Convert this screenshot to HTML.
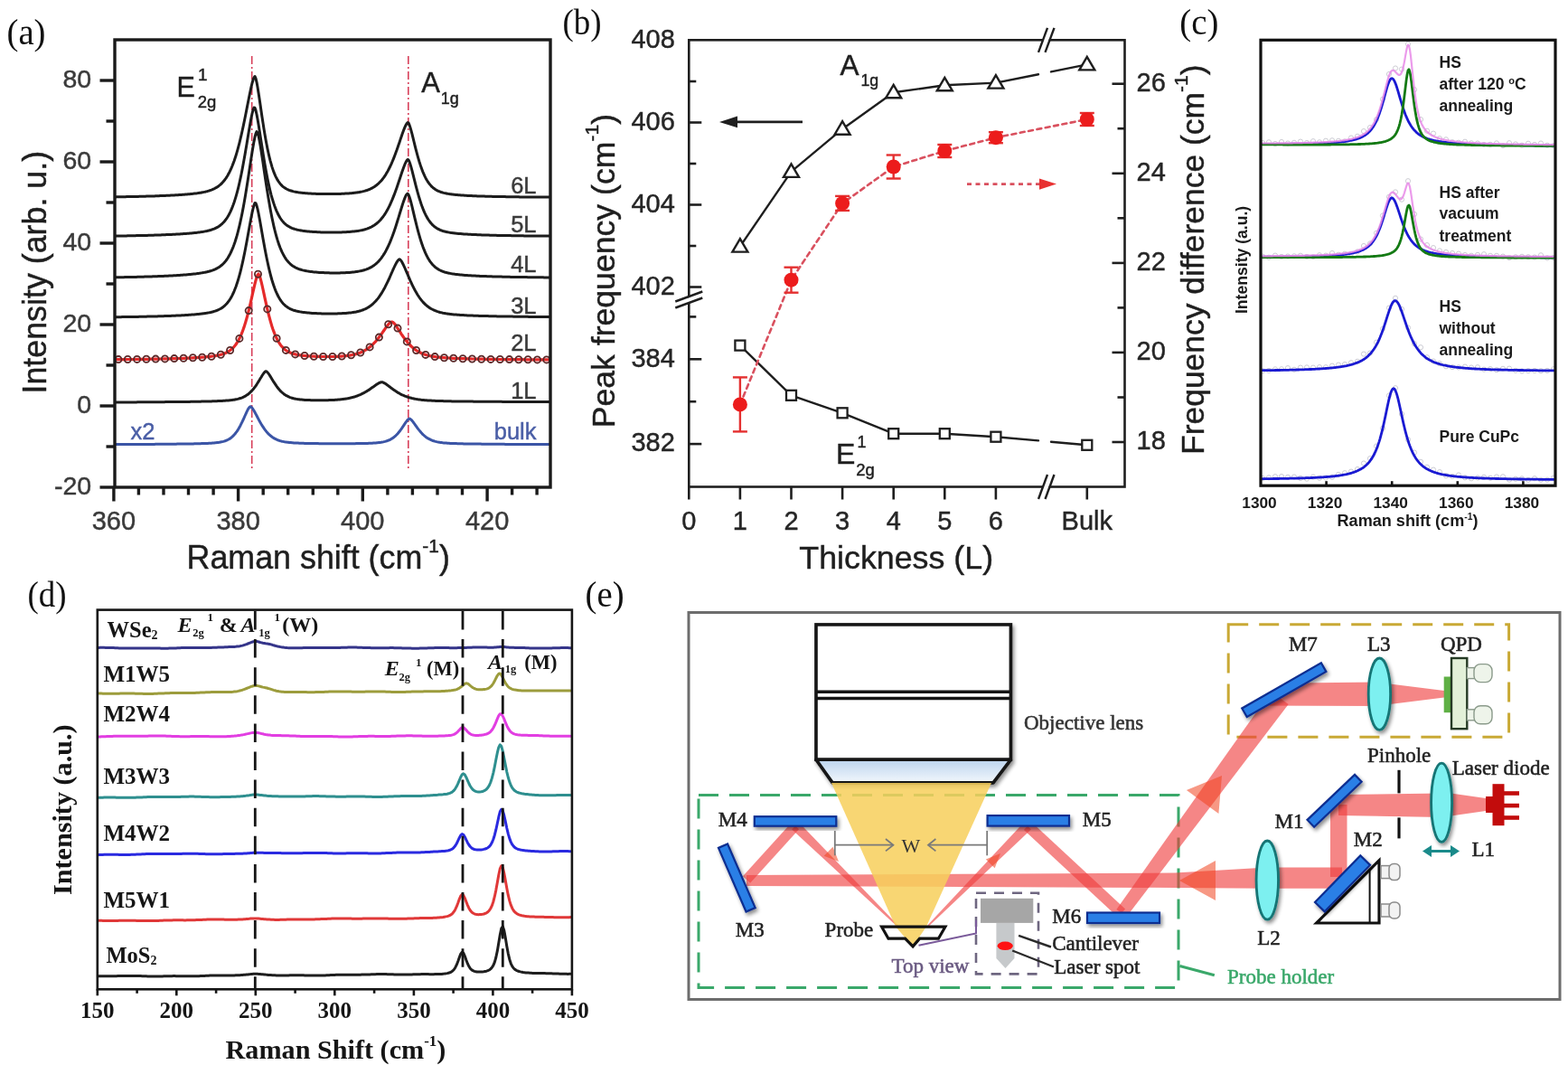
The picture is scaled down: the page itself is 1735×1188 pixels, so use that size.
<!DOCTYPE html>
<html><head><meta charset="utf-8"><title>Raman figure</title>
<style>html,body{margin:0;padding:0;background:#fff;width:1735px;height:1188px;overflow:hidden}svg{display:block}</style>
</head><body>
<svg width="1735" height="1188" viewBox="0 0 1735 1188">
<text x="7.5" y="49" font-family='"Liberation Serif", "Times New Roman", serif' font-size="40" fill="#111" text-anchor="start" font-weight="normal" font-style="normal" textLength="43" lengthAdjust="spacingAndGlyphs">(a)</text>
<text x="622.5" y="37.8" font-family='"Liberation Serif", "Times New Roman", serif' font-size="40" fill="#111" text-anchor="start" font-weight="normal" font-style="normal" textLength="43" lengthAdjust="spacingAndGlyphs">(b)</text>
<text x="1305.3" y="38.4" font-family='"Liberation Serif", "Times New Roman", serif' font-size="40" fill="#111" text-anchor="start" font-weight="normal" font-style="normal" textLength="43" lengthAdjust="spacingAndGlyphs">(c)</text>
<text x="30.5" y="671.4" font-family='"Liberation Serif", "Times New Roman", serif' font-size="40" fill="#111" text-anchor="start" font-weight="normal" font-style="normal" textLength="43" lengthAdjust="spacingAndGlyphs">(d)</text>
<text x="647.6" y="670.7" font-family='"Liberation Serif", "Times New Roman", serif' font-size="40" fill="#111" text-anchor="start" font-weight="normal" font-style="normal" textLength="43" lengthAdjust="spacingAndGlyphs">(e)</text>
<line x1="278.7" y1="62" x2="278.7" y2="521" stroke="#d8405a" stroke-width="1.6" stroke-dasharray="9 3 2 3"/>
<line x1="451.8" y1="62" x2="451.8" y2="521" stroke="#d8405a" stroke-width="1.6" stroke-dasharray="9 3 2 3"/>
<polyline points="128,217.9 129,217.8 130,217.8 131,217.8 132,217.8 133,217.8 134,217.8 135,217.7 136,217.7 137,217.7 138,217.7 139,217.7 140,217.6 141,217.6 142,217.6 143,217.6 144,217.6 145,217.5 146,217.5 147,217.5 148,217.5 149,217.5 150,217.4 151,217.4 152,217.4 153,217.4 154,217.3 155,217.3 156,217.3 157,217.3 158,217.2 159,217.2 160,217.2 161,217.2 162,217.1 163,217.1 164,217.1 165,217 166,217 167,217 168,217 169,216.9 170,216.9 171,216.9 172,216.8 173,216.8 174,216.8 175,216.7 176,216.7 177,216.6 178,216.6 179,216.6 180,216.5 181,216.5 182,216.4 183,216.4 184,216.3 185,216.3 186,216.3 187,216.2 188,216.2 189,216.1 190,216.1 191,216 192,216 193,215.9 194,215.8 195,215.8 196,215.7 197,215.7 198,215.6 199,215.5 200,215.5 201,215.4 202,215.3 203,215.2 204,215.2 205,215.1 206,215 207,214.9 208,214.8 209,214.8 210,214.7 211,214.6 212,214.5 213,214.4 214,214.2 215,214.1 216,214 217,213.9 218,213.8 219,213.6 220,213.5 221,213.3 222,213.2 223,213 224,212.8 225,212.6 226,212.4 227,212.2 228,211.9 229,211.7 230,211.4 231,211.1 232,210.8 233,210.4 234,210.1 235,209.7 236,209.2 237,208.8 238,208.2 239,207.7 240,207.1 241,206.4 242,205.7 243,204.9 244,204.1 245,203.1 246,202.1 247,201 248,199.8 249,198.5 250,197.1 251,195.6 252,193.9 253,192.1 254,190.2 255,188.1 256,185.9 257,183.5 258,180.9 259,178.2 260,175.3 261,172.2 262,168.9 263,165.4 264,161.7 265,157.8 266,153.7 267,149.4 268,145 269,140.4 270,135.6 271,130.7 272,125.7 273,120.6 274,115.5 275,110.5 276,105.5 277,100.7 278,96.1 279,92 280,88.5 281,85.8 282,84.5 283,86.6 284,90.8 285,96.3 286,102.4 287,109 288,115.8 289,122.7 290,129.5 291,136 292,142.4 293,148.4 294,154.2 295,159.6 296,164.6 297,169.3 298,173.6 299,177.6 300,181.2 301,184.6 302,187.6 303,190.4 304,192.8 305,195.1 306,197.1 307,198.9 308,200.5 309,201.9 310,203.2 311,204.4 312,205.4 313,206.3 314,207.1 315,207.8 316,208.4 317,209 318,209.5 319,210 320,210.4 321,210.7 322,211 323,211.3 324,211.6 325,211.9 326,212.1 327,212.3 328,212.5 329,212.6 330,212.8 331,212.9 332,213.1 333,213.2 334,213.3 335,213.4 336,213.5 337,213.6 338,213.7 339,213.8 340,213.8 341,213.9 342,214 343,214 344,214.1 345,214.2 346,214.2 347,214.3 348,214.3 349,214.3 350,214.4 351,214.4 352,214.4 353,214.5 354,214.5 355,214.5 356,214.5 357,214.6 358,214.6 359,214.6 360,214.6 361,214.6 362,214.6 363,214.6 364,214.6 365,214.6 366,214.6 367,214.6 368,214.6 369,214.6 370,214.6 371,214.5 372,214.5 373,214.5 374,214.5 375,214.4 376,214.4 377,214.4 378,214.3 379,214.3 380,214.2 381,214.2 382,214.1 383,214.1 384,214 385,214 386,213.9 387,213.8 388,213.7 389,213.7 390,213.6 391,213.5 392,213.3 393,213.2 394,213.1 395,213 396,212.8 397,212.7 398,212.5 399,212.3 400,212.1 401,211.9 402,211.6 403,211.4 404,211.1 405,210.8 406,210.5 407,210.1 408,209.8 409,209.3 410,208.9 411,208.4 412,207.9 413,207.3 414,206.7 415,206 416,205.3 417,204.5 418,203.7 419,202.8 420,201.8 421,200.8 422,199.7 423,198.5 424,197.2 425,195.8 426,194.3 427,192.8 428,191.1 429,189.4 430,187.5 431,185.5 432,183.5 433,181.3 434,179 435,176.6 436,174.1 437,171.5 438,168.8 439,166.1 440,163.2 441,160.3 442,157.4 443,154.4 444,151.5 445,148.6 446,145.8 447,143.1 448,140.6 449,138.5 450,136.8 451,135.6 452,136 453,138.1 454,141.1 455,144.6 456,148.4 457,152.4 458,156.5 459,160.6 460,164.6 461,168.4 462,172.1 463,175.6 464,179 465,182.1 466,185.1 467,187.8 468,190.4 469,192.7 470,194.9 471,196.9 472,198.7 473,200.3 474,201.8 475,203.2 476,204.4 477,205.6 478,206.6 479,207.5 480,208.3 481,209 482,209.7 483,210.3 484,210.8 485,211.3 486,211.7 487,212.1 488,212.5 489,212.8 490,213.1 491,213.4 492,213.6 493,213.8 494,214 495,214.2 496,214.4 497,214.6 498,214.7 499,214.8 500,215 501,215.1 502,215.2 503,215.3 504,215.4 505,215.5 506,215.6 507,215.7 508,215.8 509,215.8 510,215.9 511,216 512,216.1 513,216.1 514,216.2 515,216.2 516,216.3 517,216.4 518,216.4 519,216.5 520,216.5 521,216.6 522,216.6 523,216.7 524,216.7 525,216.7 526,216.8 527,216.8 528,216.9 529,216.9 530,216.9 531,217 532,217 533,217 534,217.1 535,217.1 536,217.1 537,217.2 538,217.2 539,217.2 540,217.2 541,217.3 542,217.3 543,217.3 544,217.3 545,217.4 546,217.4 547,217.4 548,217.4 549,217.5 550,217.5 551,217.5 552,217.5 553,217.5 554,217.6 555,217.6 556,217.6 557,217.6 558,217.6 559,217.6 560,217.7 561,217.7 562,217.7 563,217.7 564,217.7 565,217.7 566,217.7 567,217.8 568,217.8 569,217.8 570,217.8 571,217.8 572,217.8 573,217.8 574,217.8 575,217.9 576,217.9 577,217.9 578,217.9 579,217.9 580,217.9 581,217.9 582,217.9 583,217.9 584,218 585,218 586,218 587,218 588,218 589,218 590,218 591,218 592,218 593,218 594,218 595,218.1 596,218.1 597,218.1 598,218.1 599,218.1 600,218.1 601,218.1 602,218.1 603,218.1 604,218.1 605,218.1 606,218.1 607,218.1 608,218.1" fill="none" stroke="#1c1c1c" stroke-width="3.0" stroke-linejoin="round" stroke-linecap="round" />
<polyline points="128,261.1 129,261 130,261 131,261 132,261 133,261 134,261 135,261 136,260.9 137,260.9 138,260.9 139,260.9 140,260.9 141,260.8 142,260.8 143,260.8 144,260.8 145,260.8 146,260.8 147,260.7 148,260.7 149,260.7 150,260.7 151,260.6 152,260.6 153,260.6 154,260.6 155,260.6 156,260.5 157,260.5 158,260.5 159,260.5 160,260.4 161,260.4 162,260.4 163,260.4 164,260.3 165,260.3 166,260.3 167,260.2 168,260.2 169,260.2 170,260.2 171,260.1 172,260.1 173,260.1 174,260 175,260 176,260 177,259.9 178,259.9 179,259.8 180,259.8 181,259.8 182,259.7 183,259.7 184,259.6 185,259.6 186,259.6 187,259.5 188,259.5 189,259.4 190,259.4 191,259.3 192,259.3 193,259.2 194,259.2 195,259.1 196,259.1 197,259 198,258.9 199,258.9 200,258.8 201,258.8 202,258.7 203,258.6 204,258.5 205,258.5 206,258.4 207,258.3 208,258.2 209,258.2 210,258.1 211,258 212,257.9 213,257.8 214,257.7 215,257.6 216,257.5 217,257.4 218,257.3 219,257.1 220,257 221,256.9 222,256.7 223,256.6 224,256.4 225,256.3 226,256.1 227,255.9 228,255.7 229,255.5 230,255.2 231,255 232,254.7 233,254.5 234,254.1 235,253.8 236,253.4 237,253.1 238,252.6 239,252.1 240,251.6 241,251.1 242,250.5 243,249.8 244,249 245,248.2 246,247.3 247,246.3 248,245.2 249,244 250,242.7 251,241.3 252,239.7 253,238 254,236.1 255,234.1 256,231.8 257,229.4 258,226.8 259,224 260,220.9 261,217.6 262,214.1 263,210.3 264,206.3 265,202 266,197.4 267,192.7 268,187.6 269,182.3 270,176.8 271,171.2 272,165.3 273,159.4 274,153.3 275,147.3 276,141.4 277,135.7 278,130.4 279,125.7 280,121.8 281,119.1 282,119.2 283,122.1 284,126.5 285,131.7 286,137.6 287,143.8 288,150.2 289,156.7 290,163.1 291,169.4 292,175.6 293,181.5 294,187.2 295,192.6 296,197.7 297,202.5 298,207.1 299,211.3 300,215.3 301,218.9 302,222.3 303,225.4 304,228.3 305,230.9 306,233.3 307,235.5 308,237.5 309,239.4 310,241 311,242.5 312,243.9 313,245.1 314,246.2 315,247.2 316,248.1 317,248.9 318,249.6 319,250.2 320,250.8 321,251.4 322,251.8 323,252.3 324,252.7 325,253 326,253.4 327,253.6 328,253.9 329,254.2 330,254.4 331,254.6 332,254.8 333,255 334,255.1 335,255.3 336,255.4 337,255.5 338,255.7 339,255.8 340,255.9 341,256 342,256.1 343,256.2 344,256.2 345,256.3 346,256.4 347,256.5 348,256.5 349,256.6 350,256.6 351,256.7 352,256.7 353,256.8 354,256.8 355,256.9 356,256.9 357,256.9 358,256.9 359,257 360,257 361,257 362,257 363,257 364,257 365,257 366,257.1 367,257.1 368,257.1 369,257 370,257 371,257 372,257 373,257 374,257 375,257 376,256.9 377,256.9 378,256.9 379,256.8 380,256.8 381,256.8 382,256.7 383,256.7 384,256.6 385,256.5 386,256.5 387,256.4 388,256.3 389,256.2 390,256.1 391,256 392,255.9 393,255.8 394,255.7 395,255.6 396,255.4 397,255.3 398,255.1 399,254.9 400,254.7 401,254.5 402,254.2 403,254 404,253.7 405,253.4 406,253.1 407,252.7 408,252.3 409,251.9 410,251.5 411,251 412,250.4 413,249.8 414,249.2 415,248.5 416,247.8 417,247 418,246.2 419,245.2 420,244.2 421,243.2 422,242 423,240.8 424,239.5 425,238.1 426,236.6 427,235 428,233.3 429,231.5 430,229.6 431,227.6 432,225.5 433,223.2 434,220.9 435,218.4 436,215.9 437,213.2 438,210.5 439,207.7 440,204.8 441,201.8 442,198.8 443,195.8 444,192.8 445,189.8 446,186.9 447,184.2 448,181.7 449,179.5 450,177.7 451,176.5 452,176.9 453,178.9 454,181.8 455,185.2 456,188.9 457,192.8 458,196.8 459,200.8 460,204.8 461,208.6 462,212.3 463,215.9 464,219.3 465,222.4 466,225.5 467,228.3 468,230.9 469,233.3 470,235.6 471,237.7 472,239.6 473,241.4 474,243 475,244.4 476,245.8 477,247 478,248.1 479,249.1 480,250 481,250.8 482,251.6 483,252.3 484,252.9 485,253.4 486,253.9 487,254.4 488,254.8 489,255.1 490,255.5 491,255.8 492,256 493,256.3 494,256.5 495,256.7 496,256.9 497,257.1 498,257.3 499,257.4 500,257.6 501,257.7 502,257.8 503,258 504,258.1 505,258.2 506,258.3 507,258.4 508,258.5 509,258.6 510,258.6 511,258.7 512,258.8 513,258.9 514,258.9 515,259 516,259.1 517,259.1 518,259.2 519,259.2 520,259.3 521,259.3 522,259.4 523,259.5 524,259.5 525,259.5 526,259.6 527,259.6 528,259.7 529,259.7 530,259.8 531,259.8 532,259.8 533,259.9 534,259.9 535,259.9 536,260 537,260 538,260 539,260.1 540,260.1 541,260.1 542,260.2 543,260.2 544,260.2 545,260.2 546,260.3 547,260.3 548,260.3 549,260.3 550,260.4 551,260.4 552,260.4 553,260.4 554,260.4 555,260.5 556,260.5 557,260.5 558,260.5 559,260.5 560,260.6 561,260.6 562,260.6 563,260.6 564,260.6 565,260.6 566,260.7 567,260.7 568,260.7 569,260.7 570,260.7 571,260.7 572,260.8 573,260.8 574,260.8 575,260.8 576,260.8 577,260.8 578,260.8 579,260.8 580,260.9 581,260.9 582,260.9 583,260.9 584,260.9 585,260.9 586,260.9 587,260.9 588,260.9 589,261 590,261 591,261 592,261 593,261 594,261 595,261 596,261 597,261 598,261 599,261 600,261.1 601,261.1 602,261.1 603,261.1 604,261.1 605,261.1 606,261.1 607,261.1 608,261.1" fill="none" stroke="#1c1c1c" stroke-width="3.0" stroke-linejoin="round" stroke-linecap="round" />
<polyline points="128,306.8 129,306.8 130,306.8 131,306.8 132,306.8 133,306.7 134,306.7 135,306.7 136,306.7 137,306.7 138,306.6 139,306.6 140,306.6 141,306.6 142,306.6 143,306.5 144,306.5 145,306.5 146,306.5 147,306.5 148,306.4 149,306.4 150,306.4 151,306.4 152,306.3 153,306.3 154,306.3 155,306.3 156,306.2 157,306.2 158,306.2 159,306.2 160,306.1 161,306.1 162,306.1 163,306 164,306 165,306 166,305.9 167,305.9 168,305.9 169,305.8 170,305.8 171,305.8 172,305.7 173,305.7 174,305.7 175,305.6 176,305.6 177,305.6 178,305.5 179,305.5 180,305.4 181,305.4 182,305.3 183,305.3 184,305.2 185,305.2 186,305.2 187,305.1 188,305.1 189,305 190,304.9 191,304.9 192,304.8 193,304.8 194,304.7 195,304.7 196,304.6 197,304.5 198,304.5 199,304.4 200,304.3 201,304.3 202,304.2 203,304.1 204,304 205,304 206,303.9 207,303.8 208,303.7 209,303.6 210,303.5 211,303.4 212,303.3 213,303.2 214,303.1 215,303 216,302.9 217,302.8 218,302.6 219,302.5 220,302.4 221,302.2 222,302.1 223,301.9 224,301.7 225,301.6 226,301.4 227,301.2 228,301 229,300.8 230,300.5 231,300.3 232,300 233,299.7 234,299.4 235,299.1 236,298.7 237,298.3 238,297.9 239,297.4 240,296.9 241,296.3 242,295.7 243,295.1 244,294.3 245,293.6 246,292.7 247,291.7 248,290.7 249,289.6 250,288.3 251,287 252,285.5 253,283.8 254,282.1 255,280.1 256,278 257,275.7 258,273.3 259,270.6 260,267.7 261,264.5 262,261.2 263,257.6 264,253.7 265,249.6 266,245.2 267,240.5 268,235.6 269,230.4 270,224.9 271,219.2 272,213.2 273,207.1 274,200.7 275,194.3 276,187.7 277,181.1 278,174.6 279,168.2 280,162.2 281,156.6 282,151.7 283,147.9 284,145.6 285,146.8 286,150.3 287,155 288,160.6 289,166.7 290,173.2 291,179.9 292,186.7 293,193.5 294,200.2 295,206.8 296,213.1 297,219.2 298,225.1 299,230.7 300,236.1 301,241.1 302,245.8 303,250.3 304,254.5 305,258.4 306,262 307,265.4 308,268.5 309,271.4 310,274 311,276.4 312,278.7 313,280.7 314,282.6 315,284.3 316,285.9 317,287.3 318,288.6 319,289.7 320,290.8 321,291.8 322,292.7 323,293.5 324,294.2 325,294.8 326,295.4 327,296 328,296.5 329,296.9 330,297.3 331,297.7 332,298 333,298.3 334,298.6 335,298.9 336,299.1 337,299.3 338,299.6 339,299.7 340,299.9 341,300.1 342,300.2 343,300.4 344,300.5 345,300.6 346,300.7 347,300.9 348,301 349,301 350,301.1 351,301.2 352,301.3 353,301.4 354,301.4 355,301.5 356,301.5 357,301.6 358,301.6 359,301.7 360,301.7 361,301.8 362,301.8 363,301.8 364,301.8 365,301.9 366,301.9 367,301.9 368,301.9 369,301.9 370,301.9 371,301.9 372,301.9 373,301.9 374,301.9 375,301.9 376,301.9 377,301.8 378,301.8 379,301.8 380,301.7 381,301.7 382,301.7 383,301.6 384,301.6 385,301.5 386,301.4 387,301.4 388,301.3 389,301.2 390,301.1 391,301 392,300.9 393,300.7 394,300.6 395,300.5 396,300.3 397,300.1 398,299.9 399,299.7 400,299.5 401,299.3 402,299 403,298.7 404,298.4 405,298.1 406,297.7 407,297.3 408,296.9 409,296.4 410,295.9 411,295.4 412,294.8 413,294.1 414,293.4 415,292.6 416,291.8 417,290.9 418,290 419,288.9 420,287.8 421,286.6 422,285.3 423,283.9 424,282.5 425,280.9 426,279.2 427,277.4 428,275.5 429,273.5 430,271.4 431,269.2 432,266.8 433,264.3 434,261.7 435,259 436,256.2 437,253.2 438,250.2 439,247 440,243.8 441,240.6 442,237.3 443,234 444,230.7 445,227.5 446,224.4 447,221.5 448,218.9 449,216.6 450,214.9 451,214.1 452,215.3 453,217.8 454,221 455,224.7 456,228.7 457,232.8 458,237.1 459,241.3 460,245.4 461,249.5 462,253.4 463,257.1 464,260.7 465,264.1 466,267.3 467,270.3 468,273.1 469,275.7 470,278.1 471,280.4 472,282.5 473,284.4 474,286.2 475,287.8 476,289.3 477,290.6 478,291.9 479,293 480,294 481,295 482,295.8 483,296.6 484,297.3 485,297.9 486,298.5 487,299 488,299.5 489,299.9 490,300.3 491,300.6 492,301 493,301.3 494,301.5 495,301.8 496,302 497,302.2 498,302.4 499,302.6 500,302.8 501,302.9 502,303.1 503,303.2 504,303.4 505,303.5 506,303.6 507,303.7 508,303.8 509,303.9 510,304 511,304.1 512,304.2 513,304.3 514,304.4 515,304.4 516,304.5 517,304.6 518,304.7 519,304.7 520,304.8 521,304.8 522,304.9 523,305 524,305 525,305.1 526,305.1 527,305.2 528,305.2 529,305.3 530,305.3 531,305.4 532,305.4 533,305.4 534,305.5 535,305.5 536,305.6 537,305.6 538,305.6 539,305.7 540,305.7 541,305.7 542,305.8 543,305.8 544,305.8 545,305.9 546,305.9 547,305.9 548,306 549,306 550,306 551,306 552,306.1 553,306.1 554,306.1 555,306.1 556,306.2 557,306.2 558,306.2 559,306.2 560,306.3 561,306.3 562,306.3 563,306.3 564,306.3 565,306.4 566,306.4 567,306.4 568,306.4 569,306.4 570,306.4 571,306.5 572,306.5 573,306.5 574,306.5 575,306.5 576,306.5 577,306.6 578,306.6 579,306.6 580,306.6 581,306.6 582,306.6 583,306.6 584,306.7 585,306.7 586,306.7 587,306.7 588,306.7 589,306.7 590,306.7 591,306.7 592,306.8 593,306.8 594,306.8 595,306.8 596,306.8 597,306.8 598,306.8 599,306.8 600,306.8 601,306.8 602,306.9 603,306.9 604,306.9 605,306.9 606,306.9 607,306.9 608,306.9" fill="none" stroke="#1c1c1c" stroke-width="3.0" stroke-linejoin="round" stroke-linecap="round" />
<polyline points="128,350.7 129,350.7 130,350.7 131,350.7 132,350.7 133,350.7 134,350.7 135,350.6 136,350.6 137,350.6 138,350.6 139,350.6 140,350.6 141,350.6 142,350.5 143,350.5 144,350.5 145,350.5 146,350.5 147,350.5 148,350.4 149,350.4 150,350.4 151,350.4 152,350.4 153,350.4 154,350.3 155,350.3 156,350.3 157,350.3 158,350.3 159,350.2 160,350.2 161,350.2 162,350.2 163,350.1 164,350.1 165,350.1 166,350.1 167,350.1 168,350 169,350 170,350 171,350 172,349.9 173,349.9 174,349.9 175,349.8 176,349.8 177,349.8 178,349.8 179,349.7 180,349.7 181,349.7 182,349.6 183,349.6 184,349.6 185,349.5 186,349.5 187,349.5 188,349.4 189,349.4 190,349.3 191,349.3 192,349.3 193,349.2 194,349.2 195,349.1 196,349.1 197,349 198,349 199,348.9 200,348.9 201,348.8 202,348.8 203,348.7 204,348.7 205,348.6 206,348.5 207,348.5 208,348.4 209,348.3 210,348.3 211,348.2 212,348.1 213,348 214,348 215,347.9 216,347.8 217,347.7 218,347.6 219,347.5 220,347.4 221,347.3 222,347.2 223,347.1 224,347 225,346.8 226,346.7 227,346.5 228,346.4 229,346.2 230,346.1 231,345.9 232,345.7 233,345.5 234,345.2 235,345 236,344.7 237,344.4 238,344.1 239,343.8 240,343.4 241,343 242,342.5 243,342 244,341.5 245,340.9 246,340.2 247,339.5 248,338.7 249,337.8 250,336.8 251,335.7 252,334.5 253,333.2 254,331.8 255,330.2 256,328.5 257,326.6 258,324.5 259,322.3 260,319.8 261,317.2 262,314.3 263,311.2 264,307.9 265,304.4 266,300.6 267,296.5 268,292.2 269,287.7 270,282.9 271,278 272,272.8 273,267.5 274,262 275,256.5 276,250.9 277,245.5 278,240.2 279,235.2 280,230.8 281,227.1 282,224.6 283,224.7 284,227.3 285,231.1 286,235.8 287,241 288,246.5 289,252.2 290,258 291,263.7 292,269.3 293,274.7 294,280 295,285 296,289.8 297,294.4 298,298.7 299,302.7 300,306.5 301,310 302,313.2 303,316.2 304,319 305,321.6 306,323.9 307,326 308,328 309,329.8 310,331.4 311,332.9 312,334.2 313,335.4 314,336.5 315,337.4 316,338.3 317,339.1 318,339.8 319,340.5 320,341 321,341.6 322,342 323,342.5 324,342.9 325,343.2 326,343.5 327,343.8 328,344.1 329,344.3 330,344.5 331,344.7 332,344.9 333,345.1 334,345.2 335,345.4 336,345.5 337,345.6 338,345.7 339,345.8 340,345.9 341,346 342,346.1 343,346.2 344,346.3 345,346.4 346,346.4 347,346.5 348,346.5 349,346.6 350,346.6 351,346.7 352,346.7 353,346.8 354,346.8 355,346.8 356,346.9 357,346.9 358,346.9 359,346.9 360,346.9 361,347 362,347 363,347 364,347 365,347 366,347 367,347 368,347 369,347 370,346.9 371,346.9 372,346.9 373,346.9 374,346.8 375,346.8 376,346.8 377,346.7 378,346.7 379,346.6 380,346.6 381,346.5 382,346.5 383,346.4 384,346.3 385,346.2 386,346.1 387,346 388,345.9 389,345.8 390,345.6 391,345.5 392,345.3 393,345.2 394,345 395,344.7 396,344.5 397,344.3 398,344 399,343.7 400,343.4 401,343 402,342.7 403,342.2 404,341.8 405,341.3 406,340.8 407,340.2 408,339.6 409,339 410,338.2 411,337.5 412,336.7 413,335.8 414,334.8 415,333.8 416,332.7 417,331.6 418,330.4 419,329.1 420,327.7 421,326.2 422,324.7 423,323 424,321.3 425,319.5 426,317.7 427,315.7 428,313.7 429,311.6 430,309.5 431,307.3 432,305 433,302.7 434,300.5 435,298.2 436,296 437,293.9 438,291.9 439,290.1 440,288.5 441,287.4 442,286.8 443,287.4 444,288.6 445,290.3 446,292.2 447,294.3 448,296.5 449,298.8 450,301.2 451,303.5 452,305.9 453,308.2 454,310.5 455,312.7 456,314.8 457,316.9 458,318.9 459,320.8 460,322.6 461,324.3 462,326 463,327.5 464,329 465,330.4 466,331.7 467,332.9 468,334.1 469,335.1 470,336.1 471,337.1 472,337.9 473,338.8 474,339.5 475,340.2 476,340.9 477,341.5 478,342 479,342.5 480,343 481,343.4 482,343.8 483,344.2 484,344.6 485,344.9 486,345.2 487,345.5 488,345.7 489,345.9 490,346.2 491,346.4 492,346.5 493,346.7 494,346.9 495,347 496,347.2 497,347.3 498,347.4 499,347.5 500,347.7 501,347.8 502,347.9 503,347.9 504,348 505,348.1 506,348.2 507,348.3 508,348.3 509,348.4 510,348.5 511,348.5 512,348.6 513,348.6 514,348.7 515,348.8 516,348.8 517,348.9 518,348.9 519,348.9 520,349 521,349 522,349.1 523,349.1 524,349.2 525,349.2 526,349.2 527,349.3 528,349.3 529,349.3 530,349.4 531,349.4 532,349.4 533,349.5 534,349.5 535,349.5 536,349.5 537,349.6 538,349.6 539,349.6 540,349.6 541,349.7 542,349.7 543,349.7 544,349.7 545,349.8 546,349.8 547,349.8 548,349.8 549,349.8 550,349.9 551,349.9 552,349.9 553,349.9 554,349.9 555,350 556,350 557,350 558,350 559,350 560,350 561,350.1 562,350.1 563,350.1 564,350.1 565,350.1 566,350.1 567,350.1 568,350.2 569,350.2 570,350.2 571,350.2 572,350.2 573,350.2 574,350.2 575,350.2 576,350.3 577,350.3 578,350.3 579,350.3 580,350.3 581,350.3 582,350.3 583,350.3 584,350.3 585,350.4 586,350.4 587,350.4 588,350.4 589,350.4 590,350.4 591,350.4 592,350.4 593,350.4 594,350.4 595,350.4 596,350.5 597,350.5 598,350.5 599,350.5 600,350.5 601,350.5 602,350.5 603,350.5 604,350.5 605,350.5 606,350.5 607,350.5 608,350.5" fill="none" stroke="#1c1c1c" stroke-width="3.0" stroke-linejoin="round" stroke-linecap="round" />
<polyline points="128,445 129,444.9 130,444.9 131,444.9 132,444.9 133,444.9 134,444.9 135,444.9 136,444.9 137,444.9 138,444.9 139,444.9 140,444.9 141,444.9 142,444.9 143,444.9 144,444.9 145,444.9 146,444.9 147,444.9 148,444.9 149,444.9 150,444.9 151,444.9 152,444.8 153,444.8 154,444.8 155,444.8 156,444.8 157,444.8 158,444.8 159,444.8 160,444.8 161,444.8 162,444.8 163,444.8 164,444.8 165,444.8 166,444.8 167,444.8 168,444.8 169,444.7 170,444.7 171,444.7 172,444.7 173,444.7 174,444.7 175,444.7 176,444.7 177,444.7 178,444.7 179,444.7 180,444.7 181,444.7 182,444.7 183,444.6 184,444.6 185,444.6 186,444.6 187,444.6 188,444.6 189,444.6 190,444.6 191,444.6 192,444.6 193,444.6 194,444.6 195,444.5 196,444.5 197,444.5 198,444.5 199,444.5 200,444.5 201,444.5 202,444.5 203,444.5 204,444.4 205,444.4 206,444.4 207,444.4 208,444.4 209,444.4 210,444.4 211,444.3 212,444.3 213,444.3 214,444.3 215,444.3 216,444.3 217,444.2 218,444.2 219,444.2 220,444.2 221,444.2 222,444.2 223,444.1 224,444.1 225,444.1 226,444.1 227,444 228,444 229,444 230,444 231,443.9 232,443.9 233,443.9 234,443.9 235,443.8 236,443.8 237,443.8 238,443.7 239,443.7 240,443.7 241,443.6 242,443.6 243,443.5 244,443.5 245,443.4 246,443.4 247,443.3 248,443.3 249,443.2 250,443.1 251,443.1 252,443 253,442.9 254,442.8 255,442.7 256,442.6 257,442.4 258,442.3 259,442.2 260,442 261,441.8 262,441.6 263,441.4 264,441.1 265,440.8 266,440.5 267,440.2 268,439.8 269,439.3 270,438.9 271,438.3 272,437.8 273,437.1 274,436.4 275,435.7 276,434.8 277,433.9 278,432.9 279,431.9 280,430.7 281,429.5 282,428.2 283,426.8 284,425.3 285,423.7 286,422.1 287,420.5 288,418.8 289,417.2 290,415.5 291,414 292,412.6 293,411.5 294,410.7 295,411 296,411.9 297,413.1 298,414.5 299,416.1 300,417.7 301,419.4 302,421.1 303,422.7 304,424.2 305,425.7 306,427.2 307,428.5 308,429.8 309,431 310,432.1 311,433.1 312,434 313,434.9 314,435.7 315,436.4 316,437.1 317,437.7 318,438.2 319,438.7 320,439.2 321,439.6 322,439.9 323,440.2 324,440.5 325,440.8 326,441 327,441.2 328,441.4 329,441.6 330,441.7 331,441.8 332,442 333,442.1 334,442.1 335,442.2 336,442.3 337,442.4 338,442.4 339,442.5 340,442.5 341,442.6 342,442.6 343,442.6 344,442.7 345,442.7 346,442.7 347,442.7 348,442.7 349,442.8 350,442.8 351,442.8 352,442.8 353,442.8 354,442.8 355,442.8 356,442.8 357,442.8 358,442.7 359,442.7 360,442.7 361,442.7 362,442.7 363,442.7 364,442.6 365,442.6 366,442.6 367,442.5 368,442.5 369,442.4 370,442.4 371,442.3 372,442.2 373,442.2 374,442.1 375,442 376,441.9 377,441.8 378,441.7 379,441.6 380,441.5 381,441.3 382,441.2 383,441 384,440.9 385,440.7 386,440.5 387,440.3 388,440 389,439.8 390,439.5 391,439.3 392,439 393,438.7 394,438.3 395,438 396,437.6 397,437.2 398,436.8 399,436.4 400,435.9 401,435.4 402,434.9 403,434.4 404,433.8 405,433.2 406,432.6 407,432 408,431.4 409,430.7 410,430 411,429.3 412,428.6 413,427.9 414,427.2 415,426.5 416,425.8 417,425.1 418,424.5 419,423.9 420,423.4 421,423 422,422.7 423,422.7 424,423.1 425,423.6 426,424.1 427,424.8 428,425.5 429,426.2 430,427 431,427.7 432,428.5 433,429.3 434,430 435,430.7 436,431.4 437,432.1 438,432.8 439,433.4 440,434.1 441,434.7 442,435.2 443,435.8 444,436.3 445,436.8 446,437.2 447,437.6 448,438.1 449,438.4 450,438.8 451,439.1 452,439.5 453,439.8 454,440 455,440.3 456,440.6 457,440.8 458,441 459,441.2 460,441.4 461,441.6 462,441.7 463,441.9 464,442 465,442.1 466,442.3 467,442.4 468,442.5 469,442.6 470,442.7 471,442.7 472,442.8 473,442.9 474,443 475,443 476,443.1 477,443.1 478,443.2 479,443.2 480,443.3 481,443.3 482,443.4 483,443.4 484,443.5 485,443.5 486,443.5 487,443.6 488,443.6 489,443.6 490,443.6 491,443.7 492,443.7 493,443.7 494,443.7 495,443.8 496,443.8 497,443.8 498,443.8 499,443.8 500,443.9 501,443.9 502,443.9 503,443.9 504,443.9 505,443.9 506,444 507,444 508,444 509,444 510,444 511,444 512,444 513,444 514,444.1 515,444.1 516,444.1 517,444.1 518,444.1 519,444.1 520,444.1 521,444.1 522,444.1 523,444.1 524,444.2 525,444.2 526,444.2 527,444.2 528,444.2 529,444.2 530,444.2 531,444.2 532,444.2 533,444.2 534,444.2 535,444.2 536,444.2 537,444.3 538,444.3 539,444.3 540,444.3 541,444.3 542,444.3 543,444.3 544,444.3 545,444.3 546,444.3 547,444.3 548,444.3 549,444.3 550,444.3 551,444.3 552,444.3 553,444.3 554,444.3 555,444.3 556,444.4 557,444.4 558,444.4 559,444.4 560,444.4 561,444.4 562,444.4 563,444.4 564,444.4 565,444.4 566,444.4 567,444.4 568,444.4 569,444.4 570,444.4 571,444.4 572,444.4 573,444.4 574,444.4 575,444.4 576,444.4 577,444.4 578,444.4 579,444.4 580,444.4 581,444.4 582,444.4 583,444.4 584,444.4 585,444.4 586,444.4 587,444.4 588,444.4 589,444.5 590,444.5 591,444.5 592,444.5 593,444.5 594,444.5 595,444.5 596,444.5 597,444.5 598,444.5 599,444.5 600,444.5 601,444.5 602,444.5 603,444.5 604,444.5 605,444.5 606,444.5 607,444.5 608,444.5" fill="none" stroke="#1c1c1c" stroke-width="3.0" stroke-linejoin="round" stroke-linecap="round" />
<polyline points="128,397.7 129,397.7 130,397.7 131,397.6 132,397.6 133,397.6 134,397.6 135,397.6 136,397.6 137,397.6 138,397.6 139,397.6 140,397.6 141,397.5 142,397.5 143,397.5 144,397.5 145,397.5 146,397.5 147,397.5 148,397.5 149,397.5 150,397.5 151,397.4 152,397.4 153,397.4 154,397.4 155,397.4 156,397.4 157,397.4 158,397.3 159,397.3 160,397.3 161,397.3 162,397.3 163,397.3 164,397.3 165,397.2 166,397.2 167,397.2 168,397.2 169,397.2 170,397.2 171,397.1 172,397.1 173,397.1 174,397.1 175,397.1 176,397.1 177,397 178,397 179,397 180,397 181,396.9 182,396.9 183,396.9 184,396.9 185,396.9 186,396.8 187,396.8 188,396.8 189,396.8 190,396.7 191,396.7 192,396.7 193,396.6 194,396.6 195,396.6 196,396.6 197,396.5 198,396.5 199,396.5 200,396.4 201,396.4 202,396.3 203,396.3 204,396.3 205,396.2 206,396.2 207,396.1 208,396.1 209,396.1 210,396 211,396 212,395.9 213,395.9 214,395.8 215,395.7 216,395.7 217,395.6 218,395.6 219,395.5 220,395.4 221,395.4 222,395.3 223,395.2 224,395.2 225,395.1 226,395 227,394.9 228,394.8 229,394.7 230,394.6 231,394.5 232,394.4 233,394.3 234,394.2 235,394 236,393.9 237,393.7 238,393.6 239,393.4 240,393.2 241,393 242,392.8 243,392.6 244,392.3 245,392.1 246,391.8 247,391.4 248,391.1 249,390.7 250,390.2 251,389.8 252,389.2 253,388.6 254,388 255,387.3 256,386.4 257,385.6 258,384.6 259,383.5 260,382.3 261,381 262,379.5 263,377.9 264,376.2 265,374.2 266,372.1 267,369.9 268,367.4 269,364.7 270,361.9 271,358.8 272,355.5 273,352 274,348.3 275,344.4 276,340.3 277,336 278,331.7 279,327.2 280,322.7 281,318.3 282,314.1 283,310.1 284,306.7 285,304.1 286,303 287,304.7 288,307.6 289,311.3 290,315.5 291,320 292,324.7 293,329.3 294,333.9 295,338.4 296,342.7 297,346.8 298,350.7 299,354.4 300,357.9 301,361.2 302,364.2 303,366.9 304,369.5 305,371.9 306,374 307,376 308,377.8 309,379.4 310,380.9 311,382.2 312,383.4 313,384.5 314,385.5 315,386.4 316,387.2 317,387.9 318,388.5 319,389.1 320,389.6 321,390 322,390.4 323,390.8 324,391.1 325,391.4 326,391.7 327,391.9 328,392.2 329,392.4 330,392.6 331,392.7 332,392.9 333,393 334,393.2 335,393.3 336,393.4 337,393.5 338,393.6 339,393.7 340,393.8 341,393.8 342,393.9 343,394 344,394 345,394.1 346,394.2 347,394.2 348,394.2 349,394.3 350,394.3 351,394.4 352,394.4 353,394.4 354,394.5 355,394.5 356,394.5 357,394.5 358,394.5 359,394.5 360,394.5 361,394.5 362,394.5 363,394.5 364,394.5 365,394.5 366,394.5 367,394.5 368,394.5 369,394.5 370,394.4 371,394.4 372,394.4 373,394.3 374,394.3 375,394.2 376,394.2 377,394.1 378,394.1 379,394 380,393.9 381,393.8 382,393.7 383,393.6 384,393.5 385,393.4 386,393.2 387,393.1 388,392.9 389,392.7 390,392.5 391,392.3 392,392.1 393,391.9 394,391.6 395,391.3 396,391 397,390.6 398,390.3 399,389.9 400,389.5 401,389 402,388.5 403,388 404,387.4 405,386.8 406,386.2 407,385.5 408,384.8 409,384 410,383.2 411,382.3 412,381.4 413,380.5 414,379.4 415,378.4 416,377.3 417,376.1 418,374.9 419,373.6 420,372.3 421,371 422,369.6 423,368.2 424,366.7 425,365.3 426,363.8 427,362.4 428,361 429,359.7 430,358.5 431,357.4 432,356.6 433,356 434,356 435,356.6 436,357.6 437,358.8 438,360.1 439,361.6 440,363.1 441,364.6 442,366.2 443,367.7 444,369.3 445,370.8 446,372.2 447,373.6 448,375 449,376.3 450,377.6 451,378.8 452,379.9 453,381 454,382 455,383 456,383.9 457,384.8 458,385.6 459,386.4 460,387.1 461,387.8 462,388.4 463,389 464,389.5 465,390 466,390.5 467,390.9 468,391.3 469,391.7 470,392.1 471,392.4 472,392.7 473,393 474,393.2 475,393.5 476,393.7 477,393.9 478,394.1 479,394.3 480,394.4 481,394.6 482,394.7 483,394.9 484,395 485,395.1 486,395.2 487,395.3 488,395.4 489,395.5 490,395.6 491,395.6 492,395.7 493,395.8 494,395.9 495,395.9 496,396 497,396 498,396.1 499,396.2 500,396.2 501,396.3 502,396.3 503,396.3 504,396.4 505,396.4 506,396.5 507,396.5 508,396.5 509,396.6 510,396.6 511,396.6 512,396.7 513,396.7 514,396.7 515,396.8 516,396.8 517,396.8 518,396.9 519,396.9 520,396.9 521,396.9 522,397 523,397 524,397 525,397 526,397.1 527,397.1 528,397.1 529,397.1 530,397.1 531,397.2 532,397.2 533,397.2 534,397.2 535,397.2 536,397.2 537,397.3 538,397.3 539,397.3 540,397.3 541,397.3 542,397.3 543,397.4 544,397.4 545,397.4 546,397.4 547,397.4 548,397.4 549,397.4 550,397.5 551,397.5 552,397.5 553,397.5 554,397.5 555,397.5 556,397.5 557,397.5 558,397.6 559,397.6 560,397.6 561,397.6 562,397.6 563,397.6 564,397.6 565,397.6 566,397.6 567,397.6 568,397.7 569,397.7 570,397.7 571,397.7 572,397.7 573,397.7 574,397.7 575,397.7 576,397.7 577,397.7 578,397.7 579,397.7 580,397.8 581,397.8 582,397.8 583,397.8 584,397.8 585,397.8 586,397.8 587,397.8 588,397.8 589,397.8 590,397.8 591,397.8 592,397.8 593,397.8 594,397.9 595,397.9 596,397.9 597,397.9 598,397.9 599,397.9 600,397.9 601,397.9 602,397.9 603,397.9 604,397.9 605,397.9 606,397.9 607,397.9 608,397.9" fill="none" stroke="#e52a2a" stroke-width="3.2" stroke-linejoin="round" stroke-linecap="round" />
<g fill="none" stroke="#5a2a2a" stroke-width="1.8"><circle cx="131" cy="397.6" r="3.6"/><circle cx="141.3" cy="397.5" r="3.6"/><circle cx="151.6" cy="397.4" r="3.6"/><circle cx="161.9" cy="397.3" r="3.6"/><circle cx="172.2" cy="397.1" r="3.6"/><circle cx="182.5" cy="396.9" r="3.6"/><circle cx="192.8" cy="396.6" r="3.6"/><circle cx="203.1" cy="396.3" r="3.6"/><circle cx="213.4" cy="395.8" r="3.6"/><circle cx="223.7" cy="395.2" r="3.6"/><circle cx="234" cy="394.2" r="3.6"/><circle cx="244.3" cy="392.3" r="3.6"/><circle cx="254.6" cy="387.5" r="3.6"/><circle cx="264.9" cy="374.4" r="3.6"/><circle cx="275.2" cy="343.6" r="3.6"/><circle cx="285.5" cy="303.3" r="3.6"/><circle cx="295.8" cy="341.9" r="3.6"/><circle cx="306.1" cy="374.2" r="3.6"/><circle cx="316.4" cy="387.4" r="3.6"/><circle cx="326.7" cy="391.9" r="3.6"/><circle cx="337" cy="393.5" r="3.6"/><circle cx="347.3" cy="394.2" r="3.6"/><circle cx="357.6" cy="394.5" r="3.6"/><circle cx="367.9" cy="394.5" r="3.6"/><circle cx="378.2" cy="394" r="3.6"/><circle cx="388.5" cy="392.8" r="3.6"/><circle cx="398.8" cy="390" r="3.6"/><circle cx="409.1" cy="383.9" r="3.6"/><circle cx="419.4" cy="373.1" r="3.6"/><circle cx="429.7" cy="358.8" r="3.6"/><circle cx="440" cy="363.1" r="3.6"/><circle cx="450.3" cy="377.9" r="3.6"/><circle cx="460.6" cy="387.5" r="3.6"/><circle cx="470.9" cy="392.4" r="3.6"/><circle cx="481.2" cy="394.6" r="3.6"/><circle cx="491.5" cy="395.7" r="3.6"/><circle cx="501.8" cy="396.3" r="3.6"/><circle cx="512.1" cy="396.7" r="3.6"/><circle cx="522.4" cy="397" r="3.6"/><circle cx="532.7" cy="397.2" r="3.6"/><circle cx="543" cy="397.4" r="3.6"/><circle cx="553.3" cy="397.5" r="3.6"/><circle cx="563.6" cy="397.6" r="3.6"/><circle cx="573.9" cy="397.7" r="3.6"/><circle cx="584.2" cy="397.8" r="3.6"/><circle cx="594.5" cy="397.9" r="3.6"/><circle cx="604.8" cy="397.9" r="3.6"/></g>
<polyline points="128,491.5 129,491.5 130,491.5 131,491.5 132,491.5 133,491.5 134,491.5 135,491.5 136,491.5 137,491.5 138,491.5 139,491.5 140,491.5 141,491.5 142,491.5 143,491.5 144,491.5 145,491.5 146,491.5 147,491.5 148,491.5 149,491.5 150,491.5 151,491.5 152,491.4 153,491.4 154,491.4 155,491.4 156,491.4 157,491.4 158,491.4 159,491.4 160,491.4 161,491.4 162,491.4 163,491.4 164,491.4 165,491.4 166,491.4 167,491.4 168,491.4 169,491.4 170,491.4 171,491.4 172,491.3 173,491.3 174,491.3 175,491.3 176,491.3 177,491.3 178,491.3 179,491.3 180,491.3 181,491.3 182,491.3 183,491.3 184,491.3 185,491.3 186,491.2 187,491.2 188,491.2 189,491.2 190,491.2 191,491.2 192,491.2 193,491.2 194,491.2 195,491.2 196,491.1 197,491.1 198,491.1 199,491.1 200,491.1 201,491.1 202,491.1 203,491.1 204,491 205,491 206,491 207,491 208,491 209,491 210,490.9 211,490.9 212,490.9 213,490.9 214,490.9 215,490.8 216,490.8 217,490.8 218,490.8 219,490.8 220,490.7 221,490.7 222,490.7 223,490.6 224,490.6 225,490.6 226,490.5 227,490.5 228,490.5 229,490.4 230,490.4 231,490.3 232,490.3 233,490.2 234,490.2 235,490.1 236,490 237,489.9 238,489.8 239,489.7 240,489.6 241,489.5 242,489.4 243,489.2 244,489 245,488.8 246,488.6 247,488.4 248,488.1 249,487.8 250,487.4 251,487 252,486.5 253,486 254,485.4 255,484.7 256,484 257,483.1 258,482.2 259,481.1 260,480 261,478.7 262,477.4 263,475.9 264,474.3 265,472.5 266,470.7 267,468.7 268,466.6 269,464.5 270,462.3 271,460 272,457.8 273,455.6 274,453.6 275,451.8 276,450.4 277,449.7 278,450.2 279,451.3 280,452.7 281,454.3 282,456.1 283,457.9 284,459.8 285,461.7 286,463.6 287,465.5 288,467.3 289,469 290,470.6 291,472.2 292,473.7 293,475.1 294,476.4 295,477.7 296,478.8 297,479.9 298,480.8 299,481.7 300,482.6 301,483.3 302,484 303,484.6 304,485.2 305,485.7 306,486.2 307,486.6 308,487 309,487.3 310,487.7 311,487.9 312,488.2 313,488.4 314,488.6 315,488.8 316,488.9 317,489.1 318,489.2 319,489.3 320,489.5 321,489.6 322,489.6 323,489.7 324,489.8 325,489.9 326,489.9 327,490 328,490 329,490.1 330,490.1 331,490.2 332,490.2 333,490.2 334,490.3 335,490.3 336,490.3 337,490.4 338,490.4 339,490.4 340,490.4 341,490.5 342,490.5 343,490.5 344,490.5 345,490.5 346,490.6 347,490.6 348,490.6 349,490.6 350,490.6 351,490.6 352,490.6 353,490.7 354,490.7 355,490.7 356,490.7 357,490.7 358,490.7 359,490.7 360,490.7 361,490.7 362,490.7 363,490.7 364,490.7 365,490.7 366,490.8 367,490.8 368,490.8 369,490.8 370,490.8 371,490.8 372,490.8 373,490.8 374,490.8 375,490.8 376,490.8 377,490.8 378,490.8 379,490.8 380,490.8 381,490.8 382,490.7 383,490.7 384,490.7 385,490.7 386,490.7 387,490.7 388,490.7 389,490.7 390,490.7 391,490.7 392,490.7 393,490.7 394,490.6 395,490.6 396,490.6 397,490.6 398,490.6 399,490.6 400,490.6 401,490.5 402,490.5 403,490.5 404,490.5 405,490.4 406,490.4 407,490.4 408,490.3 409,490.3 410,490.3 411,490.2 412,490.2 413,490.1 414,490 415,490 416,489.9 417,489.8 418,489.7 419,489.6 420,489.5 421,489.4 422,489.2 423,489.1 424,488.9 425,488.6 426,488.4 427,488.1 428,487.8 429,487.4 430,487 431,486.6 432,486.1 433,485.5 434,484.9 435,484.2 436,483.5 437,482.7 438,481.8 439,480.8 440,479.7 441,478.5 442,477.3 443,476 444,474.6 445,473.2 446,471.7 447,470.1 448,468.6 449,467.1 450,465.8 451,464.5 452,463.6 453,463.1 454,463.5 455,464.4 456,465.4 457,466.7 458,468 459,469.4 460,470.8 461,472.2 462,473.6 463,474.9 464,476.1 465,477.3 466,478.5 467,479.6 468,480.6 469,481.5 470,482.4 471,483.2 472,483.9 473,484.6 474,485.2 475,485.7 476,486.2 477,486.7 478,487.1 479,487.5 480,487.8 481,488.1 482,488.4 483,488.6 484,488.9 485,489.1 486,489.2 487,489.4 488,489.5 489,489.6 490,489.8 491,489.9 492,490 493,490 494,490.1 495,490.2 496,490.3 497,490.3 498,490.4 499,490.4 500,490.5 501,490.5 502,490.5 503,490.6 504,490.6 505,490.6 506,490.7 507,490.7 508,490.7 509,490.8 510,490.8 511,490.8 512,490.8 513,490.9 514,490.9 515,490.9 516,490.9 517,490.9 518,490.9 519,491 520,491 521,491 522,491 523,491 524,491 525,491.1 526,491.1 527,491.1 528,491.1 529,491.1 530,491.1 531,491.1 532,491.1 533,491.2 534,491.2 535,491.2 536,491.2 537,491.2 538,491.2 539,491.2 540,491.2 541,491.2 542,491.2 543,491.2 544,491.3 545,491.3 546,491.3 547,491.3 548,491.3 549,491.3 550,491.3 551,491.3 552,491.3 553,491.3 554,491.3 555,491.3 556,491.3 557,491.3 558,491.3 559,491.4 560,491.4 561,491.4 562,491.4 563,491.4 564,491.4 565,491.4 566,491.4 567,491.4 568,491.4 569,491.4 570,491.4 571,491.4 572,491.4 573,491.4 574,491.4 575,491.4 576,491.4 577,491.4 578,491.4 579,491.4 580,491.4 581,491.5 582,491.5 583,491.5 584,491.5 585,491.5 586,491.5 587,491.5 588,491.5 589,491.5 590,491.5 591,491.5 592,491.5 593,491.5 594,491.5 595,491.5 596,491.5 597,491.5 598,491.5 599,491.5 600,491.5 601,491.5 602,491.5 603,491.5 604,491.5 605,491.5 606,491.5 607,491.5 608,491.5" fill="none" stroke="#3b55a6" stroke-width="3.0" stroke-linejoin="round" stroke-linecap="round" />
<rect x="127" y="44" width="482" height="495" fill="none" stroke="#1a1a1a" stroke-width="3.4"/>
<line x1="110.5" y1="539" x2="127" y2="539" stroke="#1a1a1a" stroke-width="3.4" />
<text x="101.2" y="546.5" font-family='"Liberation Sans", Arial, sans-serif' font-size="28.5" fill="#3a3a3a" text-anchor="end" font-weight="normal" font-style="normal"  stroke="#3a3a3a" stroke-width="0.45">-20</text>
<line x1="117.5" y1="494" x2="127" y2="494" stroke="#1a1a1a" stroke-width="3.4" />
<line x1="110.5" y1="449" x2="127" y2="449" stroke="#1a1a1a" stroke-width="3.4" />
<text x="101.2" y="456.5" font-family='"Liberation Sans", Arial, sans-serif' font-size="28.5" fill="#3a3a3a" text-anchor="end" font-weight="normal" font-style="normal"  stroke="#3a3a3a" stroke-width="0.45">0</text>
<line x1="117.5" y1="404" x2="127" y2="404" stroke="#1a1a1a" stroke-width="3.4" />
<line x1="110.5" y1="359" x2="127" y2="359" stroke="#1a1a1a" stroke-width="3.4" />
<text x="101.2" y="366.5" font-family='"Liberation Sans", Arial, sans-serif' font-size="28.5" fill="#3a3a3a" text-anchor="end" font-weight="normal" font-style="normal"  stroke="#3a3a3a" stroke-width="0.45">20</text>
<line x1="117.5" y1="314" x2="127" y2="314" stroke="#1a1a1a" stroke-width="3.4" />
<line x1="110.5" y1="269" x2="127" y2="269" stroke="#1a1a1a" stroke-width="3.4" />
<text x="101.2" y="276.5" font-family='"Liberation Sans", Arial, sans-serif' font-size="28.5" fill="#3a3a3a" text-anchor="end" font-weight="normal" font-style="normal"  stroke="#3a3a3a" stroke-width="0.45">40</text>
<line x1="117.5" y1="224" x2="127" y2="224" stroke="#1a1a1a" stroke-width="3.4" />
<line x1="110.5" y1="179" x2="127" y2="179" stroke="#1a1a1a" stroke-width="3.4" />
<text x="101.2" y="186.5" font-family='"Liberation Sans", Arial, sans-serif' font-size="28.5" fill="#3a3a3a" text-anchor="end" font-weight="normal" font-style="normal"  stroke="#3a3a3a" stroke-width="0.45">60</text>
<line x1="117.5" y1="134" x2="127" y2="134" stroke="#1a1a1a" stroke-width="3.4" />
<line x1="110.5" y1="89" x2="127" y2="89" stroke="#1a1a1a" stroke-width="3.4" />
<text x="101.2" y="96.5" font-family='"Liberation Sans", Arial, sans-serif' font-size="28.5" fill="#3a3a3a" text-anchor="end" font-weight="normal" font-style="normal"  stroke="#3a3a3a" stroke-width="0.45">80</text>
<line x1="125.9" y1="539" x2="125.9" y2="554.5" stroke="#1a1a1a" stroke-width="3.4" />
<text x="125.9" y="586.2" font-family='"Liberation Sans", Arial, sans-serif' font-size="29" fill="#3a3a3a" text-anchor="middle" font-weight="normal" font-style="normal"  stroke="#3a3a3a" stroke-width="0.45">360</text>
<line x1="153.4" y1="539" x2="153.4" y2="547.5" stroke="#1a1a1a" stroke-width="3.4" />
<line x1="181" y1="539" x2="181" y2="547.5" stroke="#1a1a1a" stroke-width="3.4" />
<line x1="208.5" y1="539" x2="208.5" y2="547.5" stroke="#1a1a1a" stroke-width="3.4" />
<line x1="236.1" y1="539" x2="236.1" y2="547.5" stroke="#1a1a1a" stroke-width="3.4" />
<line x1="263.6" y1="539" x2="263.6" y2="554.5" stroke="#1a1a1a" stroke-width="3.4" />
<text x="263.6" y="586.2" font-family='"Liberation Sans", Arial, sans-serif' font-size="29" fill="#3a3a3a" text-anchor="middle" font-weight="normal" font-style="normal"  stroke="#3a3a3a" stroke-width="0.45">380</text>
<line x1="291.2" y1="539" x2="291.2" y2="547.5" stroke="#1a1a1a" stroke-width="3.4" />
<line x1="318.7" y1="539" x2="318.7" y2="547.5" stroke="#1a1a1a" stroke-width="3.4" />
<line x1="346.3" y1="539" x2="346.3" y2="547.5" stroke="#1a1a1a" stroke-width="3.4" />
<line x1="373.8" y1="539" x2="373.8" y2="547.5" stroke="#1a1a1a" stroke-width="3.4" />
<line x1="401.3" y1="539" x2="401.3" y2="554.5" stroke="#1a1a1a" stroke-width="3.4" />
<text x="401.3" y="586.2" font-family='"Liberation Sans", Arial, sans-serif' font-size="29" fill="#3a3a3a" text-anchor="middle" font-weight="normal" font-style="normal"  stroke="#3a3a3a" stroke-width="0.45">400</text>
<line x1="428.9" y1="539" x2="428.9" y2="547.5" stroke="#1a1a1a" stroke-width="3.4" />
<line x1="456.4" y1="539" x2="456.4" y2="547.5" stroke="#1a1a1a" stroke-width="3.4" />
<line x1="484" y1="539" x2="484" y2="547.5" stroke="#1a1a1a" stroke-width="3.4" />
<line x1="511.5" y1="539" x2="511.5" y2="547.5" stroke="#1a1a1a" stroke-width="3.4" />
<line x1="539.1" y1="539" x2="539.1" y2="554.5" stroke="#1a1a1a" stroke-width="3.4" />
<text x="539.1" y="586.2" font-family='"Liberation Sans", Arial, sans-serif' font-size="29" fill="#3a3a3a" text-anchor="middle" font-weight="normal" font-style="normal"  stroke="#3a3a3a" stroke-width="0.45">420</text>
<line x1="566.6" y1="539" x2="566.6" y2="547.5" stroke="#1a1a1a" stroke-width="3.4" />
<line x1="594.1" y1="539" x2="594.1" y2="547.5" stroke="#1a1a1a" stroke-width="3.4" />
<text transform="translate(51.4 301.2) rotate(-90)" x="0" y="0" text-anchor="middle" font-family='"Liberation Sans", Arial, sans-serif' font-size="36.7" fill="#1e1e1e" stroke="#1e1e1e" stroke-width="0.45" textLength="268.7" lengthAdjust="spacingAndGlyphs">Intensity (arb. u.)</text>
<text x="352.2" y="629.1" text-anchor="middle" font-family='"Liberation Sans", Arial, sans-serif' font-size="36" fill="#1e1e1e" stroke="#1e1e1e" stroke-width="0.45" textLength="291.3" lengthAdjust="spacingAndGlyphs">Raman shift (cm<tspan font-size="21" dy="-18">-1</tspan><tspan dy="18">)</tspan></text>
<text x="195.5" y="106.6" font-family='"Liberation Sans", Arial, sans-serif' font-size="30.5" fill="#1e1e1e" text-anchor="start" font-weight="normal" font-style="normal"  stroke="#1e1e1e" stroke-width="0.45">E</text>
<text x="219" y="89.2" font-family='"Liberation Sans", Arial, sans-serif' font-size="19" fill="#1e1e1e" text-anchor="start" font-weight="normal" font-style="normal"  stroke="#1e1e1e" stroke-width="0.45">1</text>
<text x="218.7" y="119.2" font-family='"Liberation Sans", Arial, sans-serif' font-size="18.5" fill="#1e1e1e" text-anchor="start" font-weight="normal" font-style="normal"  stroke="#1e1e1e" stroke-width="0.45">2g</text>
<text x="466.2" y="102.3" font-family='"Liberation Sans", Arial, sans-serif' font-size="31" fill="#1e1e1e" text-anchor="start" font-weight="normal" font-style="normal"  stroke="#1e1e1e" stroke-width="0.45">A</text>
<text x="487.8" y="115" font-family='"Liberation Sans", Arial, sans-serif' font-size="18" fill="#1e1e1e" text-anchor="start" font-weight="normal" font-style="normal"  stroke="#1e1e1e" stroke-width="0.45">1g</text>
<text x="593.5" y="214" font-family='"Liberation Sans", Arial, sans-serif' font-size="25.5" fill="#3a3a3a" text-anchor="end" font-weight="normal" font-style="normal"  stroke="#3a3a3a" stroke-width="0.45">6L</text>
<text x="593.5" y="257" font-family='"Liberation Sans", Arial, sans-serif' font-size="25.5" fill="#3a3a3a" text-anchor="end" font-weight="normal" font-style="normal"  stroke="#3a3a3a" stroke-width="0.45">5L</text>
<text x="593.5" y="300.5" font-family='"Liberation Sans", Arial, sans-serif' font-size="25.5" fill="#3a3a3a" text-anchor="end" font-weight="normal" font-style="normal"  stroke="#3a3a3a" stroke-width="0.45">4L</text>
<text x="593.5" y="346.5" font-family='"Liberation Sans", Arial, sans-serif' font-size="25.5" fill="#3a3a3a" text-anchor="end" font-weight="normal" font-style="normal"  stroke="#3a3a3a" stroke-width="0.45">3L</text>
<text x="593.5" y="388" font-family='"Liberation Sans", Arial, sans-serif' font-size="25.5" fill="#3a3a3a" text-anchor="end" font-weight="normal" font-style="normal"  stroke="#3a3a3a" stroke-width="0.45">2L</text>
<text x="593.5" y="441" font-family='"Liberation Sans", Arial, sans-serif' font-size="25.5" fill="#3a3a3a" text-anchor="end" font-weight="normal" font-style="normal"  stroke="#3a3a3a" stroke-width="0.45">1L</text>
<text x="593.5" y="486" font-family='"Liberation Sans", Arial, sans-serif' font-size="25.5" fill="#4a5ea6" text-anchor="end" font-weight="normal" font-style="normal"  stroke="#4a5ea6" stroke-width="0.45">bulk</text>
<text x="144.5" y="486" font-family='"Liberation Sans", Arial, sans-serif' font-size="25.5" fill="#4a5ea6" text-anchor="start" font-weight="normal" font-style="normal"  stroke="#4a5ea6" stroke-width="0.45">x2</text>
<rect x="762.3" y="44.3" width="482.2" height="494.2" fill="none" stroke="#1e1e1e" stroke-width="2.6"/>
<line x1="762.3" y1="90" x2="770.3" y2="90" stroke="#1e1e1e" stroke-width="2.6" />
<line x1="762.3" y1="135.5" x2="776.3" y2="135.5" stroke="#1e1e1e" stroke-width="2.6" />
<line x1="762.3" y1="181" x2="770.3" y2="181" stroke="#1e1e1e" stroke-width="2.6" />
<line x1="762.3" y1="226.5" x2="776.3" y2="226.5" stroke="#1e1e1e" stroke-width="2.6" />
<line x1="762.3" y1="272" x2="770.3" y2="272" stroke="#1e1e1e" stroke-width="2.6" />
<line x1="762.3" y1="317.5" x2="776.3" y2="317.5" stroke="#1e1e1e" stroke-width="2.6" />
<line x1="762.3" y1="350.4" x2="770.3" y2="350.4" stroke="#1e1e1e" stroke-width="2.6" />
<line x1="762.3" y1="397.3" x2="776.3" y2="397.3" stroke="#1e1e1e" stroke-width="2.6" />
<line x1="762.3" y1="444.2" x2="770.3" y2="444.2" stroke="#1e1e1e" stroke-width="2.6" />
<line x1="762.3" y1="491.1" x2="776.3" y2="491.1" stroke="#1e1e1e" stroke-width="2.6" />
<text x="746.8" y="52.7" font-family='"Liberation Sans", Arial, sans-serif' font-size="29" fill="#262626" text-anchor="end" font-weight="normal" font-style="normal"  stroke="#262626" stroke-width="0.45">408</text>
<text x="746.8" y="143.7" font-family='"Liberation Sans", Arial, sans-serif' font-size="29" fill="#262626" text-anchor="end" font-weight="normal" font-style="normal"  stroke="#262626" stroke-width="0.45">406</text>
<text x="746.8" y="234.7" font-family='"Liberation Sans", Arial, sans-serif' font-size="29" fill="#262626" text-anchor="end" font-weight="normal" font-style="normal"  stroke="#262626" stroke-width="0.45">404</text>
<text x="746.8" y="325.7" font-family='"Liberation Sans", Arial, sans-serif' font-size="29" fill="#262626" text-anchor="end" font-weight="normal" font-style="normal"  stroke="#262626" stroke-width="0.45">402</text>
<text x="746.8" y="405.5" font-family='"Liberation Sans", Arial, sans-serif' font-size="29" fill="#262626" text-anchor="end" font-weight="normal" font-style="normal"  stroke="#262626" stroke-width="0.45">384</text>
<text x="746.8" y="499.3" font-family='"Liberation Sans", Arial, sans-serif' font-size="29" fill="#262626" text-anchor="end" font-weight="normal" font-style="normal"  stroke="#262626" stroke-width="0.45">382</text>
<line x1="1230.5" y1="489" x2="1244.5" y2="489" stroke="#1e1e1e" stroke-width="2.6" />
<text x="1257.5" y="497.2" font-family='"Liberation Sans", Arial, sans-serif' font-size="29" fill="#262626" text-anchor="start" font-weight="normal" font-style="normal"  stroke="#262626" stroke-width="0.45">18</text>
<line x1="1236.5" y1="439.5" x2="1244.5" y2="439.5" stroke="#1e1e1e" stroke-width="2.6" />
<line x1="1230.5" y1="389.9" x2="1244.5" y2="389.9" stroke="#1e1e1e" stroke-width="2.6" />
<text x="1257.5" y="398.1" font-family='"Liberation Sans", Arial, sans-serif' font-size="29" fill="#262626" text-anchor="start" font-weight="normal" font-style="normal"  stroke="#262626" stroke-width="0.45">20</text>
<line x1="1236.5" y1="340.4" x2="1244.5" y2="340.4" stroke="#1e1e1e" stroke-width="2.6" />
<line x1="1230.5" y1="290.9" x2="1244.5" y2="290.9" stroke="#1e1e1e" stroke-width="2.6" />
<text x="1257.5" y="299.1" font-family='"Liberation Sans", Arial, sans-serif' font-size="29" fill="#262626" text-anchor="start" font-weight="normal" font-style="normal"  stroke="#262626" stroke-width="0.45">22</text>
<line x1="1236.5" y1="241.3" x2="1244.5" y2="241.3" stroke="#1e1e1e" stroke-width="2.6" />
<line x1="1230.5" y1="191.8" x2="1244.5" y2="191.8" stroke="#1e1e1e" stroke-width="2.6" />
<text x="1257.5" y="200" font-family='"Liberation Sans", Arial, sans-serif' font-size="29" fill="#262626" text-anchor="start" font-weight="normal" font-style="normal"  stroke="#262626" stroke-width="0.45">24</text>
<line x1="1236.5" y1="142.2" x2="1244.5" y2="142.2" stroke="#1e1e1e" stroke-width="2.6" />
<line x1="1230.5" y1="92.7" x2="1244.5" y2="92.7" stroke="#1e1e1e" stroke-width="2.6" />
<text x="1257.5" y="100.9" font-family='"Liberation Sans", Arial, sans-serif' font-size="29" fill="#262626" text-anchor="start" font-weight="normal" font-style="normal"  stroke="#262626" stroke-width="0.45">26</text>
<line x1="762.3" y1="538.5" x2="762.3" y2="552.5" stroke="#1e1e1e" stroke-width="2.6" />
<line x1="818.9" y1="538.5" x2="818.9" y2="552.5" stroke="#1e1e1e" stroke-width="2.6" />
<line x1="875.5" y1="538.5" x2="875.5" y2="552.5" stroke="#1e1e1e" stroke-width="2.6" />
<line x1="932.1" y1="538.5" x2="932.1" y2="552.5" stroke="#1e1e1e" stroke-width="2.6" />
<line x1="988.7" y1="538.5" x2="988.7" y2="552.5" stroke="#1e1e1e" stroke-width="2.6" />
<line x1="1045.3" y1="538.5" x2="1045.3" y2="552.5" stroke="#1e1e1e" stroke-width="2.6" />
<line x1="1101.9" y1="538.5" x2="1101.9" y2="552.5" stroke="#1e1e1e" stroke-width="2.6" />
<line x1="1202.8" y1="538.5" x2="1202.8" y2="552.5" stroke="#1e1e1e" stroke-width="2.6" />
<text x="762.3" y="585.5" font-family='"Liberation Sans", Arial, sans-serif' font-size="29" fill="#262626" text-anchor="middle" font-weight="normal" font-style="normal"  stroke="#262626" stroke-width="0.45">0</text>
<text x="818.9" y="585.5" font-family='"Liberation Sans", Arial, sans-serif' font-size="29" fill="#262626" text-anchor="middle" font-weight="normal" font-style="normal"  stroke="#262626" stroke-width="0.45">1</text>
<text x="875.5" y="585.5" font-family='"Liberation Sans", Arial, sans-serif' font-size="29" fill="#262626" text-anchor="middle" font-weight="normal" font-style="normal"  stroke="#262626" stroke-width="0.45">2</text>
<text x="932.1" y="585.5" font-family='"Liberation Sans", Arial, sans-serif' font-size="29" fill="#262626" text-anchor="middle" font-weight="normal" font-style="normal"  stroke="#262626" stroke-width="0.45">3</text>
<text x="988.7" y="585.5" font-family='"Liberation Sans", Arial, sans-serif' font-size="29" fill="#262626" text-anchor="middle" font-weight="normal" font-style="normal"  stroke="#262626" stroke-width="0.45">4</text>
<text x="1045.3" y="585.5" font-family='"Liberation Sans", Arial, sans-serif' font-size="29" fill="#262626" text-anchor="middle" font-weight="normal" font-style="normal"  stroke="#262626" stroke-width="0.45">5</text>
<text x="1101.9" y="585.5" font-family='"Liberation Sans", Arial, sans-serif' font-size="29" fill="#262626" text-anchor="middle" font-weight="normal" font-style="normal"  stroke="#262626" stroke-width="0.45">6</text>
<text x="1202.8" y="585.5" font-family='"Liberation Sans", Arial, sans-serif' font-size="29" fill="#262626" text-anchor="middle" font-weight="normal" font-style="normal"  stroke="#262626" stroke-width="0.45">Bulk</text>
<polygon points="1150.5,56.3 1158.5,32.3 1164.5,32.3 1156.5,56.3" fill="#fff"/>
<line x1="1149" y1="57.8" x2="1159" y2="30.8" stroke="#1e1e1e" stroke-width="2.4" />
<line x1="1156.5" y1="57.8" x2="1166.5" y2="30.8" stroke="#1e1e1e" stroke-width="2.4" />
<polygon points="1150.5,550.5 1158.5,526.5 1164.5,526.5 1156.5,550.5" fill="#fff"/>
<line x1="1149" y1="552" x2="1159" y2="525" stroke="#1e1e1e" stroke-width="2.4" />
<line x1="1156.5" y1="552" x2="1166.5" y2="525" stroke="#1e1e1e" stroke-width="2.4" />
<polygon points="750.3,333 774.3,325 774.3,331 750.3,339" fill="#fff"/>
<line x1="747.3" y1="333.5" x2="777.3" y2="322.5" stroke="#1e1e1e" stroke-width="2.4" />
<line x1="747.3" y1="340.5" x2="777.3" y2="329.5" stroke="#1e1e1e" stroke-width="2.4" />
<polyline points="818.9,272.6 875.5,189.9 932.1,142.7 988.7,102.3 1045.3,94.3 1101.9,91.6 1149,82.2" fill="none" stroke="#1e1e1e" stroke-width="2.4" stroke-linejoin="round" stroke-linecap="round" />
<polyline points="1163,79.4 1202.8,71.4" fill="none" stroke="#1e1e1e" stroke-width="2.4" stroke-linejoin="round" stroke-linecap="round" />
<polyline points="818.9,382.1 875.5,437.3 932.1,456.8 988.7,479.7 1045.3,479.7 1101.9,483.2 1149,487.4" fill="none" stroke="#1e1e1e" stroke-width="2.4" stroke-linejoin="round" stroke-linecap="round" />
<polyline points="1163,488.7 1202.8,492.3" fill="none" stroke="#1e1e1e" stroke-width="2.4" stroke-linejoin="round" stroke-linecap="round" />
<polyline points="818.9,447.4 875.5,309.7 932.1,224.9 988.7,184.5 1045.3,167 1101.9,152.2 1202.8,132" fill="none" stroke="#d9505e" stroke-width="2.6" stroke-linejoin="round" stroke-linecap="round" stroke-dasharray="5 4.5" stroke-linecap="butt"/>
<g stroke="#e43030" stroke-width="2.4" fill="none"><line x1="818.9" y1="417.4" x2="818.9" y2="477.4"/><line x1="810.9" y1="417.4" x2="826.9" y2="417.4"/><line x1="810.9" y1="477.4" x2="826.9" y2="477.4"/></g>
<circle cx="818.9" cy="447.4" r="8" fill="#ec1c1c"/>
<g stroke="#e43030" stroke-width="2.4" fill="none"><line x1="875.5" y1="295.7" x2="875.5" y2="323.7"/><line x1="867.5" y1="295.7" x2="883.5" y2="295.7"/><line x1="867.5" y1="323.7" x2="883.5" y2="323.7"/></g>
<circle cx="875.5" cy="309.7" r="8" fill="#ec1c1c"/>
<g stroke="#e43030" stroke-width="2.4" fill="none"><line x1="932.1" y1="216.9" x2="932.1" y2="232.9"/><line x1="924.1" y1="216.9" x2="940.1" y2="216.9"/><line x1="924.1" y1="232.9" x2="940.1" y2="232.9"/></g>
<circle cx="932.1" cy="224.9" r="8" fill="#ec1c1c"/>
<g stroke="#e43030" stroke-width="2.4" fill="none"><line x1="988.7" y1="171.5" x2="988.7" y2="197.5"/><line x1="980.7" y1="171.5" x2="996.7" y2="171.5"/><line x1="980.7" y1="197.5" x2="996.7" y2="197.5"/></g>
<circle cx="988.7" cy="184.5" r="8" fill="#ec1c1c"/>
<g stroke="#e43030" stroke-width="2.4" fill="none"><line x1="1045.3" y1="160" x2="1045.3" y2="174"/><line x1="1037.3" y1="160" x2="1053.3" y2="160"/><line x1="1037.3" y1="174" x2="1053.3" y2="174"/></g>
<circle cx="1045.3" cy="167" r="8" fill="#ec1c1c"/>
<g stroke="#e43030" stroke-width="2.4" fill="none"><line x1="1101.9" y1="146.2" x2="1101.9" y2="158.2"/><line x1="1093.9" y1="146.2" x2="1109.9" y2="146.2"/><line x1="1093.9" y1="158.2" x2="1109.9" y2="158.2"/></g>
<circle cx="1101.9" cy="152.2" r="8" fill="#ec1c1c"/>
<g stroke="#e43030" stroke-width="2.4" fill="none"><line x1="1202.8" y1="125" x2="1202.8" y2="139"/><line x1="1194.8" y1="125" x2="1210.8" y2="125"/><line x1="1194.8" y1="139" x2="1210.8" y2="139"/></g>
<circle cx="1202.8" cy="132" r="8" fill="#ec1c1c"/>
<polygon points="818.9,264.1 827.4,278.6 810.4,278.6" fill="#fff" stroke="#1e1e1e" stroke-width="2.4" stroke-linejoin="miter"/>
<polygon points="875.5,181.4 884,195.9 867,195.9" fill="#fff" stroke="#1e1e1e" stroke-width="2.4" stroke-linejoin="miter"/>
<polygon points="932.1,134.2 940.6,148.7 923.6,148.7" fill="#fff" stroke="#1e1e1e" stroke-width="2.4" stroke-linejoin="miter"/>
<polygon points="988.7,93.8 997.2,108.3 980.2,108.3" fill="#fff" stroke="#1e1e1e" stroke-width="2.4" stroke-linejoin="miter"/>
<polygon points="1045.3,85.8 1053.8,100.3 1036.8,100.3" fill="#fff" stroke="#1e1e1e" stroke-width="2.4" stroke-linejoin="miter"/>
<polygon points="1101.9,83.1 1110.4,97.6 1093.4,97.6" fill="#fff" stroke="#1e1e1e" stroke-width="2.4" stroke-linejoin="miter"/>
<polygon points="1202.8,62.9 1211.3,77.4 1194.3,77.4" fill="#fff" stroke="#1e1e1e" stroke-width="2.4" stroke-linejoin="miter"/>
<rect x="813.4" y="376.6" width="11" height="11" fill="#fff" stroke="#1e1e1e" stroke-width="2.3"/>
<rect x="870" y="431.8" width="11" height="11" fill="#fff" stroke="#1e1e1e" stroke-width="2.3"/>
<rect x="926.6" y="451.3" width="11" height="11" fill="#fff" stroke="#1e1e1e" stroke-width="2.3"/>
<rect x="983.2" y="474.2" width="11" height="11" fill="#fff" stroke="#1e1e1e" stroke-width="2.3"/>
<rect x="1039.8" y="474.2" width="11" height="11" fill="#fff" stroke="#1e1e1e" stroke-width="2.3"/>
<rect x="1096.4" y="477.7" width="11" height="11" fill="#fff" stroke="#1e1e1e" stroke-width="2.3"/>
<rect x="1197.3" y="486.8" width="11" height="11" fill="#fff" stroke="#1e1e1e" stroke-width="2.3"/>
<line x1="888" y1="134.9" x2="810" y2="134.9" stroke="#1e1e1e" stroke-width="2.6" />
<polygon points="796,134.9 816,128.5 816,141.3" fill="#1e1e1e"/>
<line x1="1070" y1="203.6" x2="1150" y2="203.6" stroke="#d9505e" stroke-width="2.6" stroke-dasharray="5 4.5"/>
<polygon points="1169,203.6 1150,197.5 1150,209.7" fill="#e83232"/>
<text x="929.4" y="82.8" font-family='"Liberation Sans", Arial, sans-serif' font-size="31.5" fill="#1e1e1e" text-anchor="start" font-weight="normal" font-style="normal"  stroke="#1e1e1e" stroke-width="0.45">A</text>
<text x="952.4" y="95.4" font-family='"Liberation Sans", Arial, sans-serif' font-size="17.8" fill="#1e1e1e" text-anchor="start" font-weight="normal" font-style="normal"  stroke="#1e1e1e" stroke-width="0.45">1g</text>
<text x="925" y="512.6" font-family='"Liberation Sans", Arial, sans-serif' font-size="32" fill="#1e1e1e" text-anchor="start" font-weight="normal" font-style="normal"  stroke="#1e1e1e" stroke-width="0.45">E</text>
<text x="948.4" y="495" font-family='"Liberation Sans", Arial, sans-serif' font-size="18" fill="#1e1e1e" text-anchor="start" font-weight="normal" font-style="normal"  stroke="#1e1e1e" stroke-width="0.45">1</text>
<text x="947.3" y="525.5" font-family='"Liberation Sans", Arial, sans-serif' font-size="18.5" fill="#1e1e1e" text-anchor="start" font-weight="normal" font-style="normal"  stroke="#1e1e1e" stroke-width="0.45">2g</text>
<text x="991.7" y="628.7" font-family='"Liberation Sans", Arial, sans-serif' font-size="35.8" fill="#1e1e1e" text-anchor="middle" font-weight="normal" font-style="normal"  stroke="#1e1e1e" stroke-width="0.45">Thickness (L)</text>
<text transform="translate(679.7 299.6) rotate(-90)" x="0" y="0" text-anchor="middle" font-family='"Liberation Sans", Arial, sans-serif' font-size="35.3" fill="#1e1e1e" stroke="#1e1e1e" stroke-width="0.45" textLength="347.5" lengthAdjust="spacingAndGlyphs">Peak frequency (cm<tspan font-size="21" dy="-18">-1</tspan><tspan dy="18">)</tspan></text>
<text transform="translate(1332 287.2) rotate(-90)" x="0" y="0" text-anchor="middle" font-family='"Liberation Sans", Arial, sans-serif' font-size="35.3" fill="#1e1e1e" stroke="#1e1e1e" stroke-width="0.45" textLength="431.4" lengthAdjust="spacingAndGlyphs">Frequency difference (cm<tspan font-size="21" dy="-18">-1</tspan><tspan dy="18">)</tspan></text>
<g fill="none" stroke="#cdcdd4" stroke-width="1"><circle cx="1397" cy="158" r="2.6"/><circle cx="1404" cy="157.3" r="2.6"/><circle cx="1411" cy="159" r="2.6"/><circle cx="1418" cy="157" r="2.6"/><circle cx="1425" cy="158.5" r="2.6"/><circle cx="1432" cy="157.8" r="2.6"/><circle cx="1439" cy="156.6" r="2.6"/><circle cx="1446" cy="158" r="2.6"/><circle cx="1453" cy="156.2" r="2.6"/><circle cx="1460" cy="157.3" r="2.6"/><circle cx="1467" cy="155.7" r="2.6"/><circle cx="1474" cy="155.3" r="2.6"/><circle cx="1481" cy="155.8" r="2.6"/><circle cx="1488" cy="156.3" r="2.6"/><circle cx="1495" cy="152.5" r="2.6"/><circle cx="1502" cy="150.8" r="2.6"/><circle cx="1509" cy="145.1" r="2.6"/><circle cx="1516" cy="141.1" r="2.6"/><circle cx="1523" cy="132.2" r="2.6"/><circle cx="1530" cy="109.8" r="2.6"/><circle cx="1537" cy="82" r="2.6"/><circle cx="1544" cy="75.5" r="2.6"/><circle cx="1551" cy="76.6" r="2.6"/><circle cx="1558" cy="48.7" r="2.6"/><circle cx="1565" cy="99.1" r="2.6"/><circle cx="1572" cy="132.1" r="2.6"/><circle cx="1579" cy="144.7" r="2.6"/><circle cx="1586" cy="147.6" r="2.6"/><circle cx="1593" cy="153.2" r="2.6"/><circle cx="1600" cy="154.3" r="2.6"/><circle cx="1607" cy="157.2" r="2.6"/><circle cx="1614" cy="157.7" r="2.6"/><circle cx="1621" cy="156.7" r="2.6"/><circle cx="1628" cy="158.3" r="2.6"/><circle cx="1635" cy="158.5" r="2.6"/><circle cx="1642" cy="160" r="2.6"/><circle cx="1649" cy="159.8" r="2.6"/><circle cx="1656" cy="158.4" r="2.6"/><circle cx="1663" cy="161" r="2.6"/><circle cx="1670" cy="158.2" r="2.6"/><circle cx="1677" cy="159.4" r="2.6"/><circle cx="1684" cy="160.7" r="2.6"/><circle cx="1691" cy="158.7" r="2.6"/><circle cx="1698" cy="159.9" r="2.6"/><circle cx="1705" cy="158.5" r="2.6"/><circle cx="1712" cy="160.7" r="2.6"/><circle cx="1719" cy="161.2" r="2.6"/></g>
<polyline points="1397,159.5 1398,159.5 1399,159.4 1400,159.4 1401,159.4 1402,159.4 1403,159.4 1404,159.4 1405,159.4 1406,159.4 1407,159.4 1408,159.4 1409,159.4 1410,159.4 1411,159.4 1412,159.4 1413,159.4 1414,159.4 1415,159.4 1416,159.4 1417,159.4 1418,159.4 1419,159.3 1420,159.3 1421,159.3 1422,159.3 1423,159.3 1424,159.3 1425,159.3 1426,159.3 1427,159.3 1428,159.3 1429,159.2 1430,159.2 1431,159.2 1432,159.2 1433,159.2 1434,159.2 1435,159.2 1436,159.2 1437,159.1 1438,159.1 1439,159.1 1440,159.1 1441,159.1 1442,159.1 1443,159 1444,159 1445,159 1446,159 1447,159 1448,158.9 1449,158.9 1450,158.9 1451,158.9 1452,158.8 1453,158.8 1454,158.8 1455,158.7 1456,158.7 1457,158.7 1458,158.7 1459,158.6 1460,158.6 1461,158.5 1462,158.5 1463,158.5 1464,158.4 1465,158.4 1466,158.3 1467,158.3 1468,158.2 1469,158.2 1470,158.1 1471,158.1 1472,158 1473,157.9 1474,157.9 1475,157.8 1476,157.7 1477,157.7 1478,157.6 1479,157.5 1480,157.4 1481,157.3 1482,157.2 1483,157.1 1484,157 1485,156.9 1486,156.8 1487,156.6 1488,156.5 1489,156.4 1490,156.2 1491,156.1 1492,155.9 1493,155.7 1494,155.5 1495,155.3 1496,155.1 1497,154.9 1498,154.6 1499,154.4 1500,154.1 1501,153.8 1502,153.5 1503,153.1 1504,152.8 1505,152.4 1506,151.9 1507,151.5 1508,151 1509,150.4 1510,149.8 1511,149.2 1512,148.4 1513,147.6 1514,146.8 1515,145.8 1516,144.7 1517,143.6 1518,142.3 1519,140.9 1520,139.4 1521,137.7 1522,135.8 1523,133.7 1524,131.5 1525,129.1 1526,126.5 1527,123.6 1528,120.6 1529,117.3 1530,113.9 1531,110.3 1532,106.6 1533,103 1534,99.3 1535,95.9 1536,92.9 1537,90.3 1538,88.3 1539,87.1 1540,86.7 1541,87 1542,88.1 1543,89.8 1544,92.1 1545,94.8 1546,97.9 1547,101.2 1548,104.6 1549,108 1550,111.4 1551,114.7 1552,117.9 1553,120.9 1554,123.7 1555,126.4 1556,128.9 1557,131.2 1558,133.3 1559,135.3 1560,137.1 1561,138.7 1562,140.2 1563,141.6 1564,142.9 1565,144.1 1566,145.1 1567,146.1 1568,147 1569,147.8 1570,148.6 1571,149.3 1572,149.9 1573,150.5 1574,151 1575,151.5 1576,152 1577,152.4 1578,152.8 1579,153.2 1580,153.6 1581,153.9 1582,154.2 1583,154.5 1584,154.7 1585,155 1586,155.2 1587,155.5 1588,155.7 1589,155.9 1590,156.1 1591,156.2 1592,156.4 1593,156.6 1594,156.7 1595,156.9 1596,157 1597,157.1 1598,157.3 1599,157.4 1600,157.5 1601,157.6 1602,157.7 1603,157.8 1604,157.9 1605,158 1606,158.1 1607,158.2 1608,158.3 1609,158.4 1610,158.4 1611,158.5 1612,158.6 1613,158.6 1614,158.7 1615,158.8 1616,158.8 1617,158.9 1618,159 1619,159 1620,159.1 1621,159.1 1622,159.2 1623,159.2 1624,159.3 1625,159.3 1626,159.3 1627,159.4 1628,159.4 1629,159.5 1630,159.5 1631,159.6 1632,159.6 1633,159.6 1634,159.7 1635,159.7 1636,159.7 1637,159.8 1638,159.8 1639,159.8 1640,159.9 1641,159.9 1642,159.9 1643,159.9 1644,160 1645,160 1646,160 1647,160 1648,160.1 1649,160.1 1650,160.1 1651,160.1 1652,160.2 1653,160.2 1654,160.2 1655,160.2 1656,160.3 1657,160.3 1658,160.3 1659,160.3 1660,160.3 1661,160.4 1662,160.4 1663,160.4 1664,160.4 1665,160.4 1666,160.4 1667,160.5 1668,160.5 1669,160.5 1670,160.5 1671,160.5 1672,160.5 1673,160.6 1674,160.6 1675,160.6 1676,160.6 1677,160.6 1678,160.6 1679,160.6 1680,160.7 1681,160.7 1682,160.7 1683,160.7 1684,160.7 1685,160.7 1686,160.7 1687,160.8 1688,160.8 1689,160.8 1690,160.8 1691,160.8 1692,160.8 1693,160.8 1694,160.8 1695,160.8 1696,160.9 1697,160.9 1698,160.9 1699,160.9 1700,160.9 1701,160.9 1702,160.9 1703,160.9 1704,160.9 1705,161 1706,161 1707,161 1708,161 1709,161 1710,161 1711,161 1712,161 1713,161 1714,161 1715,161.1 1716,161.1 1717,161.1 1718,161.1 1719,161.1" fill="none" stroke="#1a1ad2" stroke-width="2.8" stroke-linejoin="round" stroke-linecap="round" />
<polyline points="1397,159.9 1398,159.9 1399,159.9 1400,159.9 1401,159.9 1402,159.9 1403,159.9 1404,159.9 1405,159.9 1406,159.9 1407,159.9 1408,159.9 1409,159.9 1410,159.9 1411,159.9 1412,159.9 1413,159.9 1414,159.9 1415,159.9 1416,159.9 1417,159.9 1418,159.9 1419,159.9 1420,160 1421,160 1422,160 1423,160 1424,160 1425,160 1426,160 1427,160 1428,160 1429,160 1430,160 1431,160 1432,160 1433,160 1434,160 1435,160 1436,160 1437,160 1438,160 1439,160 1440,160 1441,160 1442,160 1443,160 1444,160 1445,160 1446,160 1447,160 1448,160 1449,160 1450,160 1451,160 1452,160 1453,160 1454,160 1455,160 1456,160 1457,160 1458,160 1459,160 1460,160 1461,160 1462,160 1463,160 1464,160 1465,160 1466,160 1467,160 1468,160 1469,160 1470,160 1471,160 1472,160 1473,159.9 1474,159.9 1475,159.9 1476,159.9 1477,159.9 1478,159.9 1479,159.9 1480,159.9 1481,159.9 1482,159.9 1483,159.9 1484,159.9 1485,159.9 1486,159.8 1487,159.8 1488,159.8 1489,159.8 1490,159.8 1491,159.8 1492,159.8 1493,159.8 1494,159.7 1495,159.7 1496,159.7 1497,159.7 1498,159.7 1499,159.6 1500,159.6 1501,159.6 1502,159.6 1503,159.5 1504,159.5 1505,159.5 1506,159.4 1507,159.4 1508,159.4 1509,159.3 1510,159.3 1511,159.2 1512,159.2 1513,159.1 1514,159.1 1515,159 1516,158.9 1517,158.9 1518,158.8 1519,158.7 1520,158.6 1521,158.5 1522,158.4 1523,158.3 1524,158.2 1525,158 1526,157.9 1527,157.7 1528,157.6 1529,157.4 1530,157.2 1531,156.9 1532,156.7 1533,156.4 1534,156 1535,155.7 1536,155.3 1537,154.8 1538,154.3 1539,153.7 1540,153 1541,152.2 1542,151.3 1543,150.1 1544,148.8 1545,147.2 1546,145.2 1547,142.8 1548,139.9 1549,136.3 1550,132 1551,126.8 1552,120.7 1553,113.7 1554,105.9 1555,97.6 1556,89.4 1557,82.5 1558,77.9 1559,76.8 1560,79.4 1561,85.1 1562,92.6 1563,101 1564,109.2 1565,116.7 1566,123.3 1567,129.1 1568,133.9 1569,137.9 1570,141.2 1571,143.9 1572,146.2 1573,148 1574,149.5 1575,150.8 1576,151.8 1577,152.7 1578,153.5 1579,154.1 1580,154.7 1581,155.2 1582,155.7 1583,156.1 1584,156.4 1585,156.7 1586,157 1587,157.3 1588,157.5 1589,157.7 1590,157.9 1591,158.1 1592,158.3 1593,158.4 1594,158.6 1595,158.7 1596,158.8 1597,158.9 1598,159 1599,159.1 1600,159.2 1601,159.3 1602,159.4 1603,159.4 1604,159.5 1605,159.6 1606,159.6 1607,159.7 1608,159.8 1609,159.8 1610,159.9 1611,159.9 1612,160 1613,160 1614,160 1615,160.1 1616,160.1 1617,160.1 1618,160.2 1619,160.2 1620,160.2 1621,160.3 1622,160.3 1623,160.3 1624,160.4 1625,160.4 1626,160.4 1627,160.4 1628,160.5 1629,160.5 1630,160.5 1631,160.5 1632,160.5 1633,160.6 1634,160.6 1635,160.6 1636,160.6 1637,160.6 1638,160.6 1639,160.7 1640,160.7 1641,160.7 1642,160.7 1643,160.7 1644,160.7 1645,160.8 1646,160.8 1647,160.8 1648,160.8 1649,160.8 1650,160.8 1651,160.8 1652,160.8 1653,160.9 1654,160.9 1655,160.9 1656,160.9 1657,160.9 1658,160.9 1659,160.9 1660,160.9 1661,160.9 1662,161 1663,161 1664,161 1665,161 1666,161 1667,161 1668,161 1669,161 1670,161 1671,161 1672,161 1673,161.1 1674,161.1 1675,161.1 1676,161.1 1677,161.1 1678,161.1 1679,161.1 1680,161.1 1681,161.1 1682,161.1 1683,161.1 1684,161.1 1685,161.2 1686,161.2 1687,161.2 1688,161.2 1689,161.2 1690,161.2 1691,161.2 1692,161.2 1693,161.2 1694,161.2 1695,161.2 1696,161.2 1697,161.2 1698,161.2 1699,161.3 1700,161.3 1701,161.3 1702,161.3 1703,161.3 1704,161.3 1705,161.3 1706,161.3 1707,161.3 1708,161.3 1709,161.3 1710,161.3 1711,161.3 1712,161.3 1713,161.3 1714,161.4 1715,161.4 1716,161.4 1717,161.4 1718,161.4 1719,161.4" fill="none" stroke="#147a14" stroke-width="2.8" stroke-linejoin="round" stroke-linecap="round" />
<polyline points="1397,158.5 1398,158.5 1399,158.5 1400,158.5 1401,158.5 1402,158.5 1403,158.5 1404,158.5 1405,158.5 1406,158.5 1407,158.5 1408,158.5 1409,158.5 1410,158.5 1411,158.5 1412,158.5 1413,158.4 1414,158.4 1415,158.4 1416,158.4 1417,158.4 1418,158.4 1419,158.4 1420,158.4 1421,158.4 1422,158.4 1423,158.3 1424,158.3 1425,158.3 1426,158.3 1427,158.3 1428,158.3 1429,158.3 1430,158.3 1431,158.2 1432,158.2 1433,158.2 1434,158.2 1435,158.2 1436,158.2 1437,158.1 1438,158.1 1439,158.1 1440,158.1 1441,158.1 1442,158 1443,158 1444,158 1445,158 1446,157.9 1447,157.9 1448,157.9 1449,157.9 1450,157.8 1451,157.8 1452,157.8 1453,157.7 1454,157.7 1455,157.7 1456,157.6 1457,157.6 1458,157.6 1459,157.5 1460,157.5 1461,157.4 1462,157.4 1463,157.3 1464,157.3 1465,157.2 1466,157.2 1467,157.1 1468,157.1 1469,157 1470,156.9 1471,156.9 1472,156.8 1473,156.7 1474,156.7 1475,156.6 1476,156.5 1477,156.4 1478,156.3 1479,156.2 1480,156.1 1481,156 1482,155.9 1483,155.8 1484,155.7 1485,155.5 1486,155.4 1487,155.3 1488,155.1 1489,155 1490,154.8 1491,154.6 1492,154.4 1493,154.2 1494,154 1495,153.8 1496,153.6 1497,153.3 1498,153 1499,152.7 1500,152.4 1501,152.1 1502,151.8 1503,151.4 1504,151 1505,150.6 1506,150.1 1507,149.6 1508,149 1509,148.4 1510,147.8 1511,147.1 1512,146.3 1513,145.4 1514,144.5 1515,143.5 1516,142.3 1517,141.1 1518,139.7 1519,138.2 1520,136.6 1521,134.8 1522,132.8 1523,130.7 1524,128.3 1525,125.7 1526,123 1527,119.9 1528,116.7 1529,113.3 1530,109.6 1531,105.8 1532,101.9 1533,97.9 1534,94 1535,90.2 1536,86.7 1537,83.7 1538,81.2 1539,79.3 1540,78.2 1541,77.8 1542,77.9 1543,78.5 1544,79.4 1545,80.5 1546,81.6 1547,82.5 1548,83 1549,82.8 1550,81.9 1551,80 1552,77.1 1553,73.1 1554,68.1 1555,62.4 1556,56.8 1557,52.1 1558,49.7 1559,50.5 1560,54.9 1561,62.2 1562,71.3 1563,81 1564,90.5 1565,99.2 1566,106.9 1567,113.6 1568,119.3 1569,124.1 1570,128.2 1571,131.6 1572,134.5 1573,136.9 1574,138.9 1575,140.7 1576,142.2 1577,143.5 1578,144.7 1579,145.7 1580,146.6 1581,147.4 1582,148.2 1583,148.9 1584,149.5 1585,150.1 1586,150.6 1587,151.1 1588,151.5 1589,151.9 1590,152.3 1591,152.6 1592,153 1593,153.3 1594,153.6 1595,153.8 1596,154.1 1597,154.3 1598,154.6 1599,154.8 1600,155 1601,155.2 1602,155.3 1603,155.5 1604,155.7 1605,155.8 1606,156 1607,156.1 1608,156.2 1609,156.4 1610,156.5 1611,156.6 1612,156.7 1613,156.8 1614,156.9 1615,157 1616,157.1 1617,157.2 1618,157.3 1619,157.4 1620,157.5 1621,157.5 1622,157.6 1623,157.7 1624,157.8 1625,157.8 1626,157.9 1627,157.9 1628,158 1629,158.1 1630,158.1 1631,158.2 1632,158.2 1633,158.3 1634,158.3 1635,158.4 1636,158.4 1637,158.5 1638,158.5 1639,158.6 1640,158.6 1641,158.6 1642,158.7 1643,158.7 1644,158.8 1645,158.8 1646,158.8 1647,158.9 1648,158.9 1649,158.9 1650,159 1651,159 1652,159 1653,159 1654,159.1 1655,159.1 1656,159.1 1657,159.2 1658,159.2 1659,159.2 1660,159.2 1661,159.3 1662,159.3 1663,159.3 1664,159.3 1665,159.4 1666,159.4 1667,159.4 1668,159.4 1669,159.4 1670,159.5 1671,159.5 1672,159.5 1673,159.5 1674,159.5 1675,159.6 1676,159.6 1677,159.6 1678,159.6 1679,159.6 1680,159.7 1681,159.7 1682,159.7 1683,159.7 1684,159.7 1685,159.7 1686,159.8 1687,159.8 1688,159.8 1689,159.8 1690,159.8 1691,159.8 1692,159.8 1693,159.9 1694,159.9 1695,159.9 1696,159.9 1697,159.9 1698,159.9 1699,159.9 1700,160 1701,160 1702,160 1703,160 1704,160 1705,160 1706,160 1707,160 1708,160.1 1709,160.1 1710,160.1 1711,160.1 1712,160.1 1713,160.1 1714,160.1 1715,160.1 1716,160.1 1717,160.2 1718,160.2 1719,160.2" fill="none" stroke="#e88ae8" stroke-width="2.2" stroke-linejoin="round" stroke-linecap="round" stroke-opacity="0.85"/>
<g fill="none" stroke="#cdcdd4" stroke-width="1"><circle cx="1397" cy="283.6" r="2.6"/><circle cx="1404" cy="284.7" r="2.6"/><circle cx="1411" cy="282.6" r="2.6"/><circle cx="1418" cy="283.9" r="2.6"/><circle cx="1425" cy="283.5" r="2.6"/><circle cx="1432" cy="283.3" r="2.6"/><circle cx="1439" cy="282.7" r="2.6"/><circle cx="1446" cy="283.9" r="2.6"/><circle cx="1453" cy="284.1" r="2.6"/><circle cx="1460" cy="282.2" r="2.6"/><circle cx="1467" cy="282.6" r="2.6"/><circle cx="1474" cy="280" r="2.6"/><circle cx="1481" cy="281.7" r="2.6"/><circle cx="1488" cy="280.7" r="2.6"/><circle cx="1495" cy="280.7" r="2.6"/><circle cx="1502" cy="278.4" r="2.6"/><circle cx="1509" cy="272" r="2.6"/><circle cx="1516" cy="269.4" r="2.6"/><circle cx="1523" cy="257.8" r="2.6"/><circle cx="1530" cy="238.5" r="2.6"/><circle cx="1537" cy="217.8" r="2.6"/><circle cx="1544" cy="212.4" r="2.6"/><circle cx="1551" cy="220.7" r="2.6"/><circle cx="1558" cy="200.2" r="2.6"/><circle cx="1565" cy="236.9" r="2.6"/><circle cx="1572" cy="264.5" r="2.6"/><circle cx="1579" cy="271.1" r="2.6"/><circle cx="1586" cy="274.1" r="2.6"/><circle cx="1593" cy="277.4" r="2.6"/><circle cx="1600" cy="278.9" r="2.6"/><circle cx="1607" cy="280" r="2.6"/><circle cx="1614" cy="280.6" r="2.6"/><circle cx="1621" cy="282" r="2.6"/><circle cx="1628" cy="282.7" r="2.6"/><circle cx="1635" cy="281.9" r="2.6"/><circle cx="1642" cy="281.2" r="2.6"/><circle cx="1649" cy="282.8" r="2.6"/><circle cx="1656" cy="282.8" r="2.6"/><circle cx="1663" cy="283.6" r="2.6"/><circle cx="1670" cy="285.1" r="2.6"/><circle cx="1677" cy="284.3" r="2.6"/><circle cx="1684" cy="283.8" r="2.6"/><circle cx="1691" cy="284.2" r="2.6"/><circle cx="1698" cy="284.5" r="2.6"/><circle cx="1705" cy="282.3" r="2.6"/><circle cx="1712" cy="285.4" r="2.6"/><circle cx="1719" cy="285" r="2.6"/></g>
<polyline points="1397,284.2 1398,284.2 1399,284.2 1400,284.2 1401,284.2 1402,284.2 1403,284.2 1404,284.2 1405,284.2 1406,284.2 1407,284.2 1408,284.1 1409,284.1 1410,284.1 1411,284.1 1412,284.1 1413,284.1 1414,284.1 1415,284.1 1416,284.1 1417,284.1 1418,284.1 1419,284.1 1420,284 1421,284 1422,284 1423,284 1424,284 1425,284 1426,284 1427,284 1428,284 1429,283.9 1430,283.9 1431,283.9 1432,283.9 1433,283.9 1434,283.9 1435,283.9 1436,283.8 1437,283.8 1438,283.8 1439,283.8 1440,283.8 1441,283.8 1442,283.7 1443,283.7 1444,283.7 1445,283.7 1446,283.7 1447,283.6 1448,283.6 1449,283.6 1450,283.6 1451,283.5 1452,283.5 1453,283.5 1454,283.5 1455,283.4 1456,283.4 1457,283.4 1458,283.3 1459,283.3 1460,283.3 1461,283.2 1462,283.2 1463,283.2 1464,283.1 1465,283.1 1466,283 1467,283 1468,282.9 1469,282.9 1470,282.8 1471,282.8 1472,282.7 1473,282.7 1474,282.6 1475,282.5 1476,282.5 1477,282.4 1478,282.3 1479,282.2 1480,282.2 1481,282.1 1482,282 1483,281.9 1484,281.8 1485,281.7 1486,281.6 1487,281.5 1488,281.3 1489,281.2 1490,281.1 1491,280.9 1492,280.8 1493,280.6 1494,280.5 1495,280.3 1496,280.1 1497,279.9 1498,279.7 1499,279.4 1500,279.2 1501,278.9 1502,278.6 1503,278.3 1504,278 1505,277.6 1506,277.2 1507,276.8 1508,276.4 1509,275.9 1510,275.3 1511,274.7 1512,274.1 1513,273.4 1514,272.6 1515,271.7 1516,270.8 1517,269.8 1518,268.6 1519,267.4 1520,266 1521,264.5 1522,262.8 1523,261 1524,259 1525,256.8 1526,254.4 1527,251.9 1528,249.2 1529,246.3 1530,243.2 1531,240 1532,236.7 1533,233.5 1534,230.2 1535,227.2 1536,224.5 1537,222.2 1538,220.4 1539,219.3 1540,218.9 1541,219.2 1542,220.2 1543,221.7 1544,223.8 1545,226.2 1546,228.9 1547,231.9 1548,234.9 1549,237.9 1550,241 1551,243.9 1552,246.7 1553,249.4 1554,251.9 1555,254.3 1556,256.5 1557,258.6 1558,260.5 1559,262.2 1560,263.8 1561,265.3 1562,266.6 1563,267.9 1564,269 1565,270.1 1566,271 1567,271.9 1568,272.7 1569,273.4 1570,274.1 1571,274.7 1572,275.3 1573,275.8 1574,276.3 1575,276.7 1576,277.1 1577,277.5 1578,277.8 1579,278.2 1580,278.5 1581,278.8 1582,279 1583,279.3 1584,279.5 1585,279.7 1586,280 1587,280.2 1588,280.3 1589,280.5 1590,280.7 1591,280.8 1592,281 1593,281.1 1594,281.3 1595,281.4 1596,281.5 1597,281.6 1598,281.7 1599,281.8 1600,281.9 1601,282 1602,282.1 1603,282.2 1604,282.3 1605,282.4 1606,282.5 1607,282.5 1608,282.6 1609,282.7 1610,282.7 1611,282.8 1612,282.9 1613,282.9 1614,283 1615,283 1616,283.1 1617,283.1 1618,283.2 1619,283.2 1620,283.3 1621,283.3 1622,283.4 1623,283.4 1624,283.4 1625,283.5 1626,283.5 1627,283.6 1628,283.6 1629,283.6 1630,283.7 1631,283.7 1632,283.7 1633,283.8 1634,283.8 1635,283.8 1636,283.8 1637,283.9 1638,283.9 1639,283.9 1640,283.9 1641,284 1642,284 1643,284 1644,284 1645,284 1646,284.1 1647,284.1 1648,284.1 1649,284.1 1650,284.1 1651,284.2 1652,284.2 1653,284.2 1654,284.2 1655,284.2 1656,284.2 1657,284.3 1658,284.3 1659,284.3 1660,284.3 1661,284.3 1662,284.3 1663,284.4 1664,284.4 1665,284.4 1666,284.4 1667,284.4 1668,284.4 1669,284.4 1670,284.4 1671,284.5 1672,284.5 1673,284.5 1674,284.5 1675,284.5 1676,284.5 1677,284.5 1678,284.5 1679,284.5 1680,284.6 1681,284.6 1682,284.6 1683,284.6 1684,284.6 1685,284.6 1686,284.6 1687,284.6 1688,284.6 1689,284.6 1690,284.6 1691,284.7 1692,284.7 1693,284.7 1694,284.7 1695,284.7 1696,284.7 1697,284.7 1698,284.7 1699,284.7 1700,284.7 1701,284.7 1702,284.7 1703,284.7 1704,284.7 1705,284.8 1706,284.8 1707,284.8 1708,284.8 1709,284.8 1710,284.8 1711,284.8 1712,284.8 1713,284.8 1714,284.8 1715,284.8 1716,284.8 1717,284.8 1718,284.8 1719,284.8" fill="none" stroke="#1a1ad2" stroke-width="2.8" stroke-linejoin="round" stroke-linecap="round" />
<polyline points="1397,284.6 1398,284.6 1399,284.6 1400,284.6 1401,284.6 1402,284.6 1403,284.6 1404,284.6 1405,284.6 1406,284.6 1407,284.6 1408,284.6 1409,284.6 1410,284.6 1411,284.6 1412,284.6 1413,284.6 1414,284.6 1415,284.6 1416,284.6 1417,284.6 1418,284.6 1419,284.6 1420,284.6 1421,284.6 1422,284.6 1423,284.6 1424,284.6 1425,284.6 1426,284.6 1427,284.6 1428,284.6 1429,284.6 1430,284.6 1431,284.6 1432,284.6 1433,284.6 1434,284.6 1435,284.6 1436,284.6 1437,284.6 1438,284.6 1439,284.6 1440,284.6 1441,284.6 1442,284.6 1443,284.6 1444,284.6 1445,284.6 1446,284.6 1447,284.6 1448,284.6 1449,284.6 1450,284.6 1451,284.6 1452,284.6 1453,284.6 1454,284.6 1455,284.6 1456,284.6 1457,284.6 1458,284.6 1459,284.6 1460,284.6 1461,284.6 1462,284.6 1463,284.6 1464,284.6 1465,284.6 1466,284.6 1467,284.6 1468,284.6 1469,284.6 1470,284.6 1471,284.5 1472,284.5 1473,284.5 1474,284.5 1475,284.5 1476,284.5 1477,284.5 1478,284.5 1479,284.5 1480,284.5 1481,284.5 1482,284.5 1483,284.5 1484,284.5 1485,284.5 1486,284.4 1487,284.4 1488,284.4 1489,284.4 1490,284.4 1491,284.4 1492,284.4 1493,284.4 1494,284.4 1495,284.3 1496,284.3 1497,284.3 1498,284.3 1499,284.3 1500,284.3 1501,284.2 1502,284.2 1503,284.2 1504,284.2 1505,284.2 1506,284.1 1507,284.1 1508,284.1 1509,284 1510,284 1511,284 1512,283.9 1513,283.9 1514,283.9 1515,283.8 1516,283.8 1517,283.7 1518,283.7 1519,283.6 1520,283.5 1521,283.5 1522,283.4 1523,283.3 1524,283.2 1525,283.1 1526,283 1527,282.9 1528,282.8 1529,282.7 1530,282.5 1531,282.4 1532,282.2 1533,282 1534,281.7 1535,281.5 1536,281.2 1537,280.9 1538,280.5 1539,280.1 1540,279.6 1541,279.1 1542,278.4 1543,277.6 1544,276.7 1545,275.6 1546,274.2 1547,272.6 1548,270.5 1549,268.1 1550,265.1 1551,261.5 1552,257.3 1553,252.5 1554,247.1 1555,241.3 1556,235.7 1557,230.9 1558,227.8 1559,227 1560,228.8 1561,232.7 1562,237.9 1563,243.7 1564,249.3 1565,254.5 1566,259.1 1567,263.1 1568,266.4 1569,269.2 1570,271.4 1571,273.3 1572,274.9 1573,276.1 1574,277.2 1575,278 1576,278.7 1577,279.4 1578,279.9 1579,280.3 1580,280.7 1581,281.1 1582,281.4 1583,281.7 1584,281.9 1585,282.1 1586,282.3 1587,282.5 1588,282.7 1589,282.8 1590,282.9 1591,283.1 1592,283.2 1593,283.3 1594,283.4 1595,283.5 1596,283.5 1597,283.6 1598,283.7 1599,283.8 1600,283.8 1601,283.9 1602,283.9 1603,284 1604,284 1605,284.1 1606,284.1 1607,284.1 1608,284.2 1609,284.2 1610,284.2 1611,284.3 1612,284.3 1613,284.3 1614,284.4 1615,284.4 1616,284.4 1617,284.4 1618,284.5 1619,284.5 1620,284.5 1621,284.5 1622,284.5 1623,284.6 1624,284.6 1625,284.6 1626,284.6 1627,284.6 1628,284.6 1629,284.6 1630,284.7 1631,284.7 1632,284.7 1633,284.7 1634,284.7 1635,284.7 1636,284.7 1637,284.7 1638,284.7 1639,284.8 1640,284.8 1641,284.8 1642,284.8 1643,284.8 1644,284.8 1645,284.8 1646,284.8 1647,284.8 1648,284.8 1649,284.8 1650,284.8 1651,284.9 1652,284.9 1653,284.9 1654,284.9 1655,284.9 1656,284.9 1657,284.9 1658,284.9 1659,284.9 1660,284.9 1661,284.9 1662,284.9 1663,284.9 1664,284.9 1665,284.9 1666,284.9 1667,284.9 1668,284.9 1669,285 1670,285 1671,285 1672,285 1673,285 1674,285 1675,285 1676,285 1677,285 1678,285 1679,285 1680,285 1681,285 1682,285 1683,285 1684,285 1685,285 1686,285 1687,285 1688,285 1689,285 1690,285 1691,285 1692,285 1693,285 1694,285 1695,285.1 1696,285.1 1697,285.1 1698,285.1 1699,285.1 1700,285.1 1701,285.1 1702,285.1 1703,285.1 1704,285.1 1705,285.1 1706,285.1 1707,285.1 1708,285.1 1709,285.1 1710,285.1 1711,285.1 1712,285.1 1713,285.1 1714,285.1 1715,285.1 1716,285.1 1717,285.1 1718,285.1 1719,285.1" fill="none" stroke="#147a14" stroke-width="2.8" stroke-linejoin="round" stroke-linecap="round" />
<polyline points="1397,283.3 1398,283.3 1399,283.3 1400,283.3 1401,283.3 1402,283.3 1403,283.3 1404,283.3 1405,283.3 1406,283.3 1407,283.3 1408,283.3 1409,283.2 1410,283.2 1411,283.2 1412,283.2 1413,283.2 1414,283.2 1415,283.2 1416,283.2 1417,283.2 1418,283.2 1419,283.1 1420,283.1 1421,283.1 1422,283.1 1423,283.1 1424,283.1 1425,283.1 1426,283.1 1427,283.1 1428,283 1429,283 1430,283 1431,283 1432,283 1433,283 1434,282.9 1435,282.9 1436,282.9 1437,282.9 1438,282.9 1439,282.9 1440,282.8 1441,282.8 1442,282.8 1443,282.8 1444,282.7 1445,282.7 1446,282.7 1447,282.7 1448,282.6 1449,282.6 1450,282.6 1451,282.6 1452,282.5 1453,282.5 1454,282.5 1455,282.4 1456,282.4 1457,282.4 1458,282.3 1459,282.3 1460,282.3 1461,282.2 1462,282.2 1463,282.1 1464,282.1 1465,282 1466,282 1467,281.9 1468,281.9 1469,281.8 1470,281.8 1471,281.7 1472,281.6 1473,281.6 1474,281.5 1475,281.4 1476,281.4 1477,281.3 1478,281.2 1479,281.1 1480,281 1481,280.9 1482,280.8 1483,280.7 1484,280.6 1485,280.5 1486,280.4 1487,280.3 1488,280.1 1489,280 1490,279.8 1491,279.7 1492,279.5 1493,279.4 1494,279.2 1495,279 1496,278.8 1497,278.5 1498,278.3 1499,278 1500,277.8 1501,277.5 1502,277.2 1503,276.9 1504,276.5 1505,276.1 1506,275.7 1507,275.3 1508,274.8 1509,274.2 1510,273.7 1511,273 1512,272.3 1513,271.6 1514,270.8 1515,269.9 1516,268.9 1517,267.8 1518,266.6 1519,265.3 1520,263.8 1521,262.2 1522,260.5 1523,258.6 1524,256.5 1525,254.2 1526,251.8 1527,249.1 1528,246.3 1529,243.2 1530,240 1531,236.7 1532,233.2 1533,229.7 1534,226.3 1535,223 1536,220 1537,217.3 1538,215.2 1539,213.7 1540,212.8 1541,212.6 1542,212.9 1543,213.7 1544,214.8 1545,216.1 1546,217.4 1547,218.7 1548,219.7 1549,220.3 1550,220.3 1551,219.7 1552,218.3 1553,216.2 1554,213.3 1555,209.9 1556,206.5 1557,203.7 1558,202.5 1559,203.5 1560,206.8 1561,212.2 1562,218.8 1563,225.8 1564,232.6 1565,238.8 1566,244.4 1567,249.2 1568,253.3 1569,256.8 1570,259.7 1571,262.2 1572,264.3 1573,266.1 1574,267.6 1575,268.9 1576,270.1 1577,271.1 1578,272 1579,272.7 1580,273.4 1581,274.1 1582,274.6 1583,275.2 1584,275.6 1585,276.1 1586,276.5 1587,276.9 1588,277.2 1589,277.5 1590,277.8 1591,278.1 1592,278.4 1593,278.6 1594,278.8 1595,279.1 1596,279.3 1597,279.4 1598,279.6 1599,279.8 1600,280 1601,280.1 1602,280.2 1603,280.4 1604,280.5 1605,280.6 1606,280.7 1607,280.9 1608,281 1609,281.1 1610,281.2 1611,281.3 1612,281.3 1613,281.4 1614,281.5 1615,281.6 1616,281.7 1617,281.7 1618,281.8 1619,281.9 1620,281.9 1621,282 1622,282.1 1623,282.1 1624,282.2 1625,282.2 1626,282.3 1627,282.3 1628,282.4 1629,282.4 1630,282.5 1631,282.5 1632,282.5 1633,282.6 1634,282.6 1635,282.7 1636,282.7 1637,282.7 1638,282.8 1639,282.8 1640,282.8 1641,282.9 1642,282.9 1643,282.9 1644,282.9 1645,283 1646,283 1647,283 1648,283 1649,283.1 1650,283.1 1651,283.1 1652,283.1 1653,283.2 1654,283.2 1655,283.2 1656,283.2 1657,283.3 1658,283.3 1659,283.3 1660,283.3 1661,283.3 1662,283.3 1663,283.4 1664,283.4 1665,283.4 1666,283.4 1667,283.4 1668,283.4 1669,283.5 1670,283.5 1671,283.5 1672,283.5 1673,283.5 1674,283.5 1675,283.5 1676,283.6 1677,283.6 1678,283.6 1679,283.6 1680,283.6 1681,283.6 1682,283.6 1683,283.6 1684,283.7 1685,283.7 1686,283.7 1687,283.7 1688,283.7 1689,283.7 1690,283.7 1691,283.7 1692,283.7 1693,283.8 1694,283.8 1695,283.8 1696,283.8 1697,283.8 1698,283.8 1699,283.8 1700,283.8 1701,283.8 1702,283.8 1703,283.8 1704,283.8 1705,283.9 1706,283.9 1707,283.9 1708,283.9 1709,283.9 1710,283.9 1711,283.9 1712,283.9 1713,283.9 1714,283.9 1715,283.9 1716,283.9 1717,283.9 1718,284 1719,284" fill="none" stroke="#e88ae8" stroke-width="2.2" stroke-linejoin="round" stroke-linecap="round" stroke-opacity="0.85"/>
<g fill="none" stroke="#cdcdd4" stroke-width="1"><circle cx="1397" cy="410.3" r="2.6"/><circle cx="1404" cy="409.9" r="2.6"/><circle cx="1411" cy="408.4" r="2.6"/><circle cx="1418" cy="408.3" r="2.6"/><circle cx="1425" cy="407.1" r="2.6"/><circle cx="1432" cy="408.8" r="2.6"/><circle cx="1439" cy="406.6" r="2.6"/><circle cx="1446" cy="406.4" r="2.6"/><circle cx="1453" cy="406.6" r="2.6"/><circle cx="1460" cy="406.1" r="2.6"/><circle cx="1467" cy="406.2" r="2.6"/><circle cx="1474" cy="404.6" r="2.6"/><circle cx="1481" cy="403.6" r="2.6"/><circle cx="1488" cy="403" r="2.6"/><circle cx="1495" cy="401.2" r="2.6"/><circle cx="1502" cy="399.8" r="2.6"/><circle cx="1509" cy="391.6" r="2.6"/><circle cx="1516" cy="390.6" r="2.6"/><circle cx="1523" cy="378.7" r="2.6"/><circle cx="1530" cy="363.8" r="2.6"/><circle cx="1537" cy="340.6" r="2.6"/><circle cx="1544" cy="329.8" r="2.6"/><circle cx="1551" cy="342" r="2.6"/><circle cx="1558" cy="362.5" r="2.6"/><circle cx="1565" cy="380.2" r="2.6"/><circle cx="1572" cy="384.2" r="2.6"/><circle cx="1579" cy="395.2" r="2.6"/><circle cx="1586" cy="399.5" r="2.6"/><circle cx="1593" cy="402.1" r="2.6"/><circle cx="1600" cy="405.3" r="2.6"/><circle cx="1607" cy="406.1" r="2.6"/><circle cx="1614" cy="406.4" r="2.6"/><circle cx="1621" cy="405.6" r="2.6"/><circle cx="1628" cy="406.5" r="2.6"/><circle cx="1635" cy="406.2" r="2.6"/><circle cx="1642" cy="408.6" r="2.6"/><circle cx="1649" cy="408.1" r="2.6"/><circle cx="1656" cy="409.2" r="2.6"/><circle cx="1663" cy="407.8" r="2.6"/><circle cx="1670" cy="407.6" r="2.6"/><circle cx="1677" cy="409.8" r="2.6"/><circle cx="1684" cy="410.5" r="2.6"/><circle cx="1691" cy="410.1" r="2.6"/><circle cx="1698" cy="410" r="2.6"/><circle cx="1705" cy="410.2" r="2.6"/><circle cx="1712" cy="409.9" r="2.6"/><circle cx="1719" cy="408.2" r="2.6"/></g>
<polyline points="1397,409.7 1398,409.7 1399,409.7 1400,409.7 1401,409.7 1402,409.7 1403,409.7 1404,409.6 1405,409.6 1406,409.6 1407,409.6 1408,409.6 1409,409.6 1410,409.6 1411,409.5 1412,409.5 1413,409.5 1414,409.5 1415,409.5 1416,409.5 1417,409.4 1418,409.4 1419,409.4 1420,409.4 1421,409.4 1422,409.3 1423,409.3 1424,409.3 1425,409.3 1426,409.3 1427,409.2 1428,409.2 1429,409.2 1430,409.2 1431,409.1 1432,409.1 1433,409.1 1434,409.1 1435,409 1436,409 1437,409 1438,408.9 1439,408.9 1440,408.9 1441,408.8 1442,408.8 1443,408.8 1444,408.7 1445,408.7 1446,408.7 1447,408.6 1448,408.6 1449,408.5 1450,408.5 1451,408.5 1452,408.4 1453,408.4 1454,408.3 1455,408.3 1456,408.2 1457,408.2 1458,408.1 1459,408 1460,408 1461,407.9 1462,407.9 1463,407.8 1464,407.7 1465,407.7 1466,407.6 1467,407.5 1468,407.4 1469,407.3 1470,407.3 1471,407.2 1472,407.1 1473,407 1474,406.9 1475,406.8 1476,406.7 1477,406.6 1478,406.5 1479,406.3 1480,406.2 1481,406.1 1482,405.9 1483,405.8 1484,405.6 1485,405.5 1486,405.3 1487,405.1 1488,405 1489,404.8 1490,404.6 1491,404.3 1492,404.1 1493,403.9 1494,403.6 1495,403.4 1496,403.1 1497,402.8 1498,402.5 1499,402.2 1500,401.8 1501,401.4 1502,401.1 1503,400.6 1504,400.2 1505,399.7 1506,399.2 1507,398.7 1508,398.1 1509,397.5 1510,396.8 1511,396.1 1512,395.3 1513,394.5 1514,393.6 1515,392.6 1516,391.6 1517,390.5 1518,389.2 1519,387.9 1520,386.5 1521,385 1522,383.4 1523,381.7 1524,379.8 1525,377.8 1526,375.6 1527,373.3 1528,370.8 1529,368.2 1530,365.5 1531,362.6 1532,359.6 1533,356.5 1534,353.4 1535,350.2 1536,347.1 1537,344.1 1538,341.3 1539,338.7 1540,336.5 1541,334.7 1542,333.5 1543,332.7 1544,332.6 1545,333 1546,334 1547,335.4 1548,337.2 1549,339.4 1550,341.9 1551,344.6 1552,347.5 1553,350.4 1554,353.4 1555,356.3 1556,359.2 1557,362.1 1558,364.8 1559,367.4 1560,369.9 1561,372.3 1562,374.5 1563,376.6 1564,378.6 1565,380.5 1566,382.2 1567,383.8 1568,385.3 1569,386.7 1570,388 1571,389.2 1572,390.4 1573,391.4 1574,392.4 1575,393.3 1576,394.2 1577,395 1578,395.8 1579,396.5 1580,397.1 1581,397.7 1582,398.3 1583,398.8 1584,399.3 1585,399.8 1586,400.2 1587,400.7 1588,401.1 1589,401.4 1590,401.8 1591,402.1 1592,402.4 1593,402.7 1594,403 1595,403.3 1596,403.5 1597,403.8 1598,404 1599,404.2 1600,404.4 1601,404.6 1602,404.8 1603,405 1604,405.1 1605,405.3 1606,405.5 1607,405.6 1608,405.8 1609,405.9 1610,406 1611,406.2 1612,406.3 1613,406.4 1614,406.5 1615,406.6 1616,406.7 1617,406.8 1618,406.9 1619,407 1620,407.1 1621,407.2 1622,407.3 1623,407.3 1624,407.4 1625,407.5 1626,407.6 1627,407.6 1628,407.7 1629,407.8 1630,407.8 1631,407.9 1632,408 1633,408 1634,408.1 1635,408.1 1636,408.2 1637,408.2 1638,408.3 1639,408.3 1640,408.4 1641,408.4 1642,408.4 1643,408.5 1644,408.5 1645,408.6 1646,408.6 1647,408.6 1648,408.7 1649,408.7 1650,408.8 1651,408.8 1652,408.8 1653,408.8 1654,408.9 1655,408.9 1656,408.9 1657,409 1658,409 1659,409 1660,409 1661,409.1 1662,409.1 1663,409.1 1664,409.1 1665,409.2 1666,409.2 1667,409.2 1668,409.2 1669,409.3 1670,409.3 1671,409.3 1672,409.3 1673,409.3 1674,409.4 1675,409.4 1676,409.4 1677,409.4 1678,409.4 1679,409.4 1680,409.5 1681,409.5 1682,409.5 1683,409.5 1684,409.5 1685,409.5 1686,409.6 1687,409.6 1688,409.6 1689,409.6 1690,409.6 1691,409.6 1692,409.6 1693,409.7 1694,409.7 1695,409.7 1696,409.7 1697,409.7 1698,409.7 1699,409.7 1700,409.7 1701,409.7 1702,409.8 1703,409.8 1704,409.8 1705,409.8 1706,409.8 1707,409.8 1708,409.8 1709,409.8 1710,409.8 1711,409.8 1712,409.9 1713,409.9 1714,409.9 1715,409.9 1716,409.9 1717,409.9 1718,409.9 1719,409.9" fill="none" stroke="#1a1ad2" stroke-width="2.8" stroke-linejoin="round" stroke-linecap="round" />
<g fill="none" stroke="#cdcdd4" stroke-width="1"><circle cx="1397" cy="529" r="2.6"/><circle cx="1404" cy="528.3" r="2.6"/><circle cx="1411" cy="527.1" r="2.6"/><circle cx="1418" cy="527" r="2.6"/><circle cx="1425" cy="527.8" r="2.6"/><circle cx="1432" cy="527.5" r="2.6"/><circle cx="1439" cy="528.9" r="2.6"/><circle cx="1446" cy="529.6" r="2.6"/><circle cx="1453" cy="527.5" r="2.6"/><circle cx="1460" cy="528.8" r="2.6"/><circle cx="1467" cy="528.5" r="2.6"/><circle cx="1474" cy="527.8" r="2.6"/><circle cx="1481" cy="524.9" r="2.6"/><circle cx="1488" cy="523.2" r="2.6"/><circle cx="1495" cy="521.6" r="2.6"/><circle cx="1502" cy="519" r="2.6"/><circle cx="1509" cy="512.5" r="2.6"/><circle cx="1516" cy="507.1" r="2.6"/><circle cx="1523" cy="493.5" r="2.6"/><circle cx="1530" cy="473.7" r="2.6"/><circle cx="1537" cy="437.5" r="2.6"/><circle cx="1544" cy="429.2" r="2.6"/><circle cx="1551" cy="458" r="2.6"/><circle cx="1558" cy="486.3" r="2.6"/><circle cx="1565" cy="500.6" r="2.6"/><circle cx="1572" cy="510.8" r="2.6"/><circle cx="1579" cy="516.7" r="2.6"/><circle cx="1586" cy="519.6" r="2.6"/><circle cx="1593" cy="522.1" r="2.6"/><circle cx="1600" cy="526.2" r="2.6"/><circle cx="1607" cy="526.9" r="2.6"/><circle cx="1614" cy="525.4" r="2.6"/><circle cx="1621" cy="528.3" r="2.6"/><circle cx="1628" cy="529.3" r="2.6"/><circle cx="1635" cy="528.5" r="2.6"/><circle cx="1642" cy="527.8" r="2.6"/><circle cx="1649" cy="528.7" r="2.6"/><circle cx="1656" cy="527.4" r="2.6"/><circle cx="1663" cy="527.2" r="2.6"/><circle cx="1670" cy="530.7" r="2.6"/><circle cx="1677" cy="529.7" r="2.6"/><circle cx="1684" cy="529.4" r="2.6"/><circle cx="1691" cy="530.9" r="2.6"/><circle cx="1698" cy="529.2" r="2.6"/><circle cx="1705" cy="530.8" r="2.6"/><circle cx="1712" cy="530.7" r="2.6"/><circle cx="1719" cy="528.6" r="2.6"/></g>
<polyline points="1397,529.7 1398,529.7 1399,529.7 1400,529.6 1401,529.6 1402,529.6 1403,529.6 1404,529.6 1405,529.6 1406,529.6 1407,529.6 1408,529.6 1409,529.5 1410,529.5 1411,529.5 1412,529.5 1413,529.5 1414,529.5 1415,529.5 1416,529.4 1417,529.4 1418,529.4 1419,529.4 1420,529.4 1421,529.4 1422,529.3 1423,529.3 1424,529.3 1425,529.3 1426,529.3 1427,529.2 1428,529.2 1429,529.2 1430,529.2 1431,529.2 1432,529.1 1433,529.1 1434,529.1 1435,529.1 1436,529 1437,529 1438,529 1439,528.9 1440,528.9 1441,528.9 1442,528.8 1443,528.8 1444,528.8 1445,528.7 1446,528.7 1447,528.7 1448,528.6 1449,528.6 1450,528.6 1451,528.5 1452,528.5 1453,528.4 1454,528.4 1455,528.3 1456,528.3 1457,528.2 1458,528.2 1459,528.1 1460,528.1 1461,528 1462,527.9 1463,527.9 1464,527.8 1465,527.7 1466,527.7 1467,527.6 1468,527.5 1469,527.4 1470,527.3 1471,527.3 1472,527.2 1473,527.1 1474,527 1475,526.9 1476,526.8 1477,526.6 1478,526.5 1479,526.4 1480,526.3 1481,526.1 1482,526 1483,525.8 1484,525.7 1485,525.5 1486,525.4 1487,525.2 1488,525 1489,524.8 1490,524.6 1491,524.3 1492,524.1 1493,523.9 1494,523.6 1495,523.3 1496,523 1497,522.7 1498,522.4 1499,522 1500,521.6 1501,521.2 1502,520.8 1503,520.3 1504,519.8 1505,519.3 1506,518.7 1507,518.1 1508,517.5 1509,516.8 1510,516 1511,515.2 1512,514.3 1513,513.3 1514,512.2 1515,511.1 1516,509.8 1517,508.4 1518,506.9 1519,505.3 1520,503.5 1521,501.5 1522,499.3 1523,497 1524,494.4 1525,491.6 1526,488.6 1527,485.3 1528,481.7 1529,477.9 1530,473.8 1531,469.4 1532,464.8 1533,460.1 1534,455.3 1535,450.4 1536,445.7 1537,441.3 1538,437.4 1539,434.1 1540,431.7 1541,430.2 1542,429.7 1543,430.3 1544,431.9 1545,434.4 1546,437.6 1547,441.4 1548,445.7 1549,450.2 1550,454.8 1551,459.5 1552,464.1 1553,468.6 1554,472.8 1555,476.8 1556,480.6 1557,484.1 1558,487.4 1559,490.5 1560,493.3 1561,495.8 1562,498.2 1563,500.4 1564,502.4 1565,504.2 1566,505.9 1567,507.5 1568,508.9 1569,510.2 1570,511.4 1571,512.5 1572,513.5 1573,514.4 1574,515.3 1575,516.1 1576,516.9 1577,517.5 1578,518.2 1579,518.8 1580,519.3 1581,519.9 1582,520.3 1583,520.8 1584,521.2 1585,521.6 1586,522 1587,522.4 1588,522.7 1589,523 1590,523.3 1591,523.6 1592,523.9 1593,524.1 1594,524.3 1595,524.6 1596,524.8 1597,525 1598,525.2 1599,525.4 1600,525.5 1601,525.7 1602,525.9 1603,526 1604,526.2 1605,526.3 1606,526.5 1607,526.6 1608,526.7 1609,526.8 1610,526.9 1611,527 1612,527.2 1613,527.3 1614,527.4 1615,527.4 1616,527.5 1617,527.6 1618,527.7 1619,527.8 1620,527.9 1621,527.9 1622,528 1623,528.1 1624,528.1 1625,528.2 1626,528.3 1627,528.3 1628,528.4 1629,528.4 1630,528.5 1631,528.6 1632,528.6 1633,528.7 1634,528.7 1635,528.7 1636,528.8 1637,528.8 1638,528.9 1639,528.9 1640,529 1641,529 1642,529 1643,529.1 1644,529.1 1645,529.1 1646,529.2 1647,529.2 1648,529.2 1649,529.3 1650,529.3 1651,529.3 1652,529.4 1653,529.4 1654,529.4 1655,529.5 1656,529.5 1657,529.5 1658,529.5 1659,529.6 1660,529.6 1661,529.6 1662,529.6 1663,529.6 1664,529.7 1665,529.7 1666,529.7 1667,529.7 1668,529.8 1669,529.8 1670,529.8 1671,529.8 1672,529.8 1673,529.8 1674,529.9 1675,529.9 1676,529.9 1677,529.9 1678,529.9 1679,529.9 1680,530 1681,530 1682,530 1683,530 1684,530 1685,530 1686,530.1 1687,530.1 1688,530.1 1689,530.1 1690,530.1 1691,530.1 1692,530.1 1693,530.1 1694,530.2 1695,530.2 1696,530.2 1697,530.2 1698,530.2 1699,530.2 1700,530.2 1701,530.2 1702,530.2 1703,530.3 1704,530.3 1705,530.3 1706,530.3 1707,530.3 1708,530.3 1709,530.3 1710,530.3 1711,530.3 1712,530.3 1713,530.4 1714,530.4 1715,530.4 1716,530.4 1717,530.4 1718,530.4 1719,530.4" fill="none" stroke="#1a1ad2" stroke-width="2.8" stroke-linejoin="round" stroke-linecap="round" />
<rect x="1395" y="44.3" width="326" height="492.9" fill="none" stroke="#111" stroke-width="3.2"/>
<line x1="1467.6" y1="537.2" x2="1467.6" y2="532.2" stroke="#111" stroke-width="2.6" />
<line x1="1540.2" y1="537.2" x2="1540.2" y2="532.2" stroke="#111" stroke-width="2.6" />
<line x1="1612.8" y1="537.2" x2="1612.8" y2="532.2" stroke="#111" stroke-width="2.6" />
<line x1="1685.4" y1="537.2" x2="1685.4" y2="532.2" stroke="#111" stroke-width="2.6" />
<text x="1393.5" y="561.5" font-family='"Liberation Sans", Arial, sans-serif' font-size="17.3" fill="#1a1a1a" text-anchor="middle" font-weight="bold" font-style="normal" >1300</text>
<text x="1466.1" y="561.5" font-family='"Liberation Sans", Arial, sans-serif' font-size="17.3" fill="#1a1a1a" text-anchor="middle" font-weight="bold" font-style="normal" >1320</text>
<text x="1538.7" y="561.5" font-family='"Liberation Sans", Arial, sans-serif' font-size="17.3" fill="#1a1a1a" text-anchor="middle" font-weight="bold" font-style="normal" >1340</text>
<text x="1611.3" y="561.5" font-family='"Liberation Sans", Arial, sans-serif' font-size="17.3" fill="#1a1a1a" text-anchor="middle" font-weight="bold" font-style="normal" >1360</text>
<text x="1683.9" y="561.5" font-family='"Liberation Sans", Arial, sans-serif' font-size="17.3" fill="#1a1a1a" text-anchor="middle" font-weight="bold" font-style="normal" >1380</text>
<text x="1479.5" y="581.5" font-family='"Liberation Sans", Arial, sans-serif' font-size="17.5" font-weight="bold" fill="#1a1a1a" textLength="156" lengthAdjust="spacingAndGlyphs">Raman shift (cm<tspan font-size="10" dy="-7">-1</tspan><tspan dy="7">)</tspan></text>
<text x="1380.5" y="287.4" font-family='"Liberation Sans", Arial, sans-serif' font-size="17.6" fill="#1a1a1a" text-anchor="middle" font-weight="bold" font-style="normal" transform="rotate(-90 1380.5 287.4)">Intensity (a.u.)</text>
<text x="1592.5" y="74.5" font-family='"Liberation Sans", Arial, sans-serif' font-size="17.5" fill="#1a1a1a" text-anchor="start" font-weight="bold" font-style="normal" >HS</text>
<text x="1592.5" y="98.7" font-family='"Liberation Sans", Arial, sans-serif' font-size="17.5" fill="#1a1a1a" text-anchor="start" font-weight="bold" font-style="normal" >after 120 <tspan font-size="11" dy="-6">o</tspan><tspan dy="6">C</tspan></text>
<text x="1592.5" y="123" font-family='"Liberation Sans", Arial, sans-serif' font-size="17.5" fill="#1a1a1a" text-anchor="start" font-weight="bold" font-style="normal" >annealing</text>
<text x="1592.5" y="219.3" font-family='"Liberation Sans", Arial, sans-serif' font-size="17.5" fill="#1a1a1a" text-anchor="start" font-weight="bold" font-style="normal" >HS after</text>
<text x="1592.5" y="242.4" font-family='"Liberation Sans", Arial, sans-serif' font-size="17.5" fill="#1a1a1a" text-anchor="start" font-weight="bold" font-style="normal" >vacuum</text>
<text x="1592.5" y="266.5" font-family='"Liberation Sans", Arial, sans-serif' font-size="17.5" fill="#1a1a1a" text-anchor="start" font-weight="bold" font-style="normal" >treatment</text>
<text x="1592.5" y="344.6" font-family='"Liberation Sans", Arial, sans-serif' font-size="17.5" fill="#1a1a1a" text-anchor="start" font-weight="bold" font-style="normal" >HS</text>
<text x="1592.5" y="368.9" font-family='"Liberation Sans", Arial, sans-serif' font-size="17.5" fill="#1a1a1a" text-anchor="start" font-weight="bold" font-style="normal" >without</text>
<text x="1592.5" y="392.5" font-family='"Liberation Sans", Arial, sans-serif' font-size="17.5" fill="#1a1a1a" text-anchor="start" font-weight="bold" font-style="normal" >annealing</text>
<text x="1592.5" y="488.8" font-family='"Liberation Sans", Arial, sans-serif' font-size="17.5" fill="#1a1a1a" text-anchor="start" font-weight="bold" font-style="normal" >Pure CuPc</text>
<polyline points="109.3,716.4 110.8,716.3 112.3,716.3 113.8,716.3 115.3,716.3 116.8,716.4 118.3,716.4 119.8,716.4 121.3,716.5 122.8,716.5 124.3,716.6 125.8,716.6 127.3,716.7 128.8,716.7 130.3,716.8 131.8,716.9 133.3,716.9 134.8,717 136.3,717 137.8,717 139.3,717.1 140.8,717.1 142.3,717.1 143.8,717.1 145.3,717.1 146.8,717 148.3,717 149.8,717 151.3,717 152.8,716.9 154.3,716.9 155.8,716.9 157.3,716.9 158.8,716.9 160.3,716.9 161.8,716.9 163.3,716.9 164.8,716.9 166.3,716.9 167.8,716.9 169.3,717 170.8,717 172.3,717 173.8,717.1 175.3,717.1 176.8,717.1 178.3,717.2 179.8,717.2 181.3,717.2 182.8,717.2 184.3,717.2 185.8,717.2 187.3,717.1 188.8,717.1 190.3,717 191.8,717 193.3,716.9 194.8,716.9 196.3,716.8 197.8,716.7 199.3,716.7 200.8,716.6 202.3,716.6 203.8,716.5 205.3,716.5 206.8,716.4 208.3,716.4 209.8,716.4 211.3,716.4 212.8,716.4 214.3,716.4 215.8,716.4 217.3,716.4 218.8,716.4 220.3,716.4 221.8,716.4 223.3,716.5 224.8,716.5 226.3,716.5 227.8,716.5 229.3,716.4 230.8,716.4 232.3,716.4 233.8,716.4 235.3,716.3 236.8,716.3 238.3,716.2 239.8,716.2 241.3,716.1 242.8,716 244.3,716 245.8,715.9 247.3,715.9 248.8,715.8 250.3,715.7 251.8,715.7 253.3,715.6 254.8,715.6 256.3,715.5 257.8,715.5 259.3,715.4 260.8,715.3 262.3,715.1 263.8,714.9 265.3,714.7 266.8,714.4 268.3,714.1 269.8,713.6 271.3,713.1 272.8,712.6 274.3,712 275.8,711.4 277.3,710.8 278.8,710.2 280.3,709.8 281.8,709.5 283.3,709.4 284.8,709.6 286.3,710 287.8,710.5 289.3,710.9 290.8,711.3 292.3,711.5 293.8,711.8 295.3,711.9 296.8,712.2 298.3,712.5 299.8,712.9 301.3,713.3 302.8,713.8 304.3,714.2 305.8,714.6 307.3,715 308.8,715.3 310.3,715.6 311.8,715.9 313.3,716.1 314.8,716.3 316.3,716.4 317.8,716.6 319.3,716.7 320.8,716.7 322.3,716.8 323.8,716.8 325.3,716.8 326.8,716.8 328.3,716.8 329.8,716.8 331.3,716.7 332.8,716.7 334.3,716.7 335.8,716.6 337.3,716.6 338.8,716.5 340.3,716.5 341.8,716.5 343.3,716.4 344.8,716.4 346.3,716.4 347.8,716.4 349.3,716.4 350.8,716.4 352.3,716.4 353.8,716.4 355.3,716.5 356.8,716.5 358.3,716.5 359.8,716.5 361.3,716.6 362.8,716.6 364.3,716.6 365.8,716.6 367.3,716.6 368.8,716.6 370.3,716.5 371.8,716.5 373.3,716.5 374.8,716.4 376.3,716.4 377.8,716.3 379.3,716.3 380.8,716.3 382.3,716.2 383.8,716.2 385.3,716.1 386.8,716.1 388.3,716.1 389.8,716.1 391.3,716.1 392.8,716.1 394.3,716.1 395.8,716.2 397.3,716.2 398.8,716.3 400.3,716.3 401.8,716.4 403.3,716.4 404.8,716.5 406.3,716.5 407.8,716.6 409.3,716.6 410.8,716.7 412.3,716.7 413.8,716.7 415.3,716.8 416.8,716.8 418.3,716.8 419.8,716.8 421.3,716.8 422.8,716.7 424.3,716.7 425.8,716.7 427.3,716.7 428.8,716.7 430.3,716.7 431.8,716.6 433.3,716.6 434.8,716.6 436.3,716.7 437.8,716.7 439.3,716.7 440.8,716.7 442.3,716.8 443.8,716.8 445.3,716.9 446.8,716.9 448.3,717 449.8,717 451.3,717.1 452.8,717.1 454.3,717.1 455.8,717.2 457.3,717.2 458.8,717.2 460.3,717.2 461.8,717.2 463.3,717.2 464.8,717.1 466.3,717.1 467.8,717.1 469.3,717 470.8,717 472.3,716.9 473.8,716.8 475.3,716.8 476.8,716.7 478.3,716.7 479.8,716.7 481.3,716.6 482.8,716.6 484.3,716.6 485.8,716.6 487.3,716.6 488.8,716.6 490.3,716.6 491.8,716.6 493.3,716.6 494.8,716.6 496.3,716.6 497.8,716.7 499.3,716.7 500.8,716.7 502.3,716.7 503.8,716.7 505.3,716.7 506.8,716.6 508.3,716.6 509.8,716.6 511.3,716.5 512.8,716.5 514.3,716.4 515.8,716.4 517.3,716.3 518.8,716.3 520.3,716.2 521.8,716.2 523.3,716.1 524.8,716.1 526.3,716.1 527.8,716 529.3,716 530.8,716 532.3,716 533.8,716.1 535.3,716.1 536.8,716.1 538.3,716.1 539.8,716.2 541.3,716.2 542.8,716.2 544.3,716.2 545.8,716.2 547.3,716.1 548.8,716 550.3,715.8 551.8,715.7 553.3,715.5 554.8,715.4 556.3,715.5 557.8,715.6 559.3,715.8 560.8,716 562.3,716.1 563.8,716.2 565.3,716.3 566.8,716.3 568.3,716.3 569.8,716.4 571.3,716.4 572.8,716.4 574.3,716.5 575.8,716.5 577.3,716.5 578.8,716.6 580.3,716.6 581.8,716.7 583.3,716.7 584.8,716.8 586.3,716.9 587.8,716.9 589.3,717 590.8,717 592.3,717.1 593.8,717.1 595.3,717.1 596.8,717.1 598.3,717.1 599.8,717.1 601.3,717.1 602.8,717.1 604.3,717.1 605.8,717 607.3,717 608.8,716.9 610.3,716.9 611.8,716.8 613.3,716.8 614.8,716.7 616.3,716.7 617.8,716.7 619.3,716.7 620.8,716.6 622.3,716.6 623.8,716.6 625.3,716.6 626.8,716.6 628.3,716.6 629.8,716.7 631.3,716.7" fill="none" stroke="#35358a" stroke-width="3.0" stroke-linejoin="round" stroke-linecap="round" />
<polyline points="109.3,767.1 110.8,767.1 112.3,767.1 113.8,767.2 115.3,767.2 116.8,767.2 118.3,767.3 119.8,767.3 121.3,767.3 122.8,767.3 124.3,767.3 125.8,767.3 127.3,767.3 128.8,767.2 130.3,767.2 131.8,767.2 133.3,767.1 134.8,767.1 136.3,767.1 137.8,767.1 139.3,767.1 140.8,767.1 142.3,767.1 143.8,767.1 145.3,767.1 146.8,767.1 148.3,767.1 149.8,767.2 151.3,767.2 152.8,767.2 154.3,767.3 155.8,767.3 157.3,767.3 158.8,767.4 160.3,767.4 161.8,767.4 163.3,767.4 164.8,767.4 166.3,767.4 167.8,767.4 169.3,767.4 170.8,767.3 172.3,767.3 173.8,767.2 175.3,767.1 176.8,767.1 178.3,767 179.8,767 181.3,766.9 182.8,766.8 184.3,766.8 185.8,766.7 187.3,766.7 188.8,766.6 190.3,766.6 191.8,766.6 193.3,766.6 194.8,766.6 196.3,766.6 197.8,766.6 199.3,766.6 200.8,766.6 202.3,766.6 203.8,766.6 205.3,766.6 206.8,766.6 208.3,766.6 209.8,766.5 211.3,766.5 212.8,766.5 214.3,766.4 215.8,766.4 217.3,766.3 218.8,766.2 220.3,766.2 221.8,766.1 223.3,766 224.8,766 226.3,765.9 227.8,765.8 229.3,765.8 230.8,765.7 232.3,765.7 233.8,765.6 235.3,765.6 236.8,765.6 238.3,765.6 239.8,765.6 241.3,765.6 242.8,765.6 244.3,765.6 245.8,765.6 247.3,765.6 248.8,765.6 250.3,765.6 251.8,765.6 253.3,765.5 254.8,765.5 256.3,765.4 257.8,765.3 259.3,765.1 260.8,764.9 262.3,764.7 263.8,764.4 265.3,764 266.8,763.6 268.3,763.2 269.8,762.7 271.3,762.1 272.8,761.5 274.3,760.9 275.8,760.3 277.3,759.7 278.8,759.2 280.3,758.8 281.8,758.6 283.3,758.5 284.8,758.6 286.3,758.9 287.8,759.3 289.3,759.7 290.8,760.1 292.3,760.4 293.8,760.7 295.3,761 296.8,761.5 298.3,761.9 299.8,762.4 301.3,762.9 302.8,763.4 304.3,763.8 305.8,764.2 307.3,764.5 308.8,764.8 310.3,765 311.8,765.2 313.3,765.3 314.8,765.4 316.3,765.4 317.8,765.5 319.3,765.5 320.8,765.5 322.3,765.5 323.8,765.5 325.3,765.5 326.8,765.5 328.3,765.5 329.8,765.5 331.3,765.5 332.8,765.5 334.3,765.6 335.8,765.6 337.3,765.6 338.8,765.6 340.3,765.7 341.8,765.7 343.3,765.7 344.8,765.7 346.3,765.7 347.8,765.7 349.3,765.6 350.8,765.6 352.3,765.6 353.8,765.5 355.3,765.5 356.8,765.4 358.3,765.4 359.8,765.3 361.3,765.2 362.8,765.2 364.3,765.1 365.8,765.1 367.3,765 368.8,765 370.3,764.9 371.8,764.9 373.3,764.9 374.8,764.9 376.3,764.9 377.8,764.9 379.3,764.9 380.8,765 382.3,765 383.8,765 385.3,765.1 386.8,765.1 388.3,765.1 389.8,765.2 391.3,765.2 392.8,765.2 394.3,765.2 395.8,765.2 397.3,765.2 398.8,765.2 400.3,765.2 401.8,765.2 403.3,765.2 404.8,765.1 406.3,765.1 407.8,765.1 409.3,765 410.8,765 412.3,765 413.8,765 415.3,765 416.8,765 418.3,765 419.8,765 421.3,765 422.8,765.1 424.3,765.1 425.8,765.1 427.3,765.2 428.8,765.2 430.3,765.3 431.8,765.3 433.3,765.4 434.8,765.4 436.3,765.5 437.8,765.5 439.3,765.5 440.8,765.5 442.3,765.5 443.8,765.5 445.3,765.5 446.8,765.4 448.3,765.4 449.8,765.3 451.3,765.3 452.8,765.2 454.3,765.2 455.8,765.1 457.3,765.1 458.8,765 460.3,765 461.8,764.9 463.3,764.9 464.8,764.9 466.3,764.9 467.8,764.9 469.3,764.8 470.8,764.8 472.3,764.8 473.8,764.8 475.3,764.8 476.8,764.8 478.3,764.8 479.8,764.8 481.3,764.8 482.8,764.8 484.3,764.8 485.8,764.7 487.3,764.7 488.8,764.6 490.3,764.5 491.8,764.4 493.3,764.3 494.8,764.2 496.3,764.1 497.8,763.9 499.3,763.8 500.8,763.6 502.3,763.3 503.8,763 505.3,762.6 506.8,761.9 508.3,761.1 509.8,760.1 511.3,758.8 512.8,757.5 514.3,756.4 515.8,755.8 517.3,756.1 518.8,757.1 520.3,758.4 521.8,759.6 523.3,760.7 524.8,761.5 526.3,762.1 527.8,762.5 529.3,762.7 530.8,762.8 532.3,762.8 533.8,762.8 535.3,762.6 536.8,762.4 538.3,762.1 539.8,761.6 541.3,760.9 542.8,759.7 544.3,758.1 545.8,756 547.3,753.3 548.8,750.2 550.3,747.3 551.8,745.3 553.3,745.1 554.8,746.8 556.3,749.6 557.8,752.7 559.3,755.5 560.8,757.8 562.3,759.6 563.8,760.8 565.3,761.7 566.8,762.3 568.3,762.8 569.8,763.1 571.3,763.3 572.8,763.5 574.3,763.7 575.8,763.8 577.3,763.9 578.8,764 580.3,764 581.8,764.1 583.3,764.1 584.8,764.1 586.3,764.1 587.8,764.1 589.3,764.1 590.8,764.1 592.3,764.1 593.8,764 595.3,764 596.8,764 598.3,764 599.8,764 601.3,763.9 602.8,763.9 604.3,763.9 605.8,764 607.3,764 608.8,764 610.3,764 611.8,764 613.3,764.1 614.8,764.1 616.3,764.1 617.8,764.1 619.3,764.1 620.8,764.1 622.3,764.1 623.8,764.1 625.3,764.1 626.8,764 628.3,764 629.8,763.9 631.3,763.9" fill="none" stroke="#9c9c3c" stroke-width="3.0" stroke-linejoin="round" stroke-linecap="round" />
<polyline points="109.3,814.9 110.8,814.9 112.3,814.8 113.8,814.8 115.3,814.7 116.8,814.7 118.3,814.6 119.8,814.6 121.3,814.5 122.8,814.4 124.3,814.4 125.8,814.3 127.3,814.3 128.8,814.2 130.3,814.2 131.8,814.2 133.3,814.2 134.8,814.2 136.3,814.2 137.8,814.2 139.3,814.2 140.8,814.2 142.3,814.2 143.8,814.3 145.3,814.3 146.8,814.3 148.3,814.3 149.8,814.3 151.3,814.3 152.8,814.3 154.3,814.3 155.8,814.3 157.3,814.3 158.8,814.3 160.3,814.3 161.8,814.2 163.3,814.2 164.8,814.1 166.3,814.1 167.8,814.1 169.3,814 170.8,814 172.3,814 173.8,814 175.3,814 176.8,814 178.3,814 179.8,814 181.3,814.1 182.8,814.1 184.3,814.2 185.8,814.2 187.3,814.3 188.8,814.3 190.3,814.4 191.8,814.5 193.3,814.5 194.8,814.6 196.3,814.6 197.8,814.6 199.3,814.7 200.8,814.7 202.3,814.7 203.8,814.7 205.3,814.7 206.8,814.7 208.3,814.7 209.8,814.7 211.3,814.6 212.8,814.6 214.3,814.6 215.8,814.6 217.3,814.5 218.8,814.5 220.3,814.5 221.8,814.5 223.3,814.5 224.8,814.5 226.3,814.6 227.8,814.6 229.3,814.6 230.8,814.6 232.3,814.7 233.8,814.7 235.3,814.7 236.8,814.8 238.3,814.8 239.8,814.8 241.3,814.8 242.8,814.8 244.3,814.8 245.8,814.8 247.3,814.8 248.8,814.7 250.3,814.7 251.8,814.6 253.3,814.5 254.8,814.4 256.3,814.3 257.8,814.2 259.3,814.1 260.8,813.9 262.3,813.8 263.8,813.6 265.3,813.4 266.8,813.1 268.3,812.9 269.8,812.6 271.3,812.3 272.8,811.9 274.3,811.6 275.8,811.3 277.3,810.9 278.8,810.6 280.3,810.5 281.8,810.4 283.3,810.4 284.8,810.6 286.3,810.8 287.8,811.1 289.3,811.5 290.8,811.8 292.3,812.2 293.8,812.5 295.3,812.7 296.8,813 298.3,813.1 299.8,813.3 301.3,813.4 302.8,813.5 304.3,813.5 305.8,813.6 307.3,813.6 308.8,813.6 310.3,813.6 311.8,813.7 313.3,813.7 314.8,813.7 316.3,813.7 317.8,813.8 319.3,813.8 320.8,813.9 322.3,813.9 323.8,814 325.3,814.1 326.8,814.1 328.3,814.2 329.8,814.3 331.3,814.3 332.8,814.4 334.3,814.4 335.8,814.5 337.3,814.5 338.8,814.5 340.3,814.6 341.8,814.6 343.3,814.6 344.8,814.6 346.3,814.5 347.8,814.5 349.3,814.5 350.8,814.5 352.3,814.5 353.8,814.5 355.3,814.5 356.8,814.5 358.3,814.5 359.8,814.5 361.3,814.5 362.8,814.5 364.3,814.5 365.8,814.6 367.3,814.6 368.8,814.7 370.3,814.7 371.8,814.8 373.3,814.8 374.8,814.9 376.3,814.9 377.8,814.9 379.3,815 380.8,815 382.3,815 383.8,815 385.3,815 386.8,814.9 388.3,814.9 389.8,814.9 391.3,814.8 392.8,814.8 394.3,814.7 395.8,814.7 397.3,814.6 398.8,814.6 400.3,814.5 401.8,814.5 403.3,814.4 404.8,814.4 406.3,814.4 407.8,814.3 409.3,814.3 410.8,814.3 412.3,814.3 413.8,814.3 415.3,814.4 416.8,814.4 418.3,814.4 419.8,814.4 421.3,814.4 422.8,814.4 424.3,814.4 425.8,814.4 427.3,814.4 428.8,814.4 430.3,814.4 431.8,814.4 433.3,814.3 434.8,814.3 436.3,814.2 437.8,814.2 439.3,814.1 440.8,814.1 442.3,814 443.8,814 445.3,813.9 446.8,813.9 448.3,813.9 449.8,813.8 451.3,813.8 452.8,813.8 454.3,813.8 455.8,813.8 457.3,813.9 458.8,813.9 460.3,813.9 461.8,814 463.3,814 464.8,814.1 466.3,814.1 467.8,814.2 469.3,814.2 470.8,814.2 472.3,814.3 473.8,814.3 475.3,814.3 476.8,814.3 478.3,814.3 479.8,814.3 481.3,814.2 482.8,814.2 484.3,814.2 485.8,814.1 487.3,814.1 488.8,814 490.3,813.9 491.8,813.9 493.3,813.8 494.8,813.7 496.3,813.6 497.8,813.4 499.3,813.2 500.8,812.9 502.3,812.4 503.8,811.6 505.3,810.5 506.8,809.1 508.3,807.4 509.8,805.7 511.3,804.6 512.8,804.7 514.3,805.9 515.8,807.6 517.3,809.3 518.8,810.8 520.3,811.8 521.8,812.6 523.3,813 524.8,813.3 526.3,813.4 527.8,813.4 529.3,813.4 530.8,813.3 532.3,813.2 533.8,813 535.3,812.8 536.8,812.4 538.3,812 539.8,811.4 541.3,810.5 542.8,809.3 544.3,807.6 545.8,805.2 547.3,802.3 548.8,798.8 550.3,795.1 551.8,791.7 553.3,789.7 554.8,789.8 556.3,792 557.8,795.4 559.3,799.2 560.8,802.7 562.3,805.6 563.8,807.9 565.3,809.6 566.8,810.8 568.3,811.6 569.8,812.1 571.3,812.5 572.8,812.8 574.3,812.9 575.8,813.1 577.3,813.2 578.8,813.2 580.3,813.3 581.8,813.3 583.3,813.3 584.8,813.4 586.3,813.4 587.8,813.4 589.3,813.4 590.8,813.5 592.3,813.5 593.8,813.6 595.3,813.6 596.8,813.7 598.3,813.7 599.8,813.8 601.3,813.9 602.8,813.9 604.3,814 605.8,814 607.3,814.1 608.8,814.2 610.3,814.2 611.8,814.2 613.3,814.3 614.8,814.3 616.3,814.3 617.8,814.3 619.3,814.3 620.8,814.3 622.3,814.3 623.8,814.3 625.3,814.2 626.8,814.2 628.3,814.2 629.8,814.2 631.3,814.2" fill="none" stroke="#e23ee2" stroke-width="3.0" stroke-linejoin="round" stroke-linecap="round" />
<polyline points="109.3,882.2 110.8,882.2 112.3,882.2 113.8,882.2 115.3,882.1 116.8,882.1 118.3,882.1 119.8,882.1 121.3,882.1 122.8,882.1 124.3,882.1 125.8,882.1 127.3,882.1 128.8,882.2 130.3,882.2 131.8,882.2 133.3,882.3 134.8,882.3 136.3,882.3 137.8,882.3 139.3,882.3 140.8,882.3 142.3,882.3 143.8,882.3 145.3,882.3 146.8,882.3 148.3,882.2 149.8,882.2 151.3,882.1 152.8,882.1 154.3,882 155.8,881.9 157.3,881.9 158.8,881.8 160.3,881.7 161.8,881.7 163.3,881.6 164.8,881.6 166.3,881.5 167.8,881.5 169.3,881.5 170.8,881.5 172.3,881.5 173.8,881.5 175.3,881.5 176.8,881.5 178.3,881.5 179.8,881.5 181.3,881.6 182.8,881.6 184.3,881.6 185.8,881.6 187.3,881.6 188.8,881.6 190.3,881.6 191.8,881.6 193.3,881.5 194.8,881.5 196.3,881.5 197.8,881.4 199.3,881.4 200.8,881.3 202.3,881.3 203.8,881.2 205.3,881.2 206.8,881.2 208.3,881.2 209.8,881.1 211.3,881.1 212.8,881.1 214.3,881.1 215.8,881.2 217.3,881.2 218.8,881.2 220.3,881.3 221.8,881.3 223.3,881.4 224.8,881.4 226.3,881.5 227.8,881.5 229.3,881.6 230.8,881.6 232.3,881.7 233.8,881.7 235.3,881.7 236.8,881.7 238.3,881.7 239.8,881.7 241.3,881.7 242.8,881.7 244.3,881.6 245.8,881.6 247.3,881.6 248.8,881.5 250.3,881.5 251.8,881.4 253.3,881.4 254.8,881.4 256.3,881.3 257.8,881.3 259.3,881.2 260.8,881.2 262.3,881.1 263.8,881 265.3,880.9 266.8,880.8 268.3,880.7 269.8,880.5 271.3,880.4 272.8,880.1 274.3,879.9 275.8,879.7 277.3,879.4 278.8,879.2 280.3,879 281.8,879 283.3,878.9 284.8,879 286.3,879.2 287.8,879.4 289.3,879.6 290.8,879.8 292.3,880 293.8,880.1 295.3,880.3 296.8,880.4 298.3,880.5 299.8,880.6 301.3,880.7 302.8,880.7 304.3,880.8 305.8,880.8 307.3,880.8 308.8,880.9 310.3,880.9 311.8,880.9 313.3,881 314.8,881 316.3,881 317.8,881.1 319.3,881.1 320.8,881.1 322.3,881.1 323.8,881.1 325.3,881.1 326.8,881.1 328.3,881.1 329.8,881.1 331.3,881 332.8,881 334.3,881 335.8,880.9 337.3,880.9 338.8,880.8 340.3,880.8 341.8,880.7 343.3,880.7 344.8,880.7 346.3,880.6 347.8,880.6 349.3,880.6 350.8,880.6 352.3,880.6 353.8,880.7 355.3,880.7 356.8,880.7 358.3,880.8 359.8,880.8 361.3,880.9 362.8,880.9 364.3,881 365.8,881 367.3,881.1 368.8,881.1 370.3,881.1 371.8,881.2 373.3,881.2 374.8,881.2 376.3,881.2 377.8,881.2 379.3,881.2 380.8,881.2 382.3,881.2 383.8,881.1 385.3,881.1 386.8,881.1 388.3,881.1 389.8,881 391.3,881 392.8,881 394.3,881 395.8,881 397.3,881 398.8,881.1 400.3,881.1 401.8,881.1 403.3,881.1 404.8,881.2 406.3,881.2 407.8,881.3 409.3,881.3 410.8,881.3 412.3,881.4 413.8,881.4 415.3,881.4 416.8,881.4 418.3,881.4 419.8,881.4 421.3,881.4 422.8,881.4 424.3,881.3 425.8,881.3 427.3,881.2 428.8,881.2 430.3,881.1 431.8,881 433.3,881 434.8,880.9 436.3,880.8 437.8,880.8 439.3,880.7 440.8,880.7 442.3,880.7 443.8,880.6 445.3,880.6 446.8,880.6 448.3,880.6 449.8,880.6 451.3,880.6 452.8,880.6 454.3,880.6 455.8,880.6 457.3,880.6 458.8,880.6 460.3,880.5 461.8,880.5 463.3,880.5 464.8,880.4 466.3,880.4 467.8,880.3 469.3,880.3 470.8,880.2 472.3,880.1 473.8,880 475.3,879.9 476.8,879.8 478.3,879.7 479.8,879.6 481.3,879.5 482.8,879.4 484.3,879.3 485.8,879.1 487.3,879 488.8,878.9 490.3,878.8 491.8,878.6 493.3,878.4 494.8,878.2 496.3,877.8 497.8,877.4 499.3,876.7 500.8,875.7 502.3,874.3 503.8,872.3 505.3,869.8 506.8,866.6 508.3,863.1 509.8,859.5 511.3,856.8 512.8,855.8 514.3,857 515.8,859.7 517.3,863.2 518.8,866.5 520.3,869.5 521.8,871.8 523.3,873.5 524.8,874.7 526.3,875.4 527.8,875.8 529.3,876 530.8,875.9 532.3,875.8 533.8,875.5 535.3,874.9 536.8,874.2 538.3,873 539.8,871.3 541.3,868.9 542.8,865.5 544.3,860.9 545.8,855.1 547.3,848.1 548.8,840.3 550.3,832.7 551.8,826.6 553.3,823.8 554.8,825.5 556.3,831 557.8,838.5 559.3,846.4 560.8,853.8 562.3,860 563.8,864.9 565.3,868.7 566.8,871.5 568.3,873.4 569.8,874.8 571.3,875.8 572.8,876.5 574.3,877 575.8,877.4 577.3,877.8 578.8,878 580.3,878.3 581.8,878.5 583.3,878.6 584.8,878.8 586.3,879 587.8,879.1 589.3,879.2 590.8,879.3 592.3,879.4 593.8,879.5 595.3,879.6 596.8,879.7 598.3,879.7 599.8,879.8 601.3,879.8 602.8,879.8 604.3,879.8 605.8,879.8 607.3,879.8 608.8,879.8 610.3,879.8 611.8,879.8 613.3,879.7 614.8,879.7 616.3,879.6 617.8,879.6 619.3,879.6 620.8,879.5 622.3,879.5 623.8,879.5 625.3,879.5 626.8,879.5 628.3,879.5 629.8,879.6 631.3,879.6" fill="none" stroke="#2e8f8f" stroke-width="3.0" stroke-linejoin="round" stroke-linecap="round" />
<polyline points="109.3,945.5 110.8,945.5 112.3,945.4 113.8,945.4 115.3,945.3 116.8,945.3 118.3,945.3 119.8,945.3 121.3,945.3 122.8,945.3 124.3,945.3 125.8,945.3 127.3,945.3 128.8,945.3 130.3,945.3 131.8,945.4 133.3,945.4 134.8,945.4 136.3,945.4 137.8,945.4 139.3,945.4 140.8,945.4 142.3,945.4 143.8,945.4 145.3,945.3 146.8,945.3 148.3,945.2 149.8,945.2 151.3,945.1 152.8,945 154.3,944.9 155.8,944.9 157.3,944.8 158.8,944.7 160.3,944.7 161.8,944.6 163.3,944.6 164.8,944.5 166.3,944.5 167.8,944.5 169.3,944.5 170.8,944.5 172.3,944.5 173.8,944.5 175.3,944.5 176.8,944.5 178.3,944.5 179.8,944.5 181.3,944.6 182.8,944.6 184.3,944.6 185.8,944.6 187.3,944.6 188.8,944.6 190.3,944.6 191.8,944.6 193.3,944.5 194.8,944.5 196.3,944.5 197.8,944.4 199.3,944.4 200.8,944.4 202.3,944.3 203.8,944.3 205.3,944.3 206.8,944.2 208.3,944.2 209.8,944.2 211.3,944.2 212.8,944.2 214.3,944.2 215.8,944.3 217.3,944.3 218.8,944.3 220.3,944.4 221.8,944.4 223.3,944.5 224.8,944.6 226.3,944.6 227.8,944.7 229.3,944.7 230.8,944.7 232.3,944.8 233.8,944.8 235.3,944.8 236.8,944.8 238.3,944.8 239.8,944.8 241.3,944.8 242.8,944.7 244.3,944.7 245.8,944.7 247.3,944.6 248.8,944.6 250.3,944.5 251.8,944.5 253.3,944.5 254.8,944.4 256.3,944.4 257.8,944.4 259.3,944.4 260.8,944.3 262.3,944.3 263.8,944.3 265.3,944.3 266.8,944.2 268.3,944.2 269.8,944.1 271.3,944 272.8,943.9 274.3,943.8 275.8,943.7 277.3,943.5 278.8,943.4 280.3,943.3 281.8,943.2 283.3,943.2 284.8,943.2 286.3,943.2 287.8,943.2 289.3,943.3 290.8,943.3 292.3,943.4 293.8,943.4 295.3,943.5 296.8,943.5 298.3,943.5 299.8,943.5 301.3,943.5 302.8,943.6 304.3,943.6 305.8,943.6 307.3,943.6 308.8,943.6 310.3,943.6 311.8,943.7 313.3,943.7 314.8,943.7 316.3,943.7 317.8,943.8 319.3,943.8 320.8,943.8 322.3,943.8 323.8,943.8 325.3,943.8 326.8,943.8 328.3,943.8 329.8,943.8 331.3,943.7 332.8,943.7 334.3,943.7 335.8,943.6 337.3,943.6 338.8,943.5 340.3,943.5 341.8,943.4 343.3,943.4 344.8,943.4 346.3,943.4 347.8,943.4 349.3,943.4 350.8,943.4 352.3,943.4 353.8,943.4 355.3,943.4 356.8,943.5 358.3,943.5 359.8,943.6 361.3,943.6 362.8,943.7 364.3,943.7 365.8,943.8 367.3,943.8 368.8,943.9 370.3,943.9 371.8,943.9 373.3,943.9 374.8,943.9 376.3,943.9 377.8,943.9 379.3,943.9 380.8,943.9 382.3,943.9 383.8,943.8 385.3,943.8 386.8,943.8 388.3,943.7 389.8,943.7 391.3,943.7 392.8,943.7 394.3,943.7 395.8,943.7 397.3,943.7 398.8,943.7 400.3,943.7 401.8,943.7 403.3,943.8 404.8,943.8 406.3,943.8 407.8,943.9 409.3,943.9 410.8,943.9 412.3,943.9 413.8,944 415.3,944 416.8,943.9 418.3,943.9 419.8,943.9 421.3,943.9 422.8,943.8 424.3,943.8 425.8,943.7 427.3,943.6 428.8,943.6 430.3,943.5 431.8,943.4 433.3,943.4 434.8,943.3 436.3,943.2 437.8,943.2 439.3,943.1 440.8,943.1 442.3,943 443.8,943 445.3,943 446.8,943 448.3,943 449.8,943 451.3,943 452.8,943 454.3,943 455.8,943 457.3,943 458.8,943 460.3,943 461.8,942.9 463.3,942.9 464.8,942.9 466.3,942.8 467.8,942.8 469.3,942.7 470.8,942.6 472.3,942.6 473.8,942.5 475.3,942.4 476.8,942.3 478.3,942.2 479.8,942.1 481.3,942 482.8,941.9 484.3,941.9 485.8,941.8 487.3,941.7 488.8,941.6 490.3,941.5 491.8,941.4 493.3,941.2 494.8,941 496.3,940.7 497.8,940.3 499.3,939.7 500.8,938.8 502.3,937.4 503.8,935.5 505.3,933 506.8,929.9 508.3,926.7 509.8,923.9 511.3,922.6 512.8,923.3 514.3,925.7 515.8,928.9 517.3,931.9 518.8,934.5 520.3,936.5 521.8,937.9 523.3,938.9 524.8,939.5 526.3,939.8 527.8,939.9 529.3,940 530.8,940 532.3,939.9 533.8,939.7 535.3,939.4 536.8,939 538.3,938.5 539.8,937.7 541.3,936.5 542.8,934.7 544.3,932.1 545.8,928.5 547.3,923.7 548.8,917.7 550.3,910.8 551.8,903.7 553.3,897.8 554.8,895.2 556.3,896.8 557.8,902 559.3,908.9 560.8,916 562.3,922.3 563.8,927.4 565.3,931.4 566.8,934.2 568.3,936.2 569.8,937.6 571.3,938.5 572.8,939.2 574.3,939.6 575.8,940 577.3,940.3 578.8,940.5 580.3,940.7 581.8,940.9 583.3,941 584.8,941.2 586.3,941.3 587.8,941.4 589.3,941.5 590.8,941.6 592.3,941.7 593.8,941.8 595.3,941.8 596.8,941.9 598.3,941.9 599.8,941.9 601.3,942 602.8,942 604.3,942 605.8,941.9 607.3,941.9 608.8,941.9 610.3,941.9 611.8,941.8 613.3,941.8 614.8,941.7 616.3,941.7 617.8,941.7 619.3,941.6 620.8,941.6 622.3,941.6 623.8,941.6 625.3,941.6 626.8,941.6 628.3,941.6 629.8,941.7 631.3,941.7" fill="none" stroke="#2a2ae0" stroke-width="3.0" stroke-linejoin="round" stroke-linecap="round" />
<polyline points="109.3,1018.2 110.8,1018.3 112.3,1018.3 113.8,1018.4 115.3,1018.4 116.8,1018.4 118.3,1018.4 119.8,1018.5 121.3,1018.5 122.8,1018.5 124.3,1018.5 125.8,1018.4 127.3,1018.4 128.8,1018.4 130.3,1018.4 131.8,1018.3 133.3,1018.3 134.8,1018.3 136.3,1018.3 137.8,1018.2 139.3,1018.2 140.8,1018.2 142.3,1018.2 143.8,1018.2 145.3,1018.2 146.8,1018.3 148.3,1018.3 149.8,1018.3 151.3,1018.4 152.8,1018.4 154.3,1018.5 155.8,1018.5 157.3,1018.5 158.8,1018.6 160.3,1018.6 161.8,1018.6 163.3,1018.6 164.8,1018.6 166.3,1018.6 167.8,1018.6 169.3,1018.6 170.8,1018.5 172.3,1018.5 173.8,1018.4 175.3,1018.4 176.8,1018.3 178.3,1018.3 179.8,1018.2 181.3,1018.1 182.8,1018.1 184.3,1018 185.8,1018 187.3,1017.9 188.8,1017.9 190.3,1017.9 191.8,1017.8 193.3,1017.8 194.8,1017.8 196.3,1017.8 197.8,1017.8 199.3,1017.8 200.8,1017.8 202.3,1017.8 203.8,1017.9 205.3,1017.9 206.8,1017.8 208.3,1017.8 209.8,1017.8 211.3,1017.8 212.8,1017.8 214.3,1017.7 215.8,1017.7 217.3,1017.6 218.8,1017.6 220.3,1017.5 221.8,1017.4 223.3,1017.4 224.8,1017.3 226.3,1017.2 227.8,1017.2 229.3,1017.1 230.8,1017.1 232.3,1017 233.8,1017 235.3,1017 236.8,1017 238.3,1017 239.8,1017 241.3,1017 242.8,1017 244.3,1017.1 245.8,1017.1 247.3,1017.1 248.8,1017.2 250.3,1017.2 251.8,1017.2 253.3,1017.2 254.8,1017.2 256.3,1017.3 257.8,1017.2 259.3,1017.2 260.8,1017.2 262.3,1017.2 263.8,1017.1 265.3,1017.1 266.8,1017 268.3,1016.9 269.8,1016.8 271.3,1016.7 272.8,1016.5 274.3,1016.4 275.8,1016.3 277.3,1016.1 278.8,1016 280.3,1016 281.8,1015.9 283.3,1016 284.8,1016 286.3,1016.1 287.8,1016.2 289.3,1016.4 290.8,1016.5 292.3,1016.7 293.8,1016.8 295.3,1016.9 296.8,1017 298.3,1017.1 299.8,1017.2 301.3,1017.3 302.8,1017.3 304.3,1017.4 305.8,1017.4 307.3,1017.4 308.8,1017.4 310.3,1017.3 311.8,1017.3 313.3,1017.3 314.8,1017.2 316.3,1017.2 317.8,1017.1 319.3,1017.1 320.8,1017 322.3,1017 323.8,1017 325.3,1016.9 326.8,1016.9 328.3,1016.9 329.8,1016.9 331.3,1016.9 332.8,1016.9 334.3,1016.9 335.8,1016.9 337.3,1016.9 338.8,1016.9 340.3,1016.9 341.8,1016.9 343.3,1016.9 344.8,1016.9 346.3,1016.9 347.8,1016.9 349.3,1016.8 350.8,1016.8 352.3,1016.8 353.8,1016.7 355.3,1016.6 356.8,1016.6 358.3,1016.5 359.8,1016.4 361.3,1016.4 362.8,1016.3 364.3,1016.2 365.8,1016.2 367.3,1016.1 368.8,1016.1 370.3,1016 371.8,1016 373.3,1016 374.8,1016 376.3,1016 377.8,1016 379.3,1016 380.8,1016 382.3,1016 383.8,1016.1 385.3,1016.1 386.8,1016.1 388.3,1016.1 389.8,1016.2 391.3,1016.2 392.8,1016.2 394.3,1016.2 395.8,1016.2 397.3,1016.2 398.8,1016.2 400.3,1016.2 401.8,1016.1 403.3,1016.1 404.8,1016.1 406.3,1016 407.8,1016 409.3,1016 410.8,1015.9 412.3,1015.9 413.8,1015.9 415.3,1015.9 416.8,1015.9 418.3,1015.9 419.8,1015.9 421.3,1015.9 422.8,1016 424.3,1016 425.8,1016 427.3,1016.1 428.8,1016.1 430.3,1016.2 431.8,1016.2 433.3,1016.2 434.8,1016.3 436.3,1016.3 437.8,1016.3 439.3,1016.3 440.8,1016.3 442.3,1016.3 443.8,1016.3 445.3,1016.3 446.8,1016.3 448.3,1016.2 449.8,1016.2 451.3,1016.1 452.8,1016 454.3,1016 455.8,1015.9 457.3,1015.9 458.8,1015.8 460.3,1015.7 461.8,1015.7 463.3,1015.7 464.8,1015.6 466.3,1015.6 467.8,1015.5 469.3,1015.5 470.8,1015.5 472.3,1015.5 473.8,1015.4 475.3,1015.4 476.8,1015.4 478.3,1015.4 479.8,1015.3 481.3,1015.2 482.8,1015.2 484.3,1015.1 485.8,1015 487.3,1014.8 488.8,1014.7 490.3,1014.5 491.8,1014.2 493.3,1013.9 494.8,1013.6 496.3,1013.1 497.8,1012.5 499.3,1011.6 500.8,1010.3 502.3,1008.4 503.8,1005.9 505.3,1002.7 506.8,998.8 508.3,994.6 509.8,991.1 511.3,989.4 512.8,990.3 514.3,993.3 515.8,997.3 517.3,1001.1 518.8,1004.4 520.3,1007 521.8,1008.8 523.3,1010 524.8,1010.8 526.3,1011.3 527.8,1011.6 529.3,1011.7 530.8,1011.6 532.3,1011.5 533.8,1011.3 535.3,1011 536.8,1010.5 538.3,1009.8 539.8,1008.7 541.3,1007.2 542.8,1005 544.3,1001.9 545.8,997.5 547.3,991.7 548.8,984.6 550.3,976.3 551.8,967.8 553.3,960.9 554.8,957.7 556.3,959.6 557.8,965.8 559.3,974.1 560.8,982.6 562.3,990.2 563.8,996.4 565.3,1001.2 566.8,1004.7 568.3,1007.2 569.8,1009 571.3,1010.2 572.8,1011.1 574.3,1011.8 575.8,1012.3 577.3,1012.7 578.8,1013 580.3,1013.3 581.8,1013.5 583.3,1013.7 584.8,1013.8 586.3,1013.9 587.8,1014 589.3,1014.1 590.8,1014.1 592.3,1014.2 593.8,1014.2 595.3,1014.2 596.8,1014.3 598.3,1014.3 599.8,1014.3 601.3,1014.3 602.8,1014.4 604.3,1014.4 605.8,1014.4 607.3,1014.5 608.8,1014.5 610.3,1014.6 611.8,1014.6 613.3,1014.7 614.8,1014.7 616.3,1014.7 617.8,1014.8 619.3,1014.8 620.8,1014.8 622.3,1014.8 623.8,1014.8 625.3,1014.8 626.8,1014.7 628.3,1014.7 629.8,1014.7 631.3,1014.6" fill="none" stroke="#e03838" stroke-width="3.0" stroke-linejoin="round" stroke-linecap="round" />
<polyline points="109.3,1079.7 110.8,1079.7 112.3,1079.7 113.8,1079.7 115.3,1079.7 116.8,1079.7 118.3,1079.8 119.8,1079.8 121.3,1079.8 122.8,1079.8 124.3,1079.8 125.8,1079.7 127.3,1079.7 128.8,1079.7 130.3,1079.6 131.8,1079.6 133.3,1079.6 134.8,1079.5 136.3,1079.5 137.8,1079.4 139.3,1079.4 140.8,1079.4 142.3,1079.4 143.8,1079.4 145.3,1079.4 146.8,1079.4 148.3,1079.4 149.8,1079.4 151.3,1079.5 152.8,1079.5 154.3,1079.5 155.8,1079.6 157.3,1079.7 158.8,1079.7 160.3,1079.8 161.8,1079.8 163.3,1079.9 164.8,1079.9 166.3,1079.9 167.8,1080 169.3,1080 170.8,1080 172.3,1080 173.8,1080 175.3,1079.9 176.8,1079.9 178.3,1079.9 179.8,1079.9 181.3,1079.8 182.8,1079.8 184.3,1079.7 185.8,1079.7 187.3,1079.7 188.8,1079.7 190.3,1079.7 191.8,1079.6 193.3,1079.6 194.8,1079.7 196.3,1079.7 197.8,1079.7 199.3,1079.7 200.8,1079.7 202.3,1079.8 203.8,1079.8 205.3,1079.8 206.8,1079.8 208.3,1079.8 209.8,1079.8 211.3,1079.8 212.8,1079.8 214.3,1079.8 215.8,1079.8 217.3,1079.8 218.8,1079.7 220.3,1079.7 221.8,1079.6 223.3,1079.5 224.8,1079.5 226.3,1079.4 227.8,1079.3 229.3,1079.2 230.8,1079.2 232.3,1079.1 233.8,1079.1 235.3,1079 236.8,1079 238.3,1078.9 239.8,1078.9 241.3,1078.9 242.8,1078.9 244.3,1078.9 245.8,1078.9 247.3,1078.9 248.8,1078.9 250.3,1078.9 251.8,1078.9 253.3,1078.9 254.8,1078.9 256.3,1078.9 257.8,1078.9 259.3,1078.9 260.8,1078.8 262.3,1078.8 263.8,1078.7 265.3,1078.7 266.8,1078.6 268.3,1078.5 269.8,1078.3 271.3,1078.2 272.8,1078 274.3,1077.9 275.8,1077.7 277.3,1077.6 278.8,1077.4 280.3,1077.3 281.8,1077.3 283.3,1077.3 284.8,1077.3 286.3,1077.4 287.8,1077.5 289.3,1077.7 290.8,1077.8 292.3,1077.9 293.8,1078.1 295.3,1078.2 296.8,1078.4 298.3,1078.5 299.8,1078.6 301.3,1078.7 302.8,1078.8 304.3,1078.8 305.8,1078.9 307.3,1078.9 308.8,1078.9 310.3,1078.9 311.8,1078.9 313.3,1078.9 314.8,1078.9 316.3,1078.9 317.8,1078.9 319.3,1078.9 320.8,1078.8 322.3,1078.8 323.8,1078.8 325.3,1078.8 326.8,1078.8 328.3,1078.8 329.8,1078.8 331.3,1078.8 332.8,1078.8 334.3,1078.8 335.8,1078.8 337.3,1078.9 338.8,1078.9 340.3,1078.9 341.8,1079 343.3,1079 344.8,1079 346.3,1079.1 347.8,1079.1 349.3,1079.1 350.8,1079.1 352.3,1079.1 353.8,1079 355.3,1079 356.8,1079 358.3,1078.9 359.8,1078.9 361.3,1078.8 362.8,1078.7 364.3,1078.7 365.8,1078.6 367.3,1078.5 368.8,1078.5 370.3,1078.4 371.8,1078.3 373.3,1078.3 374.8,1078.3 376.3,1078.2 377.8,1078.2 379.3,1078.2 380.8,1078.2 382.3,1078.2 383.8,1078.2 385.3,1078.2 386.8,1078.2 388.3,1078.2 389.8,1078.2 391.3,1078.2 392.8,1078.2 394.3,1078.2 395.8,1078.2 397.3,1078.2 398.8,1078.2 400.3,1078.1 401.8,1078.1 403.3,1078.1 404.8,1078 406.3,1078 407.8,1077.9 409.3,1077.9 410.8,1077.8 412.3,1077.7 413.8,1077.7 415.3,1077.7 416.8,1077.6 418.3,1077.6 419.8,1077.6 421.3,1077.6 422.8,1077.6 424.3,1077.6 425.8,1077.6 427.3,1077.6 428.8,1077.7 430.3,1077.7 431.8,1077.7 433.3,1077.8 434.8,1077.8 436.3,1077.9 437.8,1077.9 439.3,1077.9 440.8,1078 442.3,1078 443.8,1078 445.3,1078 446.8,1078 448.3,1078 449.8,1078 451.3,1078 452.8,1077.9 454.3,1077.9 455.8,1077.9 457.3,1077.8 458.8,1077.8 460.3,1077.7 461.8,1077.7 463.3,1077.7 464.8,1077.7 466.3,1077.6 467.8,1077.6 469.3,1077.6 470.8,1077.6 472.3,1077.6 473.8,1077.6 475.3,1077.7 476.8,1077.7 478.3,1077.7 479.8,1077.7 481.3,1077.6 482.8,1077.6 484.3,1077.6 485.8,1077.5 487.3,1077.5 488.8,1077.4 490.3,1077.2 491.8,1077.1 493.3,1076.9 494.8,1076.6 496.3,1076.2 497.8,1075.8 499.3,1075.1 500.8,1074 502.3,1072.5 503.8,1070.2 505.3,1067.2 506.8,1063.3 508.3,1059 509.8,1055.1 511.3,1053.2 512.8,1054.2 514.3,1057.6 515.8,1061.8 517.3,1065.7 518.8,1068.8 520.3,1071.2 521.8,1072.7 523.3,1073.7 524.8,1074.4 526.3,1074.7 527.8,1075 529.3,1075.1 530.8,1075.1 532.3,1075.1 533.8,1074.9 535.3,1074.8 536.8,1074.5 538.3,1074.2 539.8,1073.7 541.3,1073 542.8,1071.9 544.3,1070.3 545.8,1067.9 547.3,1064.3 548.8,1059 550.3,1051.9 551.8,1043.1 553.3,1034 554.8,1026.8 556.3,1024.8 557.8,1029.2 559.3,1037.5 560.8,1046.7 562.3,1054.8 563.8,1061.2 565.3,1065.8 566.8,1068.9 568.3,1071 569.8,1072.4 571.3,1073.3 572.8,1074 574.3,1074.5 575.8,1074.9 577.3,1075.2 578.8,1075.5 580.3,1075.7 581.8,1075.9 583.3,1076 584.8,1076.1 586.3,1076.2 587.8,1076.3 589.3,1076.4 590.8,1076.4 592.3,1076.5 593.8,1076.5 595.3,1076.5 596.8,1076.5 598.3,1076.5 599.8,1076.6 601.3,1076.6 602.8,1076.6 604.3,1076.7 605.8,1076.7 607.3,1076.7 608.8,1076.8 610.3,1076.8 611.8,1076.9 613.3,1077 614.8,1077 616.3,1077.1 617.8,1077.1 619.3,1077.2 620.8,1077.2 622.3,1077.3 623.8,1077.3 625.3,1077.3 626.8,1077.3 628.3,1077.4 629.8,1077.3 631.3,1077.3" fill="none" stroke="#1e1e1e" stroke-width="3.0" stroke-linejoin="round" stroke-linecap="round" />
<line x1="282.3" y1="674.6" x2="282.3" y2="1094.3" stroke="#151515" stroke-width="2.8" stroke-dasharray="20.5 10.6" stroke-dashoffset="-1.4"/>
<line x1="512" y1="674.6" x2="512" y2="1094.3" stroke="#151515" stroke-width="2.8" stroke-dasharray="20.5 10.6" stroke-dashoffset="-1.4"/>
<line x1="556.3" y1="674.6" x2="556.3" y2="1094.3" stroke="#151515" stroke-width="2.8" stroke-dasharray="20.5 10.6" stroke-dashoffset="-1.4"/>
<rect x="107.8" y="674.6" width="525.1" height="419.7" fill="none" stroke="#151515" stroke-width="2.6"/>
<line x1="107.8" y1="1094.3" x2="107.8" y2="1101.3" stroke="#151515" stroke-width="2.6" />
<line x1="151.6" y1="1094.3" x2="151.6" y2="1098.8" stroke="#151515" stroke-width="2.6" />
<line x1="195.3" y1="1094.3" x2="195.3" y2="1101.3" stroke="#151515" stroke-width="2.6" />
<line x1="239.1" y1="1094.3" x2="239.1" y2="1098.8" stroke="#151515" stroke-width="2.6" />
<line x1="282.8" y1="1094.3" x2="282.8" y2="1101.3" stroke="#151515" stroke-width="2.6" />
<line x1="326.6" y1="1094.3" x2="326.6" y2="1098.8" stroke="#151515" stroke-width="2.6" />
<line x1="370.3" y1="1094.3" x2="370.3" y2="1101.3" stroke="#151515" stroke-width="2.6" />
<line x1="414.1" y1="1094.3" x2="414.1" y2="1098.8" stroke="#151515" stroke-width="2.6" />
<line x1="457.9" y1="1094.3" x2="457.9" y2="1101.3" stroke="#151515" stroke-width="2.6" />
<line x1="501.6" y1="1094.3" x2="501.6" y2="1098.8" stroke="#151515" stroke-width="2.6" />
<line x1="545.4" y1="1094.3" x2="545.4" y2="1101.3" stroke="#151515" stroke-width="2.6" />
<line x1="589.1" y1="1094.3" x2="589.1" y2="1098.8" stroke="#151515" stroke-width="2.6" />
<line x1="632.9" y1="1094.3" x2="632.9" y2="1101.3" stroke="#151515" stroke-width="2.6" />
<text x="107.8" y="1125.5" font-family='"Liberation Serif", "Times New Roman", serif' font-size="25" fill="#151515" text-anchor="middle" font-weight="bold" font-style="normal" >150</text>
<text x="195.3" y="1125.5" font-family='"Liberation Serif", "Times New Roman", serif' font-size="25" fill="#151515" text-anchor="middle" font-weight="bold" font-style="normal" >200</text>
<text x="282.8" y="1125.5" font-family='"Liberation Serif", "Times New Roman", serif' font-size="25" fill="#151515" text-anchor="middle" font-weight="bold" font-style="normal" >250</text>
<text x="370.3" y="1125.5" font-family='"Liberation Serif", "Times New Roman", serif' font-size="25" fill="#151515" text-anchor="middle" font-weight="bold" font-style="normal" >300</text>
<text x="457.9" y="1125.5" font-family='"Liberation Serif", "Times New Roman", serif' font-size="25" fill="#151515" text-anchor="middle" font-weight="bold" font-style="normal" >350</text>
<text x="545.4" y="1125.5" font-family='"Liberation Serif", "Times New Roman", serif' font-size="25" fill="#151515" text-anchor="middle" font-weight="bold" font-style="normal" >400</text>
<text x="632.9" y="1125.5" font-family='"Liberation Serif", "Times New Roman", serif' font-size="25" fill="#151515" text-anchor="middle" font-weight="bold" font-style="normal" >450</text>
<text x="249.5" y="1171" font-family='"Liberation Serif", "Times New Roman", serif' font-size="30.2" font-weight="bold" fill="#151515">Raman Shift (cm<tspan font-size="17" dy="-14">-1</tspan><tspan dy="14">)</tspan></text>
<text x="78.7" y="895.7" font-family='"Liberation Serif", "Times New Roman", serif' font-size="30.2" fill="#151515" text-anchor="middle" font-weight="bold" font-style="normal" transform="rotate(-90 78.7 895.7)">Intensity (a.u.)</text>
<text x="118.5" y="705" font-family='"Liberation Serif", "Times New Roman", serif' font-size="24.5" font-weight="bold" fill="#151515">WSe<tspan font-size="14" dy="2">2</tspan></text>
<text x="114.5" y="753.6" font-family='"Liberation Serif", "Times New Roman", serif' font-size="25" fill="#151515" text-anchor="start" font-weight="bold" font-style="normal" >M1W5</text>
<text x="114.5" y="797.8" font-family='"Liberation Serif", "Times New Roman", serif' font-size="25" fill="#151515" text-anchor="start" font-weight="bold" font-style="normal" >M2W4</text>
<text x="114.5" y="867.2" font-family='"Liberation Serif", "Times New Roman", serif' font-size="25" fill="#151515" text-anchor="start" font-weight="bold" font-style="normal" >M3W3</text>
<text x="114.5" y="930.4" font-family='"Liberation Serif", "Times New Roman", serif' font-size="25" fill="#151515" text-anchor="start" font-weight="bold" font-style="normal" >M4W2</text>
<text x="114.5" y="1004.2" font-family='"Liberation Serif", "Times New Roman", serif' font-size="25" fill="#151515" text-anchor="start" font-weight="bold" font-style="normal" >M5W1</text>
<text x="117.5" y="1064.8" font-family='"Liberation Serif", "Times New Roman", serif' font-size="24.5" font-weight="bold" fill="#151515">MoS<tspan font-size="14" dy="2">2</tspan></text>
<text x="196.5" y="698.5" font-family='"Liberation Serif", "Times New Roman", serif' font-size="24" fill="#151515" text-anchor="start" font-weight="bold" font-style="italic" >E</text>
<text x="213.2" y="704.4" font-family='"Liberation Serif", "Times New Roman", serif' font-size="12.5" fill="#151515" text-anchor="start" font-weight="bold" font-style="normal" >2g</text>
<text x="229.5" y="687.3" font-family='"Liberation Serif", "Times New Roman", serif' font-size="13" fill="#151515" text-anchor="start" font-weight="bold" font-style="normal" >1</text>
<text x="242.8" y="698.5" font-family='"Liberation Serif", "Times New Roman", serif' font-size="24" fill="#151515" text-anchor="start" font-weight="bold" font-style="normal" >&amp;</text>
<text x="266.5" y="698.5" font-family='"Liberation Serif", "Times New Roman", serif' font-size="24" fill="#151515" text-anchor="start" font-weight="bold" font-style="italic" >A</text>
<text x="286.3" y="704.4" font-family='"Liberation Serif", "Times New Roman", serif' font-size="12.5" fill="#151515" text-anchor="start" font-weight="bold" font-style="normal" >1g</text>
<text x="303.5" y="687.3" font-family='"Liberation Serif", "Times New Roman", serif' font-size="13" fill="#151515" text-anchor="start" font-weight="bold" font-style="normal" >1</text>
<text x="312.3" y="698.5" font-family='"Liberation Serif", "Times New Roman", serif' font-size="24" fill="#151515" text-anchor="start" font-weight="bold" font-style="normal" >(W)</text>
<text x="425.8" y="747" font-family='"Liberation Serif", "Times New Roman", serif' font-size="24" fill="#151515" text-anchor="start" font-weight="bold" font-style="italic" >E</text>
<text x="441.5" y="752.5" font-family='"Liberation Serif", "Times New Roman", serif' font-size="12.5" fill="#151515" text-anchor="start" font-weight="bold" font-style="normal" >2g</text>
<text x="460" y="736.8" font-family='"Liberation Serif", "Times New Roman", serif' font-size="13" fill="#151515" text-anchor="start" font-weight="bold" font-style="normal" >1</text>
<text x="472" y="747" font-family='"Liberation Serif", "Times New Roman", serif' font-size="22.5" fill="#151515" text-anchor="start" font-weight="bold" font-style="normal" >(M)</text>
<text x="540" y="740" font-family='"Liberation Serif", "Times New Roman", serif' font-size="24" fill="#151515" text-anchor="start" font-weight="bold" font-style="italic" >A</text>
<text x="558.8" y="744" font-family='"Liberation Serif", "Times New Roman", serif' font-size="12.5" fill="#151515" text-anchor="start" font-weight="bold" font-style="normal" >1g</text>
<text x="580.3" y="740" font-family='"Liberation Serif", "Times New Roman", serif' font-size="22.5" fill="#151515" text-anchor="start" font-weight="bold" font-style="normal" >(M)</text>
<defs>
<linearGradient id="objg" x1="0" y1="0" x2="0" y2="1"><stop offset="0" stop-color="#bcd4ee"/><stop offset="1" stop-color="#f2f7fc"/></linearGradient>
<filter id="shd" x="-30%" y="-30%" width="160%" height="180%"><feGaussianBlur in="SourceAlpha" stdDeviation="2.2"/><feOffset dx="2" dy="3" result="b"/><feComponentTransfer><feFuncA type="linear" slope="0.45"/></feComponentTransfer><feMerge><feMergeNode/><feMergeNode in="SourceGraphic"/></feMerge></filter>
</defs>
<rect x="762" y="677.5" width="964" height="428" fill="#fff" stroke="#6d6d6d" stroke-width="3"/>
<rect x="1359.2" y="690.8" width="310.4" height="124.4" fill="none" stroke="#c9a935" stroke-width="3" stroke-dasharray="22 12"/>
<rect x="773" y="879.4" width="531" height="213.1" fill="none" stroke="#3aa86a" stroke-width="3" stroke-dasharray="22 12"/>
<g filter="url(#shd)"><rect x="903" y="690.9" width="215.4" height="149.4" fill="#fff" stroke="#141414" stroke-width="3.6"/><polygon points="903,840.3 1118.4,840.3 1099,865.9 921.2,865.9" fill="url(#objg)" stroke="#141414" stroke-width="3.6" stroke-linejoin="round"/></g>
<line x1="903" y1="765.2" x2="1118.4" y2="765.2" stroke="#141414" stroke-width="3.4" />
<line x1="903" y1="772.5" x2="1118.4" y2="772.5" stroke="#141414" stroke-width="3.4" />
<polygon points="1651,884 1595,876 1595,904 1651,896" fill="#ef3b3b" fill-opacity="0.62"/>
<polygon points="1595,877.5 1481,879 1481,902 1595,904" fill="#ef3b3b" fill-opacity="0.62"/>
<polygon points="1472,890 1490.5,890 1490.5,970 1472,970" fill="#ef3b3b" fill-opacity="0.62"/>
<polygon points="1485,959.5 1402,959.5 1300,965.5 826,968 826,980 1300,982 1402,982.8 1485,982.8" fill="#ef3b3b" fill-opacity="0.62"/>
<polygon points="830.1,976.7 884.1,917.2 875.9,909.8 821.9,969.3" fill="#ef3b3b" fill-opacity="0.62"/>
<polygon points="876.2,917.4 992.4,1024.6 993.6,1023.4 883.8,909.6" fill="#ef3b3b" fill-opacity="0.62"/>
<polygon points="1027.6,1024.6 1140.9,917.4 1133.1,909.6 1026.4,1023.4" fill="#ef3b3b" fill-opacity="0.62"/>
<polygon points="1132.9,917.9 1236.9,1014.4 1245.1,1005.6 1141.1,909.1" fill="#ef3b3b" fill-opacity="0.62"/>
<polygon points="1246.6,1014.1 1425.7,779.1 1406.3,764.9 1235.4,1005.9" fill="#ef3b3b" fill-opacity="0.62"/>
<polygon points="1433.5,755.5 1526,754.5 1526,781 1390,780.5" fill="#ef3b3b" fill-opacity="0.62"/>
<polygon points="1526,755 1598,764 1598,771.5 1526,780.5" fill="#ef3b3b" fill-opacity="0.62"/>
<polygon points="920,866 1097,866 1025,1025 1010,1047 991,1025" fill="#f7cf5c" fill-opacity="0.86"/>
<polygon points="1305,974 1345,952 1345,996" fill="#f0431f" fill-opacity="0.55"/>
<polygon points="1352,858 1348.4,900 1312.9,874" fill="#f0431f" fill-opacity="0.55"/>
<polygon points="928,953 911.7,946.8 921.5,936.8" fill="#f0431f" fill-opacity="0.55"/>
<polygon points="1107,944 1100.7,960.3 1090.8,950.4" fill="#f0431f" fill-opacity="0.55"/>
<g filter="url(#shd)"><rect x="834.8" y="903.2" width="90.5" height="10.5" fill="#2a7fe6" stroke="#0d2d90" stroke-width="2.2" transform="rotate(0 880 908.5)"/></g>
<g filter="url(#shd)"><rect x="1092.6" y="902.1" width="90.4" height="11.5" fill="#2a7fe6" stroke="#0d2d90" stroke-width="2.2" transform="rotate(0 1137.8 907.9)"/></g>
<g filter="url(#shd)"><rect x="1203" y="1009.5" width="80" height="11.5" fill="#2a7fe6" stroke="#0d2d90" stroke-width="2.2" transform="rotate(0 1243 1015.2)"/></g>
<g filter="url(#shd)"><rect x="776.8" y="965.5" width="77" height="11" fill="#2a7fe6" stroke="#0d2d90" stroke-width="2.2" transform="rotate(66.6 815.3 971)"/></g>
<g filter="url(#shd)"><rect x="1370.3" y="757.7" width="101" height="11" fill="#2a7fe6" stroke="#0d2d90" stroke-width="2.2" transform="rotate(-29.8 1420.8 763.2)"/></g>
<g filter="url(#shd)"><rect x="1440.3" y="880.3" width="72.5" height="11" fill="#2a7fe6" stroke="#0d2d90" stroke-width="2.2" transform="rotate(-43.6 1476.6 885.8)"/></g>
<polygon points="1456.7,1021 1526,1021 1526,951.8" fill="#fff" stroke="#111" stroke-width="3.2" stroke-linejoin="miter"/>
<line x1="1515.6" y1="962.5" x2="1515.6" y2="1021" stroke="#111" stroke-width="2" />
<rect x="1528" y="957.6" width="10" height="14" fill="#f2f2f2" stroke="#8a8a8a" stroke-width="1.5"/>
<rect x="1537" y="955.6" width="12" height="18" rx="5" fill="#f2f2f2" stroke="#8a8a8a" stroke-width="1.5"/>
<rect x="1528" y="1000" width="10" height="14" fill="#f2f2f2" stroke="#8a8a8a" stroke-width="1.5"/>
<rect x="1537" y="998" width="12" height="18" rx="5" fill="#f2f2f2" stroke="#8a8a8a" stroke-width="1.5"/>
<g filter="url(#shd)"><rect x="1449.5" y="969.9" width="72" height="15" fill="#2a7fe6" stroke="#0d2d90" stroke-width="2.2" transform="rotate(-45.7 1485.5 977.4)"/></g>
<g filter="url(#shd)"><ellipse cx="1526.4" cy="767.7" rx="12.2" ry="39.7" fill="#7df0f0" stroke="#127474" stroke-width="2.8"/></g>
<g filter="url(#shd)"><ellipse cx="1595.1" cy="887.7" rx="11.5" ry="43.6" fill="#7df0f0" stroke="#127474" stroke-width="2.8"/></g>
<g filter="url(#shd)"><ellipse cx="1402.3" cy="973.6" rx="12.2" ry="43.6" fill="#7df0f0" stroke="#127474" stroke-width="2.8"/></g>
<line x1="1548" y1="851.8" x2="1548" y2="877.4" stroke="#111" stroke-width="3.2" />
<line x1="1548" y1="904.4" x2="1548" y2="927.4" stroke="#111" stroke-width="3.2" />
<g fill="#c20c0c"><rect x="1651.5" y="867.2" width="13" height="46"/><rect x="1644" y="881" width="8" height="18"/><rect x="1664" y="875.2" width="17" height="4.6"/><rect x="1664" y="888.8" width="17" height="4.6"/><rect x="1664" y="902.2" width="17" height="4.6"/></g>
<line x1="1580" y1="941.5" x2="1609" y2="941.5" stroke="#1a8a8a" stroke-width="3" />
<polygon points="1574,941.5 1584,935 1584,948" fill="#1a8a8a"/><polygon points="1615,941.5 1605,935 1605,948" fill="#1a8a8a"/>
<rect x="1597.7" y="748.5" width="8" height="39.7" fill="#5fb045"/>
<rect x="1606" y="728" width="17.3" height="78.2" fill="#e2f0d8" stroke="#253a25" stroke-width="2.4"/>
<rect x="1623.3" y="738.6" width="9" height="12" fill="#eef4ea" stroke="#8a9a8a" stroke-width="1.4"/>
<rect x="1631" y="734.6" width="20" height="20" rx="7" fill="#eef4ea" stroke="#8a9a8a" stroke-width="1.4"/>
<rect x="1623.3" y="784.8" width="9" height="12" fill="#eef4ea" stroke="#8a9a8a" stroke-width="1.4"/>
<rect x="1631" y="780.8" width="20" height="20" rx="7" fill="#eef4ea" stroke="#8a9a8a" stroke-width="1.4"/>
<polygon points="975.6,1025.2 1045.9,1025.2 1038.4,1038.2 1017.6,1038.2 1010.1,1046.9 1001.5,1038.2 983,1038.2" fill="none" stroke="#111" stroke-width="3.2" stroke-linejoin="miter"/>
<rect x="1080" y="987.8" width="69" height="89.6" fill="none" stroke="#6e6680" stroke-width="2.6" stroke-dasharray="11 9"/>
<rect x="1085" y="993.8" width="58.3" height="27.1" fill="#a6a6a6"/>
<polygon points="1102.4,1021 1122.5,1021 1122.5,1060 1112.5,1071 1102.4,1060" fill="#c6c9cb"/>
<ellipse cx="1112.2" cy="1046.3" rx="8.6" ry="4.8" fill="#ff1212"/>
<polyline points="1016.5,1045.7 1080,1032.4 1080,1018" fill="none" stroke="#7a5a9a" stroke-width="2"/>
<line x1="1127.1" y1="1034.8" x2="1163" y2="1047.5" stroke="#2a2a2a" stroke-width="2.4" />
<line x1="1120.2" y1="1051.5" x2="1166" y2="1069.5" stroke="#2a2a2a" stroke-width="2.4" />
<line x1="1305.4" y1="1068.5" x2="1343.8" y2="1078.7" stroke="#3aa86a" stroke-width="3" />
<line x1="923.8" y1="919" x2="923.8" y2="946.3" stroke="#7a7a7a" stroke-width="1.8" />
<line x1="1092.2" y1="919" x2="1092.2" y2="946.3" stroke="#7a7a7a" stroke-width="1.8" />
<line x1="923.8" y1="934.7" x2="988.4" y2="934.7" stroke="#7a7a7a" stroke-width="1.8" />
<line x1="1027" y1="934.7" x2="1092.2" y2="934.7" stroke="#7a7a7a" stroke-width="1.8" />
<polyline points="980,928 988.4,934.7 980,941.4" fill="none" stroke="#7a7a7a" stroke-width="1.8"/>
<polyline points="1035.4,928 1027,934.7 1035.4,941.4" fill="none" stroke="#7a7a7a" stroke-width="1.8"/>
<text x="997.5" y="943.2" font-family='"Liberation Serif", "Times New Roman", serif' font-size="22" fill="#333" text-anchor="start" font-weight="normal" font-style="normal" >W</text>
<text x="1133" y="807" font-family='"Liberation Serif", "Times New Roman", serif' font-size="23" fill="#333" text-anchor="start" font-weight="normal" font-style="normal" stroke="#333" stroke-width="0.55">Objective lens</text>
<text x="794.7" y="913.7" font-family='"Liberation Serif", "Times New Roman", serif' font-size="23" fill="#222" text-anchor="start" font-weight="normal" font-style="normal" stroke="#222" stroke-width="0.55">M4</text>
<text x="1197.8" y="914.3" font-family='"Liberation Serif", "Times New Roman", serif' font-size="23" fill="#222" text-anchor="start" font-weight="normal" font-style="normal" stroke="#222" stroke-width="0.55">M5</text>
<text x="813.7" y="1035.8" font-family='"Liberation Serif", "Times New Roman", serif' font-size="23" fill="#222" text-anchor="start" font-weight="normal" font-style="normal" stroke="#222" stroke-width="0.55">M3</text>
<text x="912.6" y="1035.8" font-family='"Liberation Serif", "Times New Roman", serif' font-size="23" fill="#222" text-anchor="start" font-weight="normal" font-style="normal" stroke="#222" stroke-width="0.55">Probe</text>
<text x="1164.2" y="1021" font-family='"Liberation Serif", "Times New Roman", serif' font-size="23" fill="#222" text-anchor="start" font-weight="normal" font-style="normal" stroke="#222" stroke-width="0.55">M6</text>
<text x="1164.2" y="1050.5" font-family='"Liberation Serif", "Times New Roman", serif' font-size="23" fill="#222" text-anchor="start" font-weight="normal" font-style="normal" stroke="#222" stroke-width="0.55">Cantilever</text>
<text x="1166.3" y="1076.8" font-family='"Liberation Serif", "Times New Roman", serif' font-size="23" fill="#222" text-anchor="start" font-weight="normal" font-style="normal" stroke="#222" stroke-width="0.55">Laser spot</text>
<text x="986.5" y="1075.7" font-family='"Liberation Serif", "Times New Roman", serif' font-size="23" fill="#6a5a82" text-anchor="start" font-weight="normal" font-style="normal" stroke="#6a5a82" stroke-width="0.55">Top view</text>
<text x="1358" y="1087.7" font-family='"Liberation Serif", "Times New Roman", serif' font-size="23" fill="#3aa86a" text-anchor="start" font-weight="normal" font-style="normal" stroke="#3aa86a" stroke-width="0.55">Probe holder</text>
<text x="1425.9" y="719.5" font-family='"Liberation Serif", "Times New Roman", serif' font-size="23" fill="#222" text-anchor="start" font-weight="normal" font-style="normal" stroke="#222" stroke-width="0.55">M7</text>
<text x="1513" y="719.5" font-family='"Liberation Serif", "Times New Roman", serif' font-size="23" fill="#222" text-anchor="start" font-weight="normal" font-style="normal" stroke="#222" stroke-width="0.55">L3</text>
<text x="1593.9" y="719.5" font-family='"Liberation Serif", "Times New Roman", serif' font-size="23" fill="#222" text-anchor="start" font-weight="normal" font-style="normal" stroke="#222" stroke-width="0.55">QPD</text>
<text x="1513" y="842.6" font-family='"Liberation Serif", "Times New Roman", serif' font-size="23" fill="#222" text-anchor="start" font-weight="normal" font-style="normal" stroke="#222" stroke-width="0.55">Pinhole</text>
<text x="1606.7" y="857.4" font-family='"Liberation Serif", "Times New Roman", serif' font-size="23" fill="#222" text-anchor="start" font-weight="normal" font-style="normal" stroke="#222" stroke-width="0.55">Laser diode</text>
<text x="1410.5" y="915.9" font-family='"Liberation Serif", "Times New Roman", serif' font-size="23" fill="#222" text-anchor="start" font-weight="normal" font-style="normal" stroke="#222" stroke-width="0.55">M1</text>
<text x="1497.7" y="936.4" font-family='"Liberation Serif", "Times New Roman", serif' font-size="23" fill="#222" text-anchor="start" font-weight="normal" font-style="normal" stroke="#222" stroke-width="0.55">M2</text>
<text x="1628.5" y="947.4" font-family='"Liberation Serif", "Times New Roman", serif' font-size="23" fill="#222" text-anchor="start" font-weight="normal" font-style="normal" stroke="#222" stroke-width="0.55">L1</text>
<text x="1391.3" y="1044.9" font-family='"Liberation Serif", "Times New Roman", serif' font-size="23" fill="#222" text-anchor="start" font-weight="normal" font-style="normal" stroke="#222" stroke-width="0.55">L2</text>
</svg>
</body></html>
